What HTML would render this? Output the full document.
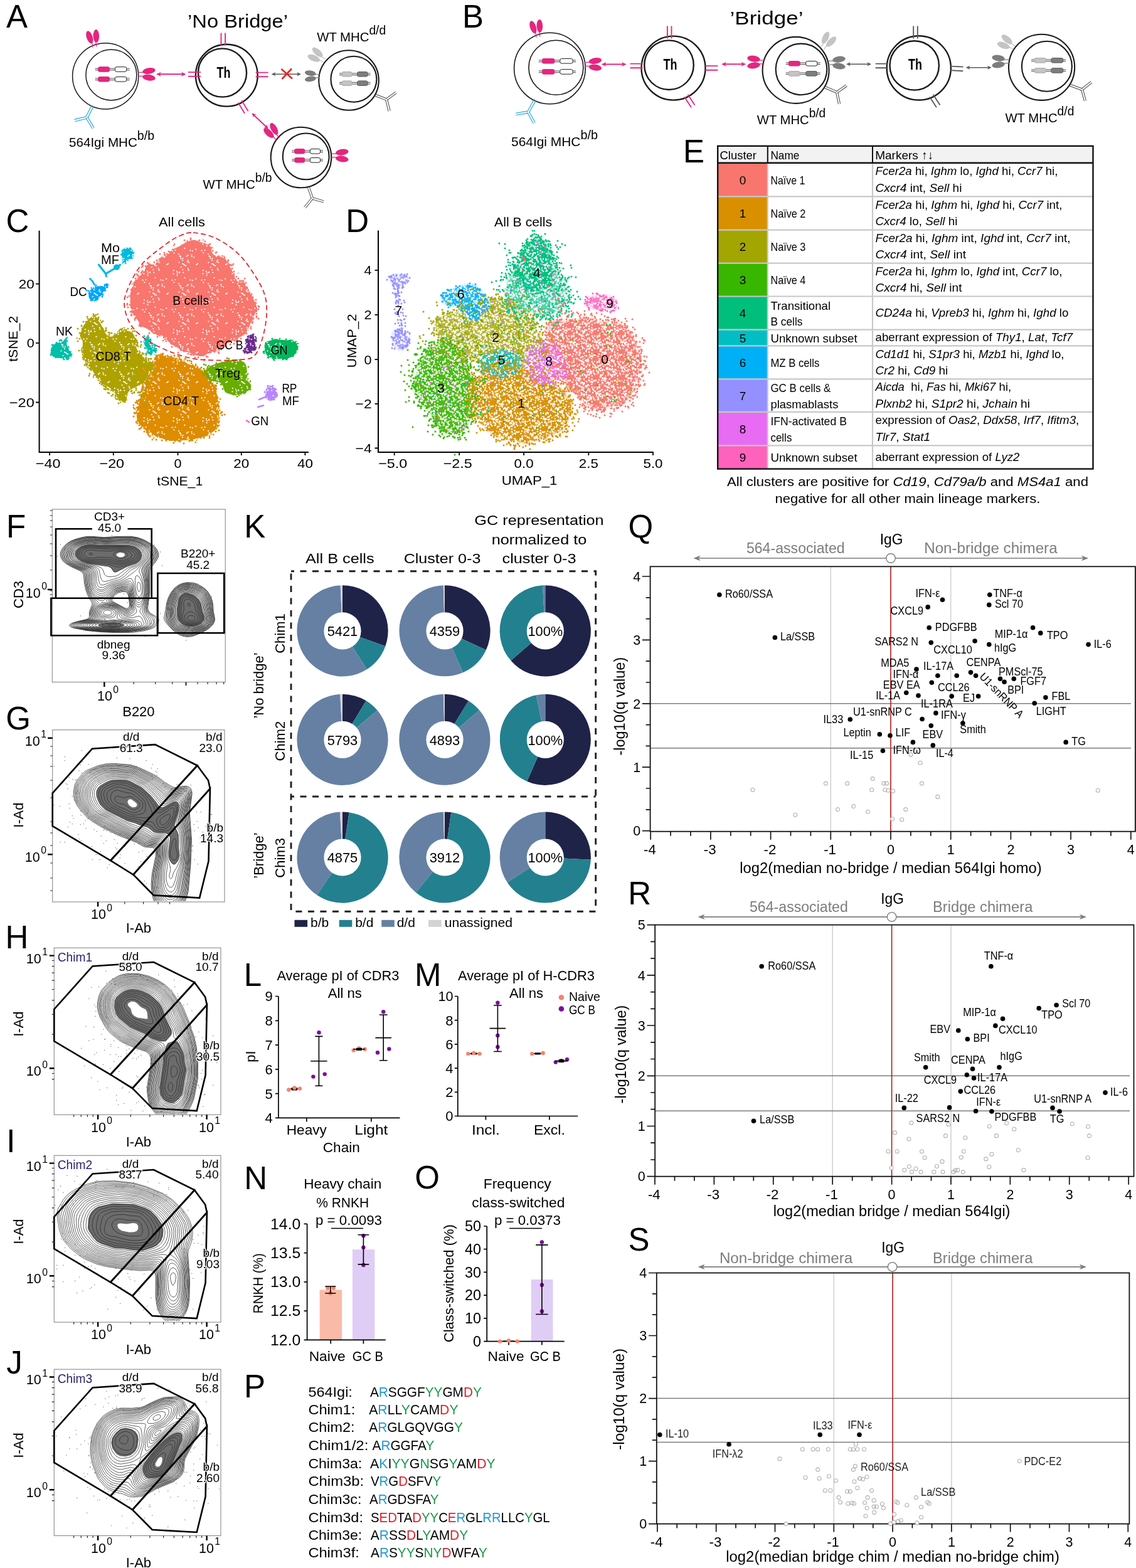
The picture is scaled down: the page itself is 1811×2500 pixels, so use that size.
<!DOCTYPE html>
<html><head><meta charset="utf-8"><title>Figure</title>
<style>html,body{margin:0;padding:0;background:#fff;}svg{display:block;}
text{font-family:"Liberation Sans", Arial, sans-serif;}</style></head>
<body><svg width="1811" height="2500" viewBox="0 0 1811 2500">
<rect width="1811" height="2500" fill="#fff"/>
<text x="10.0" y="43.8" font-size="51">A</text>
<text x="379.0" y="43.5" font-size="30" text-anchor="middle" textLength="160" lengthAdjust="spacingAndGlyphs">’No Bridge’</text>
<circle cx="168.2" cy="121.4" r="52.6" fill="none" stroke="#1a1a1a" stroke-width="1.5"/>
<circle cx="177.4" cy="119.4" r="40.5" fill="none" stroke="#1a1a1a" stroke-width="1.5"/>
<path d="M151.6 109.2H206.7M151.6 111.8H206.7" stroke="#333" stroke-width="0.9" fill="none"/>
<rect x="156.5" y="106.7" width="18.1" height="7.6" rx="2.6" fill="#e4267f" stroke="#e4267f" stroke-width="1"/>
<rect x="183.4" y="106.7" width="18.3" height="7.6" rx="2.6" fill="#fff" stroke="#222" stroke-width="1"/>
<path d="M151.6 125H206.7M151.6 127.6H206.7" stroke="#333" stroke-width="0.9" fill="none"/>
<rect x="156.5" y="122.5" width="18.1" height="7.6" rx="2.6" fill="#e4267f" stroke="#e4267f" stroke-width="1"/>
<rect x="183.4" y="122.5" width="18.3" height="7.6" rx="2.6" fill="#fff" stroke="#222" stroke-width="1"/>
<g transform="translate(220.5 118.3) rotate(0) scale(1.15)" fill="#e4267f"><path d="M0 -2.6H7.5M0 2.6H7.5" stroke="#e4267f" stroke-width="1.1" fill="none"/><ellipse cx="15" cy="-3.5" rx="9" ry="4.2" transform="rotate(-8.4 7 -2)"/><ellipse cx="15" cy="3.5" rx="9" ry="4.2" transform="rotate(8.4 7 2)"/></g>
<g transform="translate(151 75) rotate(-100) scale(1.15)" fill="#e4267f"><path d="M0 -2.6H7.5M0 2.6H7.5" stroke="#e4267f" stroke-width="1.1" fill="none"/><ellipse cx="15" cy="-3.5" rx="9" ry="4.2" transform="rotate(-8.4 7 -2)"/><ellipse cx="15" cy="3.5" rx="9" ry="4.2" transform="rotate(8.4 7 2)"/></g>
<path transform="translate(147.7 168.6) rotate(116.6)" d="M0 1.7L21 1.7M0 -1.7L21 -1.7M19.7 1.1L32.6 16.4M22.3 -1.1L35.2 14.2M22.4 0.9L33 -16.1M19.6 -0.9L30.2 -17.9" stroke="#1b9fe0" stroke-width="1.1" fill="none"/>
<text x="110" y="233.6" font-size="21" textLength="136" lengthAdjust="spacingAndGlyphs">564Igi MHC<tspan font-size="19.9" dy="-11">b/b</tspan></text>
<path d="M253.8 118.3L291.9 118.3" stroke="#e4267f" stroke-width="2.0"/>
<path d="M249 118.3L257 121.9L254.6 118.3L257 114.7Z" fill="#e4267f"/>
<path d="M296.7 118.3L288.7 121.9L291.1 118.3L288.7 114.7Z" fill="#e4267f"/>
<circle cx="361.3" cy="120.2" r="49.4" fill="none" stroke="#1a1a1a" stroke-width="2.4"/>
<circle cx="354.5" cy="116" r="38.6" fill="none" stroke="#1a1a1a" stroke-width="2.4"/>
<text x="356.5" y="123.5" font-size="23" font-weight="bold" text-anchor="middle" textLength="22" lengthAdjust="spacingAndGlyphs">Th</text>
<path transform="translate(355.8 62.6) rotate(90)" d="M-10.0 -3.3H10.0M-10.0 3.3H10.0" stroke="#e4267f" stroke-width="1.9" fill="none"/>
<path transform="translate(310 118.4) rotate(0)" d="M-10.0 -3.3H10.0M-10.0 3.3H10.0" stroke="#e4267f" stroke-width="1.9" fill="none"/>
<path transform="translate(417.6 118.9) rotate(0)" d="M-10.0 -3.3H10.0M-10.0 3.3H10.0" stroke="#e4267f" stroke-width="1.9" fill="none"/>
<path transform="translate(387.7 170.5) rotate(59)" d="M-10.0 -3.3H10.0M-10.0 3.3H10.0" stroke="#e4267f" stroke-width="1.9" fill="none"/>
<path d="M436.8 118.3L475.8 118.3" stroke="#5a5a5a" stroke-width="1.6"/>
<path d="M432.6 118.3L439.6 121.5L437.5 118.3L439.6 115.1Z" fill="#5a5a5a"/>
<path d="M480 118.3L473 121.5L475.1 118.3L473 115.1Z" fill="#5a5a5a"/>
<path d="M448.5 110L466 125.5M465 109.5L449.5 126" stroke="#e52521" stroke-width="2.6"/>
<circle cx="556" cy="128" r="47.8" fill="none" stroke="#1a1a1a" stroke-width="2.1"/>
<circle cx="563.9" cy="126.3" r="36.5" fill="none" stroke="#1a1a1a" stroke-width="2.1"/>
<g transform="translate(517.5 97) rotate(-148) scale(1.15)" fill="#c4c4c4"><path d="M0 -2.6H7.5M0 2.6H7.5" stroke="#c4c4c4" stroke-width="1.1" fill="none"/><ellipse cx="15" cy="-3.5" rx="9" ry="4.2" transform="rotate(-9.6 7 -2)"/><ellipse cx="15" cy="3.5" rx="9" ry="4.2" transform="rotate(9.6 7 2)"/></g>
<g transform="translate(509.5 121.3) rotate(180) scale(1.0)" fill="#7d7d7d"><path d="M0 -2.6H7.5M0 2.6H7.5" stroke="#7d7d7d" stroke-width="1.1" fill="none"/><ellipse cx="15" cy="-3.5" rx="9" ry="4.2" transform="rotate(-8.4 7 -2)"/><ellipse cx="15" cy="3.5" rx="9" ry="4.2" transform="rotate(8.4 7 2)"/></g>
<path d="M541 117H590.5M541 119.6H590.5" stroke="#333" stroke-width="0.9" fill="none"/>
<rect x="545.2" y="114.5" width="16" height="7.6" rx="2.6" fill="#c4c4c4" stroke="#a8a8a8" stroke-width="1"/>
<rect x="569.5" y="114.5" width="16.8" height="7.6" rx="2.6" fill="#7d7d7d" stroke="#5f5f5f" stroke-width="1"/>
<path d="M541 131.4H590.5M541 134H590.5" stroke="#333" stroke-width="0.9" fill="none"/>
<rect x="545.2" y="128.9" width="16" height="7.6" rx="2.6" fill="#c4c4c4" stroke="#a8a8a8" stroke-width="1"/>
<rect x="569.5" y="128.9" width="16.8" height="7.6" rx="2.6" fill="#7d7d7d" stroke="#5f5f5f" stroke-width="1"/>
<path transform="translate(598.5 151.7) rotate(21.5)" d="M0 1.6L19 1.6M0 -1.6L19 -1.6M20.4 0.8L30.4 -15.3M17.6 -0.8L27.7 -17M17.7 0.9L28.6 16.5M20.3 -0.9L31.2 14.6" stroke="#444" stroke-width="1.0" fill="none"/>
<text x="505.2" y="66.2" font-size="21" textLength="110" lengthAdjust="spacingAndGlyphs">WT MHC<tspan font-size="19.9" dy="-11">d/d</tspan></text>
<path d="M404.4 183.2L424.8 202.5" stroke="#e4267f" stroke-width="1.9"/>
<path d="M401.4 180.3L404.3 187.4L405 183.7L408.7 182.8Z" fill="#e4267f"/>
<path d="M427.8 205.4L420.5 202.9L424.2 202L424.9 198.3Z" fill="#e4267f"/>
<circle cx="480" cy="251" r="48.3" fill="none" stroke="#1a1a1a" stroke-width="2.1"/>
<circle cx="487.7" cy="249.4" r="36.9" fill="none" stroke="#1a1a1a" stroke-width="2.1"/>
<g transform="translate(443 222) rotate(-128) scale(1.15)" fill="#e4267f"><path d="M0 -2.6H7.5M0 2.6H7.5" stroke="#e4267f" stroke-width="1.1" fill="none"/><ellipse cx="15" cy="-3.5" rx="9" ry="4.2" transform="rotate(-8.4 7 -2)"/><ellipse cx="15" cy="3.5" rx="9" ry="4.2" transform="rotate(8.4 7 2)"/></g>
<g transform="translate(528.4 248) rotate(0) scale(1.15)" fill="#e4267f"><path d="M0 -2.6H7.5M0 2.6H7.5" stroke="#e4267f" stroke-width="1.1" fill="none"/><ellipse cx="15" cy="-3.5" rx="9" ry="4.2" transform="rotate(-8.4 7 -2)"/><ellipse cx="15" cy="3.5" rx="9" ry="4.2" transform="rotate(8.4 7 2)"/></g>
<path d="M465 239.9H515M465 242.5H515" stroke="#333" stroke-width="0.9" fill="none"/>
<rect x="469.6" y="237.4" width="16.2" height="7.6" rx="2.6" fill="#e4267f" stroke="#e4267f" stroke-width="1"/>
<rect x="494.3" y="237.4" width="16.2" height="7.6" rx="2.6" fill="#fff" stroke="#222" stroke-width="1"/>
<path d="M465 254H515M465 256.6H515" stroke="#333" stroke-width="0.9" fill="none"/>
<rect x="469.6" y="251.5" width="16.2" height="7.6" rx="2.6" fill="#e4267f" stroke="#e4267f" stroke-width="1"/>
<rect x="494.3" y="251.5" width="16.2" height="7.6" rx="2.6" fill="#fff" stroke="#222" stroke-width="1"/>
<path transform="translate(491.7 298.3) rotate(71)" d="M0 1.6L19 1.6M0 -1.6L19 -1.6M17.6 0.8L27.7 17M20.4 -0.8L30.4 15.3M20.3 0.9L31.2 -14.6M17.7 -0.9L28.6 -16.5" stroke="#555" stroke-width="1.0" fill="none"/>
<text x="323.5" y="301.3" font-size="21" textLength="110" lengthAdjust="spacingAndGlyphs">WT MHC<tspan font-size="19.9" dy="-11">b/b</tspan></text>
<text x="737.1" y="43.6" font-size="51">B</text>
<text x="1222.0" y="39.0" font-size="30" text-anchor="middle" textLength="117" lengthAdjust="spacingAndGlyphs">’Bridge’</text>
<circle cx="876.4" cy="109" r="56.8" fill="none" stroke="#1a1a1a" stroke-width="1.6"/>
<circle cx="886.4" cy="107.7" r="43.5" fill="none" stroke="#1a1a1a" stroke-width="1.6"/>
<path d="M858.8 96H918.1M858.8 98.6H918.1" stroke="#333" stroke-width="0.9" fill="none"/>
<rect x="864.3" y="93.5" width="19.7" height="7.6" rx="2.6" fill="#e4267f" stroke="#e4267f" stroke-width="1"/>
<rect x="892.8" y="93.5" width="20.3" height="7.6" rx="2.6" fill="#fff" stroke="#222" stroke-width="1"/>
<path d="M858.8 113.1H918.1M858.8 115.7H918.1" stroke="#333" stroke-width="0.9" fill="none"/>
<rect x="864.3" y="110.6" width="19.7" height="7.6" rx="2.6" fill="#e4267f" stroke="#e4267f" stroke-width="1"/>
<rect x="892.8" y="110.6" width="20.3" height="7.6" rx="2.6" fill="#fff" stroke="#222" stroke-width="1"/>
<g transform="translate(932 102.3) rotate(0) scale(1.15)" fill="#e4267f"><path d="M0 -2.6H7.5M0 2.6H7.5" stroke="#e4267f" stroke-width="1.1" fill="none"/><ellipse cx="15" cy="-3.5" rx="9" ry="4.2" transform="rotate(-8.4 7 -2)"/><ellipse cx="15" cy="3.5" rx="9" ry="4.2" transform="rotate(8.4 7 2)"/></g>
<g transform="translate(858 59) rotate(-100) scale(1.15)" fill="#e4267f"><path d="M0 -2.6H7.5M0 2.6H7.5" stroke="#e4267f" stroke-width="1.1" fill="none"/><ellipse cx="15" cy="-3.5" rx="9" ry="4.2" transform="rotate(-8.4 7 -2)"/><ellipse cx="15" cy="3.5" rx="9" ry="4.2" transform="rotate(8.4 7 2)"/></g>
<path transform="translate(853.2 158.6) rotate(119)" d="M0 1.7L23 1.7M0 -1.7L23 -1.7M21.7 1L34 16.8M24.3 -1L36.7 14.7M24.4 0.9L35 -16.1M21.6 -0.9L32.2 -17.9" stroke="#1b9fe0" stroke-width="1.1" fill="none"/>
<text x="815" y="233.4" font-size="21" textLength="138" lengthAdjust="spacingAndGlyphs">564Igi MHC<tspan font-size="19.9" dy="-11">b/b</tspan></text>
<path d="M963.5 102.5L994 102.5" stroke="#e4267f" stroke-width="2.0"/>
<path d="M958.7 102.5L966.7 106.1L964.3 102.5L966.7 98.9Z" fill="#e4267f"/>
<path d="M998.8 102.5L990.8 106.1L993.2 102.5L990.8 98.9Z" fill="#e4267f"/>
<circle cx="1073.5" cy="108.6" r="51" fill="none" stroke="#1a1a1a" stroke-width="2.4"/>
<circle cx="1066.5" cy="103.7" r="39.3" fill="none" stroke="#1a1a1a" stroke-width="2.4"/>
<text x="1068.5" y="111" font-size="23" font-weight="bold" text-anchor="middle" textLength="22" lengthAdjust="spacingAndGlyphs">Th</text>
<path transform="translate(1067.2 51.6) rotate(90)" d="M-10.0 -3.3H10.0M-10.0 3.3H10.0" stroke="#e4267f" stroke-width="1.9" fill="none"/>
<path transform="translate(1014.5 104.9) rotate(0)" d="M-10.0 -3.3H10.0M-10.0 3.3H10.0" stroke="#e4267f" stroke-width="1.9" fill="none"/>
<path transform="translate(1134.4 108.4) rotate(0)" d="M-10.0 -3.3H10.0M-10.0 3.3H10.0" stroke="#e4267f" stroke-width="1.9" fill="none"/>
<path transform="translate(1099.3 161) rotate(57)" d="M-10.0 -3.3H10.0M-10.0 3.3H10.0" stroke="#e4267f" stroke-width="1.9" fill="none"/>
<path d="M1154.9 102.3L1184.5 102.3" stroke="#e4267f" stroke-width="2.0"/>
<path d="M1150.1 102.3L1158.1 105.9L1155.7 102.3L1158.1 98.7Z" fill="#e4267f"/>
<path d="M1189.3 102.3L1181.3 105.9L1183.7 102.3L1181.3 98.7Z" fill="#e4267f"/>
<circle cx="1268.6" cy="111.9" r="53" fill="none" stroke="#1a1a1a" stroke-width="2.1"/>
<circle cx="1277.5" cy="110.4" r="40.8" fill="none" stroke="#1a1a1a" stroke-width="2.1"/>
<path d="M1252.6 100H1307.8M1252.6 102.6H1307.8" stroke="#333" stroke-width="0.9" fill="none"/>
<rect x="1257.2" y="97.5" width="18.1" height="7.6" rx="2.6" fill="#e4267f" stroke="#e4267f" stroke-width="1"/>
<rect x="1284.7" y="97.5" width="18.1" height="7.6" rx="2.6" fill="#fff" stroke="#222" stroke-width="1"/>
<path d="M1252.6 116.1H1307.8M1252.6 118.7H1307.8" stroke="#333" stroke-width="0.9" fill="none"/>
<rect x="1257.2" y="113.6" width="18.1" height="7.6" rx="2.6" fill="#c4c4c4" stroke="#a8a8a8" stroke-width="1"/>
<rect x="1284.7" y="113.6" width="18.1" height="7.6" rx="2.6" fill="#7d7d7d" stroke="#5f5f5f" stroke-width="1"/>
<g transform="translate(1218.4 99) rotate(180) scale(1.15)" fill="#e4267f"><path d="M0 -2.6H7.5M0 2.6H7.5" stroke="#e4267f" stroke-width="1.1" fill="none"/><ellipse cx="15" cy="-3.5" rx="9" ry="4.2" transform="rotate(-8.4 7 -2)"/><ellipse cx="15" cy="3.5" rx="9" ry="4.2" transform="rotate(8.4 7 2)"/></g>
<g transform="translate(1311 77) rotate(-55) scale(1.15)" fill="#c4c4c4"><path d="M0 -2.6H7.5M0 2.6H7.5" stroke="#c4c4c4" stroke-width="1.1" fill="none"/><ellipse cx="15" cy="-3.5" rx="9" ry="4.2" transform="rotate(-9.6 7 -2)"/><ellipse cx="15" cy="3.5" rx="9" ry="4.2" transform="rotate(9.6 7 2)"/></g>
<g transform="translate(1320.5 100) rotate(0) scale(1.15)" fill="#7d7d7d"><path d="M0 -2.6H7.5M0 2.6H7.5" stroke="#7d7d7d" stroke-width="1.1" fill="none"/><ellipse cx="15" cy="-3.5" rx="9" ry="4.2" transform="rotate(-8.4 7 -2)"/><ellipse cx="15" cy="3.5" rx="9" ry="4.2" transform="rotate(8.4 7 2)"/></g>
<path transform="translate(1313.8 138.5) rotate(23)" d="M0 1.6L22 1.6M0 -1.6L22 -1.6M23.4 0.8L33.4 -15.3M20.6 -0.8L30.7 -17M20.7 0.9L31.6 16.5M23.3 -0.9L34.2 14.6" stroke="#444" stroke-width="1.0" fill="none"/>
<text x="1206.8" y="197.7" font-size="21" textLength="109.5" lengthAdjust="spacingAndGlyphs">WT MHC<tspan font-size="19.9" dy="-11">b/d</tspan></text>
<path d="M1353.2 102.3L1384.9 102.3" stroke="#5a5a5a" stroke-width="1.6"/>
<path d="M1349 102.3L1356 105.5L1353.9 102.3L1356 99.1Z" fill="#5a5a5a"/>
<path d="M1389.1 102.3L1382.1 105.5L1384.2 102.3L1382.1 99.1Z" fill="#5a5a5a"/>
<circle cx="1464.8" cy="108.4" r="51.1" fill="none" stroke="#1a1a1a" stroke-width="2.4"/>
<circle cx="1457.7" cy="104.4" r="39.2" fill="none" stroke="#1a1a1a" stroke-width="2.4"/>
<text x="1459" y="111" font-size="23" font-weight="bold" text-anchor="middle" textLength="22" lengthAdjust="spacingAndGlyphs">Th</text>
<path transform="translate(1459.5 51.6) rotate(90)" d="M-10.0 -3.3H10.0M-10.0 3.3H10.0" stroke="#5a5a5a" stroke-width="1.9" fill="none"/>
<path transform="translate(1405.7 104.9) rotate(0)" d="M-10.0 -3.3H10.0M-10.0 3.3H10.0" stroke="#5a5a5a" stroke-width="1.9" fill="none"/>
<path transform="translate(1525.5 109.4) rotate(3)" d="M-10.0 -3.3H10.0M-10.0 3.3H10.0" stroke="#5a5a5a" stroke-width="1.9" fill="none"/>
<path transform="translate(1490.3 161) rotate(57)" d="M-10.0 -3.3H10.0M-10.0 3.3H10.0" stroke="#5a5a5a" stroke-width="1.9" fill="none"/>
<path d="M1543.8 107.8L1576.6 107.8" stroke="#5a5a5a" stroke-width="1.6"/>
<path d="M1539.6 107.8L1546.6 111L1544.5 107.8L1546.6 104.6Z" fill="#5a5a5a"/>
<path d="M1580.8 107.8L1573.8 111L1575.9 107.8L1573.8 104.6Z" fill="#5a5a5a"/>
<circle cx="1660.6" cy="107.3" r="52.6" fill="none" stroke="#1a1a1a" stroke-width="2.1"/>
<circle cx="1668.9" cy="105.8" r="40" fill="none" stroke="#1a1a1a" stroke-width="2.1"/>
<path d="M1644 95H1699.3M1644 97.6H1699.3" stroke="#333" stroke-width="0.9" fill="none"/>
<rect x="1649" y="92.5" width="18.5" height="7.6" rx="2.6" fill="#c4c4c4" stroke="#a8a8a8" stroke-width="1"/>
<rect x="1675.8" y="92.5" width="19" height="7.6" rx="2.6" fill="#7d7d7d" stroke="#5f5f5f" stroke-width="1"/>
<path d="M1644 111.1H1699.3M1644 113.7H1699.3" stroke="#333" stroke-width="0.9" fill="none"/>
<rect x="1649" y="108.6" width="18.5" height="7.6" rx="2.6" fill="#c4c4c4" stroke="#a8a8a8" stroke-width="1"/>
<rect x="1675.8" y="108.6" width="19" height="7.6" rx="2.6" fill="#7d7d7d" stroke="#5f5f5f" stroke-width="1"/>
<g transform="translate(1617 76) rotate(-150) scale(1.15)" fill="#c4c4c4"><path d="M0 -2.6H7.5M0 2.6H7.5" stroke="#c4c4c4" stroke-width="1.1" fill="none"/><ellipse cx="15" cy="-3.5" rx="9" ry="4.2" transform="rotate(-9.6 7 -2)"/><ellipse cx="15" cy="3.5" rx="9" ry="4.2" transform="rotate(9.6 7 2)"/></g>
<g transform="translate(1608.5 98) rotate(180) scale(1.15)" fill="#7d7d7d"><path d="M0 -2.6H7.5M0 2.6H7.5" stroke="#7d7d7d" stroke-width="1.1" fill="none"/><ellipse cx="15" cy="-3.5" rx="9" ry="4.2" transform="rotate(-8.4 7 -2)"/><ellipse cx="15" cy="3.5" rx="9" ry="4.2" transform="rotate(8.4 7 2)"/></g>
<path transform="translate(1705.3 135.5) rotate(20)" d="M0 1.6L21 1.6M0 -1.6L21 -1.6M22.4 0.8L32.4 -15.3M19.6 -0.8L29.7 -17M19.7 0.9L30.6 16.5M22.3 -0.9L33.2 14.6" stroke="#444" stroke-width="1.0" fill="none"/>
<text x="1602.4" y="194.7" font-size="21" textLength="110" lengthAdjust="spacingAndGlyphs">WT MHC<tspan font-size="19.9" dy="-11">d/d</tspan></text>
<text x="1089.0" y="258.9" font-size="51">E</text>
<rect x="1144.2" y="232.8" width="598.3" height="27.0" fill="#f2f2f2"/>
<rect x="1144.2" y="259.8" width="79.59999999999991" height="53.599999999999966" fill="#F8766D"/>
<rect x="1144.2" y="313.4" width="79.59999999999991" height="53.200000000000045" fill="#D89000"/>
<rect x="1144.2" y="366.6" width="79.59999999999991" height="53.0" fill="#A3A500"/>
<rect x="1144.2" y="419.6" width="79.59999999999991" height="52.89999999999998" fill="#39B600"/>
<rect x="1144.2" y="472.5" width="79.59999999999991" height="53.10000000000002" fill="#00BF7D"/>
<rect x="1144.2" y="525.6" width="79.59999999999991" height="25.799999999999955" fill="#00BFC4"/>
<rect x="1144.2" y="551.4" width="79.59999999999991" height="53.0" fill="#00B0F6"/>
<rect x="1144.2" y="604.4" width="79.59999999999991" height="52.5" fill="#9590FF"/>
<rect x="1144.2" y="656.9" width="79.59999999999991" height="53.39999999999998" fill="#E76BF3"/>
<rect x="1144.2" y="710.3" width="79.59999999999991" height="37.30000000000007" fill="#FF62BC"/>
<path d="M1144.2 313.4H1742.5M1144.2 366.6H1742.5M1144.2 419.6H1742.5M1144.2 472.5H1742.5M1144.2 525.6H1742.5M1144.2 551.4H1742.5M1144.2 604.4H1742.5M1144.2 656.9H1742.5M1144.2 710.3H1742.5M1223.8 259.8V747.6M1391 259.8V747.6" stroke="#c8c8c8" stroke-width="2.2" fill="none"/>
<path d="M1223.8 232.8V259.8M1391 232.8V259.8" stroke="#111" stroke-width="2" fill="none"/>
<path d="M1144.2 259.8H1742.5" stroke="#111" stroke-width="2.6"/>
<rect x="1144.2" y="232.8" width="598.3" height="514.8" fill="none" stroke="#111" stroke-width="2.4"/>
<text x="1147.5" y="253.8" font-size="19" textLength="58.5" lengthAdjust="spacingAndGlyphs">Cluster</text>
<text x="1228.4" y="253.8" font-size="19" textLength="46" lengthAdjust="spacingAndGlyphs">Name</text>
<text x="1395.2" y="253.8" font-size="19" textLength="93" lengthAdjust="spacingAndGlyphs">Markers ↑↓</text>
<text x="1184.0" y="293.6" font-size="19" text-anchor="middle">0</text>
<text x="1228.4" y="293.6" font-size="19" textLength="55" lengthAdjust="spacingAndGlyphs">Naïve 1</text>
<text x="1395.5" y="279.3" font-size="19" textLength="291" lengthAdjust="spacingAndGlyphs" xml:space="preserve"><tspan font-style="italic">Fcer2a</tspan> hi, <tspan font-style="italic">Ighm</tspan> lo, <tspan font-style="italic">Ighd</tspan> hi, <tspan font-style="italic">Ccr7</tspan> hi,</text>
<text x="1395.5" y="305.6" font-size="19" textLength="138" lengthAdjust="spacingAndGlyphs" xml:space="preserve"><tspan font-style="italic">Cxcr4</tspan> int, <tspan font-style="italic">Sell</tspan> hi</text>
<text x="1184.0" y="347.0" font-size="19" text-anchor="middle">1</text>
<text x="1228.4" y="347.0" font-size="19" textLength="56" lengthAdjust="spacingAndGlyphs">Naïve 2</text>
<text x="1395.5" y="332.7" font-size="19" textLength="298" lengthAdjust="spacingAndGlyphs" xml:space="preserve"><tspan font-style="italic">Fcer2a</tspan> hi, <tspan font-style="italic">Ighm</tspan> hi, <tspan font-style="italic">Ighd</tspan> hi, <tspan font-style="italic">Ccr7</tspan> int,</text>
<text x="1395.5" y="359.0" font-size="19" textLength="131" lengthAdjust="spacingAndGlyphs" xml:space="preserve"><tspan font-style="italic">Cxcr4</tspan> lo, <tspan font-style="italic">Sell</tspan> hi</text>
<text x="1184.0" y="400.1" font-size="19" text-anchor="middle">2</text>
<text x="1228.4" y="400.1" font-size="19" textLength="56" lengthAdjust="spacingAndGlyphs">Naïve 3</text>
<text x="1395.5" y="385.8" font-size="19" textLength="311" lengthAdjust="spacingAndGlyphs" xml:space="preserve"><tspan font-style="italic">Fcer2a</tspan> hi, <tspan font-style="italic">Ighm</tspan> int, <tspan font-style="italic">Ighd</tspan> int, <tspan font-style="italic">Ccr7</tspan> int,</text>
<text x="1395.5" y="412.1" font-size="19" textLength="144.6" lengthAdjust="spacingAndGlyphs" xml:space="preserve"><tspan font-style="italic">Cxcr4</tspan> int, <tspan font-style="italic">Sell</tspan> int</text>
<text x="1184.0" y="453.1" font-size="19" text-anchor="middle">3</text>
<text x="1228.4" y="453.1" font-size="19" textLength="56" lengthAdjust="spacingAndGlyphs">Naïve 4</text>
<text x="1395.5" y="438.8" font-size="19" textLength="298" lengthAdjust="spacingAndGlyphs" xml:space="preserve"><tspan font-style="italic">Fcer2a</tspan> hi, <tspan font-style="italic">Ighm</tspan> lo, <tspan font-style="italic">Ighd</tspan> int, <tspan font-style="italic">Ccr7</tspan> lo,</text>
<text x="1395.5" y="465.1" font-size="19" textLength="138" lengthAdjust="spacingAndGlyphs" xml:space="preserve"><tspan font-style="italic">Cxcr4</tspan> hi, <tspan font-style="italic">Sell</tspan> int</text>
<text x="1184.0" y="506.1" font-size="19" text-anchor="middle">4</text>
<text x="1228.4" y="493.6" font-size="19" textLength="95.7" lengthAdjust="spacingAndGlyphs">Transitional</text>
<text x="1228.4" y="519.0" font-size="19" textLength="51" lengthAdjust="spacingAndGlyphs">B cells</text>
<text x="1395.5" y="504.6" font-size="19" textLength="308" lengthAdjust="spacingAndGlyphs" xml:space="preserve"><tspan font-style="italic">CD24a</tspan> hi, <tspan font-style="italic">Vpreb3</tspan> hi, <tspan font-style="italic">Ighm</tspan> hi, <tspan font-style="italic">Ighd</tspan> lo</text>
<text x="1184.0" y="545.5" font-size="19" text-anchor="middle">5</text>
<text x="1228.4" y="545.5" font-size="19" textLength="138.3" lengthAdjust="spacingAndGlyphs">Unknown subset</text>
<text x="1395.5" y="544.0" font-size="19" textLength="314.6" lengthAdjust="spacingAndGlyphs" xml:space="preserve">aberrant expression of <tspan font-style="italic">Thy1</tspan>, <tspan font-style="italic">Lat</tspan>, <tspan font-style="italic">Tcf7</tspan></text>
<text x="1184.0" y="584.9" font-size="19" text-anchor="middle">6</text>
<text x="1228.4" y="584.9" font-size="19" textLength="78" lengthAdjust="spacingAndGlyphs">MZ B cells</text>
<text x="1395.5" y="570.6" font-size="19" textLength="301" lengthAdjust="spacingAndGlyphs" xml:space="preserve"><tspan font-style="italic">Cd1d1</tspan> hi, <tspan font-style="italic">S1pr3</tspan> hi, <tspan font-style="italic">Mzb1</tspan> hi, <tspan font-style="italic">Ighd</tspan> lo,</text>
<text x="1395.5" y="596.9" font-size="19" textLength="115.7" lengthAdjust="spacingAndGlyphs" xml:space="preserve"><tspan font-style="italic">Cr2</tspan> hi, <tspan font-style="italic">Cd9</tspan> hi</text>
<text x="1184.0" y="637.6" font-size="19" text-anchor="middle">7</text>
<text x="1228.4" y="625.1" font-size="19" textLength="96" lengthAdjust="spacingAndGlyphs">GC B cells &amp;</text>
<text x="1228.4" y="650.6" font-size="19" textLength="108" lengthAdjust="spacingAndGlyphs">plasmablasts</text>
<text x="1395.5" y="623.4" font-size="19" textLength="216.7" lengthAdjust="spacingAndGlyphs" xml:space="preserve"><tspan font-style="italic">Aicda</tspan>  hi, <tspan font-style="italic">Fas</tspan> hi, <tspan font-style="italic">Mki67</tspan> hi,</text>
<text x="1395.5" y="649.6" font-size="19" textLength="246.5" lengthAdjust="spacingAndGlyphs" xml:space="preserve"><tspan font-style="italic">Plxnb2</tspan> hi, <tspan font-style="italic">S1pr2</tspan> hi, <tspan font-style="italic">Jchain</tspan> hi</text>
<text x="1184.0" y="690.6" font-size="19" text-anchor="middle">8</text>
<text x="1228.4" y="678.1" font-size="19" textLength="121.5" lengthAdjust="spacingAndGlyphs">IFN-activated B</text>
<text x="1228.4" y="703.6" font-size="19" textLength="34" lengthAdjust="spacingAndGlyphs">cells</text>
<text x="1395.5" y="676.3" font-size="19" textLength="324.8" lengthAdjust="spacingAndGlyphs" xml:space="preserve">expression of <tspan font-style="italic">Oas2</tspan>, <tspan font-style="italic">Ddx58</tspan>, <tspan font-style="italic">Irf7</tspan>, <tspan font-style="italic">Ifitm3</tspan>,</text>
<text x="1395.5" y="702.6" font-size="19" textLength="87.7" lengthAdjust="spacingAndGlyphs" xml:space="preserve"><tspan font-style="italic">Tlr7</tspan>, <tspan font-style="italic">Stat1</tspan></text>
<text x="1184.0" y="736.0" font-size="19" text-anchor="middle">9</text>
<text x="1228.4" y="736.0" font-size="19" textLength="138.3" lengthAdjust="spacingAndGlyphs">Unknown subset</text>
<text x="1395.5" y="734.5" font-size="19" textLength="230" lengthAdjust="spacingAndGlyphs" xml:space="preserve">aberrant expression of <tspan font-style="italic">Lyz2</tspan></text>
<text x="1447" y="774.8" font-size="20" textLength="576" lengthAdjust="spacingAndGlyphs" text-anchor="middle" xml:space="preserve">All clusters are positive for <tspan font-style="italic">Cd19</tspan>, <tspan font-style="italic">Cd79a/b</tspan> and <tspan font-style="italic">MS4a1</tspan> and</text>
<text x="1447" y="801.5" font-size="20" textLength="423" lengthAdjust="spacingAndGlyphs" text-anchor="middle" xml:space="preserve">negative for all other main lineage markers.</text>
<text x="9.5" y="370.4" font-size="51">C</text>
<text x="290.0" y="361.2" font-size="21" text-anchor="middle" textLength="74" lengthAdjust="spacingAndGlyphs">All cells</text>
<path d="M62.6 367.8V721H492" fill="none" stroke="#000" stroke-width="2.0"/>
<path d="M79.1 721V726M180.8 721V726M283.5 721V726M384.8 721V726M486.4 721V726M62.4 452.6H57M62.4 546.9H57M62.4 641.5H57" stroke="#000" stroke-width="1.8"/>
<text x="76.6" y="746.3" font-size="21" text-anchor="middle" textLength="39.6" lengthAdjust="spacingAndGlyphs">−40</text>
<text x="178.3" y="746.3" font-size="21" text-anchor="middle" textLength="39.6" lengthAdjust="spacingAndGlyphs">−20</text>
<text x="283.5" y="746.3" font-size="21" text-anchor="middle" textLength="12" lengthAdjust="spacingAndGlyphs">0</text>
<text x="384.8" y="746.3" font-size="21" text-anchor="middle" textLength="25" lengthAdjust="spacingAndGlyphs">20</text>
<text x="486.4" y="746.3" font-size="21" text-anchor="middle" textLength="25" lengthAdjust="spacingAndGlyphs">40</text>
<text x="54.8" y="460.1" font-size="21" text-anchor="end" textLength="25" lengthAdjust="spacingAndGlyphs">20</text>
<text x="54.8" y="554.4" font-size="21" text-anchor="end" textLength="12" lengthAdjust="spacingAndGlyphs">0</text>
<text x="54.8" y="649.0" font-size="21" text-anchor="end" textLength="40" lengthAdjust="spacingAndGlyphs">−20</text>
<text x="286.7" y="774.2" font-size="21" text-anchor="middle" textLength="73" lengthAdjust="spacingAndGlyphs">tSNE_1</text>
<text transform="translate(27.5 540.3) rotate(-90)" font-size="21" text-anchor="middle" textLength="73" lengthAdjust="spacingAndGlyphs">tSNE_2</text>
<defs><pattern id="spC" patternUnits="userSpaceOnUse" width="47" height="47"><g fill="#fff"><circle cx="10.7" cy="45.2" r="1.1"/><circle cx="5.9" cy="33.1" r="1.1"/><circle cx="4.0" cy="11.6" r="1.1"/><circle cx="-0.0" cy="9.8" r="1.1"/><circle cx="47.0" cy="9.8" r="1.1"/><circle cx="30.2" cy="21.6" r="1.1"/><circle cx="21.3" cy="23.3" r="1.1"/><circle cx="9.0" cy="39.0" r="1.1"/><circle cx="4.2" cy="11.0" r="1.1"/><circle cx="0.9" cy="12.5" r="1.1"/><circle cx="47.9" cy="12.5" r="1.1"/><circle cx="19.2" cy="42.4" r="1.1"/><circle cx="17.8" cy="5.3" r="1.1"/><circle cx="12.1" cy="-0.4" r="1.1"/><circle cx="12.1" cy="46.6" r="1.1"/><circle cx="3.0" cy="29.1" r="1.1"/><circle cx="17.7" cy="31.1" r="1.1"/><circle cx="15.9" cy="32.5" r="1.1"/><circle cx="23.4" cy="30.5" r="1.1"/><circle cx="42.4" cy="27.3" r="1.1"/><circle cx="6.7" cy="3.0" r="1.1"/><circle cx="44.5" cy="23.0" r="1.1"/><circle cx="9.1" cy="44.5" r="1.1"/><circle cx="27.2" cy="34.3" r="1.1"/><circle cx="41.4" cy="13.4" r="1.1"/><circle cx="16.8" cy="41.3" r="1.1"/><circle cx="6.3" cy="35.9" r="1.1"/><circle cx="4.6" cy="32.4" r="1.1"/><circle cx="33.0" cy="44.6" r="1.1"/><circle cx="39.6" cy="23.7" r="1.1"/><circle cx="9.3" cy="7.1" r="1.1"/><circle cx="24.8" cy="24.0" r="1.1"/><circle cx="3.4" cy="42.5" r="1.1"/><circle cx="23.8" cy="33.0" r="1.1"/><circle cx="10.3" cy="11.5" r="1.1"/><circle cx="0.6" cy="16.1" r="1.1"/><circle cx="47.6" cy="16.1" r="1.1"/><circle cx="12.5" cy="19.9" r="1.1"/><circle cx="17.7" cy="39.2" r="1.1"/><circle cx="41.9" cy="8.2" r="1.1"/><circle cx="18.6" cy="7.8" r="1.1"/><circle cx="31.2" cy="45.8" r="1.1"/><circle cx="9.5" cy="36.0" r="1.1"/><circle cx="14.1" cy="0.6" r="1.1"/><circle cx="14.1" cy="47.6" r="1.1"/></g></pattern></defs>
<path d="M298.5 385L301 384.2L303.7 383.8L306.3 382.9L309.2 382.5L312.1 382.9L314.9 384.5L318.1 385.8L321.9 386.7L326.1 387.6L329.8 389.3L332.9 391.2L335.2 392.9L336.9 394.2L337.3 396L337.1 397.6L336.7 399.1L337.1 400.4L337.5 401.6L338.4 403.1L339.6 405L341.3 406.4L343.4 407.5L345.9 407.9L348.5 408.3L351.2 408.6L353.9 409.6L356.4 411.2L358.8 413L360.6 415.3L362 417.3L363.1 418.8L364.7 419.6L365.9 420.8L366.5 422.3L366.4 424.3L367 426.2L368 428.1L369.5 430L370.6 432.2L371.6 434.5L372.4 436.7L373.3 438.6L374 440.3L374.4 442.1L375 443.7L375.6 445.2L376.4 446.4L377.2 447.6L378.6 448.6L380.4 449.6L382.5 450.2L384.5 450.5L386.2 450.1L387.9 449.7L389.6 450.4L390.7 451.7L391.4 453.4L392.2 455.1L393 456.8L394.2 458.3L395.3 459.8L396.5 461.2L396.9 463.1L397.5 465L398.1 467.2L399.4 469.3L400.9 472L402.8 475L404.8 478.2L406.6 481.5L407.8 484.8L408.8 487.6L409.4 489.9L410.2 491.9L410.1 493.8L409.6 495.5L408.6 497L407.3 498.5L406.5 500.2L405.7 501.9L405.2 503.9L404.3 505.7L403.6 507.8L402.8 509.7L402 511.6L400.8 513.2L399.5 514.8L398.9 516.7L398.2 518.7L397.4 520.8L396 522.7L394.8 524.8L393.8 527.2L393 529.6L391.6 531.7L389.7 533.2L387.9 534.7L385.9 535.8L383.8 536.9L381.5 537.8L379.5 539.6L377.3 541L375 542.3L372.3 542.9L369.6 543.8L367 544.6L364.5 546L362.1 547.3L360.1 549.2L357.9 550.7L355.9 552.3L353.7 553.8L351.8 555.5L349.8 557.3L347.6 558.7L345.2 559.8L342.7 560.8L340.2 561.7L337.8 562.5L335.3 563L332.8 563.4L330.5 564.1L328.5 565.3L326.7 566.7L324.7 567.9L322.4 568L320.1 568.1L317.8 567.8L315.5 567.4L313.2 566.6L310.8 565.7L308.3 564.8L305.6 563.6L302.7 562.4L299.3 561.5L295.5 561.1L291.9 560.2L288.7 558.6L285.9 556.4L283 554.2L279.8 552.5L276.5 550.8L273.4 549.1L270.8 546.9L268.6 544.5L266.4 542.3L264.4 540L262.2 538.1L259.9 535.9L257.1 534.6L253.8 534L250.6 533.5L247.4 532.7L244.3 531.2L241.4 529.5L238.8 527.3L236.1 525.2L233.2 523.4L229.8 522.1L226.6 520.4L224.2 517.9L222.3 514.9L220.5 512.1L218.5 509.6L216.6 506.9L214.4 504.5L212.1 502L210.2 499.1L209.2 495.6L208.9 491.8L208 488L207.8 484.1L207.4 480.4L207.7 476.9L207.5 473.6L207.5 470.3L208.1 467.1L208.9 464L209.9 461.2L210.7 458.5L211.2 455.9L211.7 453.5L212.3 451.2L213.5 449.2L215.1 447.5L216.6 445.8L218.1 444.4L219.5 442.9L221.2 441.7L222.7 440.2L224.3 438.7L225.7 436.8L227.3 434.8L229 432.6L230.7 430.3L231.9 427.8L232.8 425.2L234.2 422.9L236.4 421.4L239 421.1L241.5 421.2L243.7 421.8L245.7 421.7L247.3 421.5L248.2 420.5L249.3 419.3L250 417.7L251.1 416.1L251.7 414.4L252.9 412.8L254.5 411.5L256.7 410.7L259.2 410.4L261.6 409.8L264 409.1L265.8 407.6L267.8 406.4L269.2 404.7L270.8 403.2L271.7 401L273 399.3L274.6 397.7L276.5 396.8L278.4 396.1L280.3 395.6L282.2 395L284 394L285.8 392.8L287.7 391.4L289.7 390.1L291.9 388.9L294.1 387.7L296.2 386.2Z" fill="#F8766D"/>
<path d="M324 383h0m-6 0h0m-14-3h0m0 2h0m-10 1h0m-16 6h0m21-5h0m5 2h0m12-1h0m11 0h0m8 4h0m3 6h0m-5-5h0m-44 3h0m-2 1h0m-4 1h0m-6-4h0m-8 10h0m6-3h0m8-2h0m52 2h0m4 2h0m6 2h0m-1 1h0m-73-1h0m-2 4h0m-1 0h0m-2-1h0m-3 2h0m-1-1h0m0-3h0m-7 2h0m3 5h0m1-1h0m8-1h0m81 0h0m4 3h0m2-3h0m3 1h0m1 2h0m6 4h0m-1 4h0m0-3h0m-4-2h0m-107 3h0m-2-2h0m-4 3h0m-11 1h0m-8 6h0m1-2h0m4 1h0m1 1h0m1 0h0m3-2h0m0-3h0m1 1h0m7 0h0m122 1h0m2 1h0m1 0h0m2-2h0m-2 7h0m-144-2h0m-8 11h0m3-4h0m4 2h0m2-2h0m0-1h0m146 1h0m0 4h0m7-2h0m-3 6h0m-153 0h0m-3-1h0m-1 0h0m-1-2h0m-3 6h0m2 0h0m158 2h0m4-2h0m2 4h0m2 0h0m2 0h0m2 0h0m2-4h0m2 7h0m-179 3h0m-2-1h0m0 7h0m2-1h0m181-1h0m4 9h0m-187-4h0m-2-1h0m-3 10h0m3-4h0m191 3h0m1-2h0m0 4h0m7 5h0m-5-4h0m-1 1h0m-199-1h0m0 10h0m203-1h0m1 0h0m1 0h0m5 6h0m-1-1h0m-203 2h0m-2-4h0m-3 4h0m-1-4h0m5 11h0m1 0h0m2 0h0m197-2h0m1-3h0m0 4h0m3-3h0m-3 7h0m-195 2h0m-1-1h0m-2-1h0m-1 3h0m-1-1h0m6 6h0m1-1h0m185 2h0m3-1h0m5-2h0m0-2h0m3 4h0m-9 5h0m-1 2h0m-180 0h0m-7-5h0m7 9h0m1-3h0m0 1h0m1 2h0m0 1h0m2 0h0m174 1h0m0 3h0m-5 1h0m-157 6h0m7 0h0m5 1h0m142-3h0m1 3h0m-132 6h0m-6-3h0m-3-1h0m-1 3h0m-15-3h0m0 1h0m24 8h0m3-2h0m2 3h0m100 1h0m8-3h0m1 1h0m3 1h0m1-2h0m0-1h0m6-1h0m-11 8h0m-6 1h0m-7 2h0m-2-1h0m-85-2h0m1 5h0m6-1h0m72 2h0m1 3h0m5-5h0m-9 7h0m0 4h0m-1-2h0m-6 0h0m-2-1h0m-47 1h0m-5-3h0m-4 4h0m16 2h0m4 1h0m2 0h0m3 1h0m20 2h0m2 1h0m-5 5h0m0-1h0m-10-3h0m-5 0h0" stroke="#F8766D" stroke-width="3" stroke-linecap="round" fill="none"/>
<path d="M149.5 501.8L151.1 501.8L151.9 503.1L152.5 504.4L153.5 505.7L154.8 507L155.7 508.6L156.6 510.6L158 512.8L159.5 515L161.1 517.2L162 519.5L163.1 521L164.1 522.2L165.2 523.6L165.7 525.1L165.5 526.7L165.6 528.3L166.3 529.8L167.8 531.3L169.5 533.1L171.4 534.8L173.7 536L176 536.6L177.9 536.7L179.6 536.3L181.5 535.5L183.3 534L185.3 532.4L187.3 531L189.3 529.9L191.5 528.5L194 527.6L196.8 527L199.5 527.3L202.1 527.3L204.3 527.8L206.4 528L208.3 529L210.1 530L211.6 531.5L212.9 533.2L214 535.2L214.7 537.6L215 540.4L215.1 543.4L215.1 546.6L215.7 549.5L216.5 552.1L217.6 554.4L218.2 556.9L219.4 559.1L220.9 561L222.5 562.8L223.9 564.7L225.4 567L227.8 568.8L230.3 570.7L233.2 571.6L235.6 572.8L237.8 573.6L239.4 575.2L240.9 576.7L242.5 578.4L243.7 580.2L244.5 582.2L244.7 584.3L244.4 586.3L243.8 588.3L242.7 590L241.1 591.7L239 593.1L237.3 595L235.9 597.5L234.9 600.7L233.2 603.6L231.2 606.4L228.7 608.4L226.8 610.6L224.9 612.3L223.2 613.9L221.1 614.6L219.2 615.6L217.3 616.7L215.4 617.9L213.3 618.8L211 619.4L209 620.7L207 622.1L205.6 624L204.4 625.8L203.3 627.9L202.3 630.3L202 633L202.4 635.7L202.4 638.1L201.1 639.6L199.3 639.7L197.8 639.5L196.2 639.2L194.3 639.1L192.5 638.5L190.7 637.7L189.5 636L188.1 634.2L187 632.1L185.8 629.9L184.5 628L182.9 626.5L181.2 625.3L179.8 623.6L178.3 621.7L176.8 619.8L175 618.5L173.1 617.2L171.1 615.9L169.1 614.7L166.8 613.9L164.3 612.9L162 611.7L160 609.8L158 607.5L156.2 604.9L154.4 602.1L152.8 599.2L151.2 596.4L149.5 593.9L147.9 591.4L146.3 589.1L144.7 586.9L143.2 584.7L141.8 582.5L140.8 580.2L139.6 578.3L138.3 576.6L136.9 575.1L135.5 573.6L134.4 571.7L133.4 569.5L133.5 566.8L133.6 563.9L133.7 561L132.9 558L132.1 555.2L131.5 552.5L131.8 549.7L131.8 546.8L131.6 544.1L130.5 541.7L129.2 539.5L128.2 537.3L127.3 535.1L127.7 533.1L128.3 531.3L129.3 529.7L129.7 527.7L130.1 525.6L131 523.2L132.4 520.7L133.9 518.1L135.7 515.7L137.3 513.3L139 511.4L140.7 509.5L142.7 507.8L144.7 506L146.6 504.5L148 502.9Z" fill="#AEA200"/>
<path d="M156 501h0m-3 1h0m-4-1h0m-10 4h0m1 3h0m12-2h0m3 2h0m2 1h0m0-3h0m1 3h0m6 3h0m-2 2h0m-1-1h0m-1-2h0m-23 2h0m-4 0h0m-3 6h0m0 1h0m80 4h0m-6 0h0m-3 2h0m-3-3h0m0 3h0m-3-2h0m-1 2h0m-2-1h0m-2 2h0m-21 0h0m0-1h0m0-3h0m-4 4h0m-34-3h0m-7 0h0m3 7h0m2 0h0m1 0h0m36-1h0m2-2h0m5 2h0m2 1h0m3 0h0m5 1h0m5-3h0m2 1h0m1-2h0m19 3h0m2-3h0m3 0h0m2 7h0m-35 0h0m-8-1h0m-51 5h0m1 5h0m3-4h0m87 1h0m2 0h0m0 2h0m0-3h0m0 2h0m1 3h0m1-2h0m7 7h0m-6-4h0m0 1h0m0 2h0m-1 1h0m-1 1h0m-2-5h0m0 2h0m-84 7h0m4 2h0m85-5h0m4 1h0m13 10h0m-10 0h0m-4-1h0m-1-2h0m-2 3h0m-87-4h0m0 3h0m-2-1h0m-1-3h0m-4 1h0m6 6h0m1 3h0m92-1h0m1-1h0m3-2h0m4 2h0m0-2h0m8 8h0m-1 0h0m-4 1h0m-99 2h0m-1-1h0m-2-2h0m-1 1h0m-1-3h0m5 7h0m0 3h0m2 1h0m0-1h0m104-2h0m1 3h0m0-5h0m4 4h0m-1 3h0m-1 0h0m-1 0h0m0 1h0m-101 3h0m-2-4h0m-2 3h0m-2-3h0m-3-1h0m8 6h0m1 0h0m1 2h0m97-2h0m7 7h0m-7 3h0m-1-1h0m-2 0h0m-2 2h0m-2 0h0m-83-4h0m0 3h0m-2 0h0m0 1h0m-7-3h0m-1 3h0m7 2h0m0-1h0m5 1h0m1-1h0m80 3h0m1 0h0m1-1h0m-1 8h0m0-3h0m-1-1h0m-1 0h0m-2 0h0m-1 5h0m-3-1h0m-69 1h0m-2-5h0m5 7h0m1-1h0m2 3h0m2 1h0m2 0h0m52-3h0m7 1h0m6-1h0m-1 5h0m-5 0h0m-1 0h0m-10 4h0m0-3h0m-7 4h0m-30 0h0m-3-1h0m-4-1h0m-1-1h0m-1 0h0m-2-2h0m-1 3h0m-2-1h0m6 6h0m2 1h0m6 2h0m5-2h0m24-3h0m2 3h0m3-2h0m0 1h0m-12 4h0m-12 5h0m-3-3h0m-3-2h0m0 3h0m-6-2h0m7 5h0m2 0h0m3 0h0m0 1h0m1 1h0m1 3h0m4-1h0m2 0h0m1 1h0m-10 2h0" stroke="#AEA200" stroke-width="3" stroke-linecap="round" fill="none"/>
<path d="M249.3 566.8L251.6 566.6L254.3 566.7L257.4 567.1L260.7 567.9L263.7 569.2L266.4 570.3L268.9 570.5L271 570.2L273.1 569.5L275.2 569.5L277.5 569.8L279.9 570.9L282.5 572.3L285.4 573.9L288.7 574.9L292.1 576L295.4 577.5L298.3 579.5L301.5 580.9L305 582L308.6 582.8L311.9 584.2L314.9 586L317.6 588L320.3 589.5L323.1 590.3L325.7 591.2L328.3 592.2L330.6 593.7L333 595.2L335.5 597.2L337.6 599.7L339 602.8L339.4 606.4L339.9 609.9L340.7 613.1L342.4 616L343.7 619.3L344.7 622.8L345.3 626.4L346 629.9L346.5 633.3L347 636.5L347.6 639.8L348.4 642.9L349.2 646L349.4 649.2L349.3 652.3L349.2 655.5L349.3 658.7L349.4 662L349.1 665.2L348.2 668.2L347.2 671L346.2 673.7L345.8 676.5L345.3 679.2L344.9 681.9L343.9 684.3L342.4 686.4L340.2 688L337.9 689.3L335.4 690.6L332.8 692L330.3 693.9L327.6 695.4L324.7 696.5L321.4 696.6L318.3 697.4L315.1 698.2L311.9 699.6L308.3 700.4L304.5 701.1L300.3 701.4L296.1 701.8L291.8 702.2L287.6 702.7L283.6 702.9L279.7 702.8L275.7 702.8L271.7 703L267.8 702.6L264.2 701.4L260.8 699.8L257.4 698.8L254.1 698.2L251 697L248 695.5L245.2 693.5L242.1 692L238.7 690.4L235.1 688.5L231.6 686.4L228.6 683.6L225.9 680.9L224 678.1L221.7 675.7L220.3 672.6L218.6 669.5L218.2 666.1L217.7 662.8L218.1 659.7L218 657.1L218 654.7L218.3 652.3L219.3 650.1L220.5 647.9L221.3 645.3L221.7 642.2L222.5 638.9L223.5 635.5L224.6 632.1L225.7 628.8L227 625.8L228.2 623.1L229.5 620.5L230.9 618.1L232.2 615.8L233.4 613.3L234.1 610.6L235.3 608L237.2 605.8L238.9 603.5L240 600.9L240.3 597.9L241.1 595.2L242.5 592.9L243.9 590.4L245.2 588L245.9 585.4L247.5 583.2L248.3 580.7L249.2 578.2L248.4 575.5L247.9 572.9L247.1 570.5L247.7 568.3Z" fill="#DE8C00"/>
<path d="M249 566h0m1 1h0m3-1h0m3-1h0m1 2h0m1 0h0m1-3h0m0 1h0m1 4h0m0-5h0m0 4h0m2 1h0m2-1h0m4 1h0m5-1h0m5-1h0m24 8h0m-6-3h0m-3 3h0m-4-1h0m-2-1h0m-1-1h0m-4 0h0m-10-2h0m-24 3h0m-1-2h0m0 2h0m-2 7h0m3 1h0m0-3h0m46 0h0m11 1h0m0-3h0m7 5h0m19 6h0m-16-2h0m0 2h0m-2 0h0m-1-4h0m-1 3h0m-4-4h0m-66 11h0m2-5h0m1 5h0m75-5h0m8 4h0m2-1h0m1-3h0m1 4h0m3 7h0m-93 0h0m0-3h0m-1-2h0m-4 5h0m2 1h0m0 4h0m3-3h0m96 4h0m1-4h0m1 1h0m2 2h0m1-1h0m2 3h0m-3 1h0m-1 0h0m-102 0h0m-2 1h0m-1-1h0m-1 1h0m0 2h0m108 7h0m1-3h0m1 2h0m1-1h0m0 5h0m-2-1h0m-111-1h0m-4 3h0m-1-2h0m-6 6h0m4 4h0m119-5h0m3 10h0m-1 1h0m0-3h0m-124-2h0m-4 9h0m1 2h0m2-3h0m0 1h0m2-2h0m125 4h0m1 0h0m2-5h0m-131 8h0m-2-2h0m-2 0h0m-3 4h0m0 4h0m2 2h0m3-2h0m2-1h0m128-1h0m1 0h0m5 9h0m-1 0h0m-1 2h0m-2-5h0m-132 3h0m0-1h0m-1 2h0m-1 1h0m-1 0h0m-1-1h0m-1 6h0m141-2h0m4-1h0m-9 6h0m0 4h0m0-5h0m-130 5h0m-2 2h0m2 2h0m129-2h0m0 1h0m1-2h0m0 1h0m0 5h0m-2 2h0m-1-2h0m-1 5h0m-120-1h0m-1 1h0m-2-5h0m0 6h0m8 4h0m4 1h0m1-2h0m1 2h0m99 0h0m5-3h0m4 2h0m5-2h0m-9 7h0m-4-3h0m0 2h0m-2 3h0m-3-4h0m-1 3h0m-3 0h0m-9 1h0m-74-1h0m-1-1h0m-2 1h0m-4 0h0m-1-2h0m0-1h0m3 5h0m4 5h0m2-3h0m4 3h0m2-5h0m4 1h0m10 4h0m4-1h0m0 1h0m33 0h0m4 0h0m9-3h0m2-1h0m2 0h0m1 1h0m0-1h0m1-1h0m4 1h0m0 1h0m9 0h0m-20 4h0m-2 3h0m-5-3h0m-2 0h0m-1 0h0m-2 1h0m0-1h0m-9 5h0m-2-5h0m-4 0h0m0 2h0m-2-1h0m-6 0h0m-2 3h0m-12-3h0m-7-1h0" stroke="#DE8C00" stroke-width="3" stroke-linecap="round" fill="none"/>
<path d="M332.6 586.2L334.1 584.7L336 583.5L338.2 582.5L340.6 581.6L343 580.7L345.5 579.8L348.1 579L350.9 578.1L353.9 577.6L356.8 576.8L359.8 576L362.8 575L366.2 574.3L369.9 573.8L373.7 573.5L377.4 573.4L380.9 573.6L383.7 574.5L386 575.6L387.9 576.8L389.6 578L391 579.7L392 581.9L392.8 584.4L393.3 587.5L393.7 591.5L393.9 595.8L394.2 600.1L394.5 603.9L395.1 606.9L396 609L397 610.5L398.1 611.7L399.3 612.5L400.2 613.4L400.5 614.5L400.3 615.8L400.2 617L400.1 618.2L399.6 619.6L398.5 621L396.9 622.3L394.6 623.7L391.7 625.3L388.2 626.7L384.6 627.8L381.1 628.8L377.9 629.6L374.9 629.9L371.8 629.7L368.8 628.9L365.9 628.1L363.2 627.3L360.6 626.3L358.6 624.5L357.4 622.1L356.7 619.4L356 616.8L355 614.4L353.7 612.3L351.8 610.7L349.6 609.6L347.2 609L344.7 608.7L342.3 608.1L340.1 607.1L337.9 606.1L335.6 605.2L333.3 604L331.5 602.4L330.1 600.9L329.2 599.3L328.6 597.4L328.8 595.2L329.3 592.7L330.2 590.3L331.3 588Z" fill="#68AD00"/>
<path d="M382 574h0m-17-2h0m-3-1h0m-17 8h0m9-1h0m6-1h0m4-1h0m32 9h0m-53-3h0m-2 1h0m-3 2h0m-1-1h0m-1 1h0m-5 5h0m64 6h0m-1 1h0m-1-2h0m-63-1h0m0 6h0m2 2h0m2 3h0m61-1h0m4 4h0m-2 3h0m-51 0h0m-9-4h0m0-1h0m-2 3h0m17 4h0m1 0h0m46 8h0m-44-1h0m17 9h0m3 0h0m9-1h0m5-1h0m2-1h0m-10 4h0m-3 2h0" stroke="#68AD00" stroke-width="3" stroke-linecap="round" fill="none"/>
<path d="M424.7 544.7L426.7 544.1L428.8 543.5L431.1 543L433.4 542L435.7 541.2L438 540.6L440.3 540.5L442.6 540.7L444.9 541.3L447.2 541.7L449.6 541.9L452 542L454.4 542.2L456.9 542.4L459.4 542.3L461.8 542L464.1 542.1L466.1 542.7L467.8 543.8L469.6 544.9L471.2 546.2L472.7 547.5L473.8 549.1L474.5 550.8L474.8 552.6L474.8 554.5L474.6 556.5L474.2 558.4L473.6 560.2L472.8 561.9L471.6 563.4L470.1 564.9L468.3 566.4L466.4 567.8L464.3 569.2L462.1 570.2L459.7 571L457 571.5L454.2 571.9L451.4 572L448.6 572.1L446 572.3L443.5 572.5L441 572.7L438.5 572.4L436.2 572L434.1 571.3L432.2 570.5L430.5 569.7L428.7 568.9L426.9 567.8L425.5 566.4L424.5 564.8L423.6 563.2L423 561.5L422.5 559.8L422.3 558L422.2 556.2L422.1 554.6L422.2 553L422.1 551.5L422.2 550L422.3 548.6L422.6 547.1L423.5 545.8Z" fill="#00B65C"/>
<path d="M434 540h0m2 3h0m3-1h0m7-2h0m10 1h0m7 1h0m2 2h0m1-1h0m6 2h0m3 3h0m-1 0h0m-1 1h0m-3-3h0m-46 1h0m-1 4h0m0 2h0m51 0h0m0 4h0m2-4h0m-55 10h0m0-3h0m-1 1h0m43 7h0m2-1h0m1 0h0m1 1h0m1-3h0m-10 6h0m-1 2h0m0-1h0m-2 0h0m-1-2h0m-2 2h0m-1 1h0m-14 1h0m-1-2h0m-1-1h0m-7-1h0m-1 0h0" stroke="#00B65C" stroke-width="3" stroke-linecap="round" fill="none"/>
<path d="M108.2 536.6L108 537.7L107.4 539L106.5 540.8L106.1 543L105.8 545.2L105.9 547L106.1 548.5L106.5 549.9L106.8 551.4L107.4 552.7L108.2 553.9L109 555L109.6 556.2L110.2 557.3L111.1 558.1L112.1 558.8L113 559.7L113.3 560.9L113.4 562.3L113.6 563.7L113.8 565.2L113.9 566.8L113.4 568.3L112.4 569.5L110.8 570.1L108.9 570.6L106.8 570.8L104.5 571L102.2 571.1L100 571.2L97.7 571.2L95.2 571L92.6 570.8L90.1 570.4L87.8 570L85.9 569.2L84.4 568.2L83.4 566.8L82.5 565.4L82 563.9L81.6 562.4L81.2 561L80.9 559.5L80.8 557.9L81.2 556.3L81.7 554.8L82.6 553.5L83.4 552.4L84.4 551.3L85.5 549.9L86.9 548.7L88.6 547.8L90.3 547.2L91.8 546.6L93.3 546.2L94.7 545.8L96.1 545.6L97.4 545.4L98.7 544.9L100.1 544.2L101.5 542.9L103 541.3L104.4 539.5L105.7 537.9L107 536.9Z" fill="#00BFA8"/>
<path d="M107 538h0m-12 5h0m2-1h0m1 1h0m6-1h0m1-1h0m2 3h0m-2 4h0m-1-2h0m-14 1h0m0-1h0m-5 5h0m0-1h0m-2 0h0m26 3h0m4 7h0m-31 2h0m-1 0h0m0 4h0m1-1h0m0-1h0m1 0h0m1 2h0m3 1h0m2 2h0m2 0h0m21-3h0m1 2h0m1-3h0m-4 5h0m-1 2h0m-1 0h0m-1 1h0m-1-2h0m-3 0h0m-1 2h0m-1-2h0m-12-1h0" stroke="#00BFA8" stroke-width="3" stroke-linecap="round" fill="none"/>
<path d="M229.6 541L230.2 539.7L231.2 538.7L232.3 538.1L233.6 537.7L234.8 537.8L235.8 538.2L236.9 539.3L238.3 541.1L239.6 543.4L240.8 545.9L241.9 548.2L243 550L243.9 551.4L244.9 552.6L245.9 553.6L246.9 554.2L247.6 555.1L248 556L248 557.2L247.9 558.5L247.5 559.9L247 561.3L246.1 562.4L245 563L243.8 563.2L242.6 563.6L241.4 564L240.3 564.5L239.1 564.4L238.1 563.9L237.3 562.8L236.8 561.1L236.3 559.2L236 557L235.2 554.9L234.2 552.9L232.8 551.1L231.7 549L230.9 546.7L230.2 544.5L229.8 542.5Z" fill="#00BFAE"/>
<path d="M237 538h0m-2-1h0m-5-1h0m-5 9h0m5-1h0m0 1h0m2-4h0m0 3h0m0 1h0m6-3h0m2 2h0m0-3h0m0 2h0m0-1h0m7 8h0m-2-1h0m-5-2h0m-8 3h0m0-1h0m-1-1h0m0 7h0m2-3h0m1 3h0m9-3h0m4 0h0m2 4h0m0 3h0m-1 0h0m0 3h0m-2-1h0m-5 2h0m-5-1h0m0-4h0m-1 3h0m-2 3h0m6 0h0m2 0h0m0 2h0m6-2h0" stroke="#00BFAE" stroke-width="3" stroke-linecap="round" fill="none"/>
<path d="M141.7 465.9L142.4 464.5L143.4 463.3L144.5 462.1L145.6 460.9L146.8 459.9L148 459L149.2 458.4L150.5 457.9L151.9 457.5L153.3 457.2L154.7 456.9L156 456.8L157.2 456.5L158.4 456.5L159.6 456.5L160.7 456.5L161.8 456.2L163 456L164.4 456L165.9 455.7L167 454.9L167.9 453.6L168.8 452.4L169.8 452L170.9 452L171.8 452.4L172.6 452.8L173.1 453.5L173.3 454.2L172.9 455L172.3 455.9L171.3 457.1L170.1 458.6L168.9 460.3L167.4 461.7L166.2 463.2L165.1 464.6L164.2 466.2L163.1 467.7L162.1 469.2L160.9 470.5L159.7 471.7L158.4 472.9L157.2 474.1L156 475.4L154.7 476.6L153.4 477.5L152 478.1L150.6 478.5L149.1 478.6L147.6 478.6L146.2 478.4L144.8 478.1L143.6 477.4L142.5 476L141.7 474.2L141.5 472L141.5 469.8L141.5 467.7Z" fill="#00A6FF"/>
<path d="M170 453h0m-2 2h0m-1-1h0m-14 1h0m-7 4h0m1 1h0m1-1h0m2 0h0m1 0h0m1-1h0m4-1h0m1 0h0m4 0h0m9-1h0m1 2h0m-3 5h0m-2 0h0m-25 1h0m-3-1h0m4 5h0m1 4h0m17-1h0m2-2h0m1 0h0m0 4h0m1-3h0m-8 6h0m-1 1h0m0-2h0m-1 3h0m-1 0h0m-2 1h0m-3-1h0m-2 1h0m-1 0h0" stroke="#00A6FF" stroke-width="3" stroke-linecap="round" fill="none"/>
<path d="M197.4 399.4L198.1 398.7L199.1 398.1L200.3 397.5L201.6 397.1L202.9 396.9L204.1 396.8L205.1 396.7L206.2 396.6L207.3 396.5L208.5 396.6L209.6 396.9L210.5 397.5L211.2 398.3L211.8 399.3L212 400.5L211.9 401.6L211.7 402.8L211.8 404L211.9 405.3L212 406.8L211.8 408.3L211.5 409.8L210.9 411.1L210.2 412.2L209.2 412.7L208 413.1L206.7 413.1L205.3 413L204 413.2L202.9 413.8L202 414.6L200.8 415.2L199.8 416.1L199.2 417.1L198.8 418.1L197.9 418.6L196.8 418.2L196.1 417.2L195.9 415.9L195.9 414.6L195.8 413.2L195.7 412L195.5 410.7L195.5 409.4L195.5 407.9L195.5 406.5L195.7 405.2L196 404L196.2 403L196.5 402L196.7 401.2L196.9 400.6L197.1 400Z" fill="#00BBDC"/>
<path d="M195 401h0m0-1h0m1-1h0m1-1h0m1 0h0m2-2h0m0 1h0m1 1h0m2-2h0m4 0h0m1 0h0m0 2h0m1 1h0m4 4h0m-2 1h0m0 2h0m-14 0h0m-2 0h0m0-2h0m0 3h0m-2-1h0m2 3h0m0-1h0m1 0h0m0 3h0m14 1h0m2-3h0m0-1h0m-7 7h0m-1 0h0m-4 2h0m0-1h0m-3-1h0m0-1h0m-1 5h0m0-4h0m4 5h0" stroke="#00BBDC" stroke-width="3" stroke-linecap="round" fill="none"/>
<path d="M424.7 619.8L426 619.1L427.5 618.7L428.7 617.9L429.8 616.9L430.7 615.5L432.2 614.9L433.8 615.3L434.7 616.7L435.6 618.1L436.3 619.6L437.2 620.9L437.8 622.1L438.7 623.1L439.6 624L440.5 624.6L441.4 625.2L441.9 626.1L442.1 627L441.8 628.1L441.2 629.4L440.2 630.7L439.1 631.8L437.8 632.8L436.7 633.7L435.8 634.7L434.8 635.7L433.6 636.6L432.4 637L431.1 637.2L430 637.2L428.9 636.8L428 636L427.3 635L426.5 633.9L425.8 632.8L425.2 631.9L424.6 630.9L424 630.1L423.4 629.4L422.8 628.7L422.3 627.9L422 627L422 625.9L422.2 624.6L422.4 623.2L422.8 621.8L423.6 620.6Z" fill="#B786FF"/>
<path d="M427 615h0m0 2h0m3-2h0m2 2h0m2-1h0m1-1h0m5 6h0m-1-1h0m0 1h0m-1 1h0m-1-3h0m-4-1h0m-6 2h0m-5 5h0m17 4h0m2-2h0m1 3h0m-1 2h0m0-2h0m-2 1h0m0 2h0m-1 1h0m-2 1h0m-2 0h0m-4 0h0m-1 0h0m-4-1h0m-1-3h0m4 6h0m0-1h0m3 0h0m0 2h0m2-1h0m1-1h0m0 1h0m2-1h0m1 1h0" stroke="#B786FF" stroke-width="3" stroke-linecap="round" fill="none"/>
<path d="M391.5 540.6L392.6 539.9L394 539.7L395.3 539.2L396.6 538.3L397.6 536.9L398.5 536L399.4 535.3L400.7 535.1L401.9 534.7L403 534.6L403.9 534.7L404.4 535.4L404.8 536.6L405.2 538.4L405.6 540.5L406.1 542.8L406.2 545.1L406.5 547L406.7 548.6L407.1 550.1L407.1 551.6L407 552.9L406.7 554.1L406.1 555.2L405.3 556.4L404.1 557.7L402.6 558.9L400.8 559.7L399 560.4L397.4 561L395.7 561.5L393.8 562L391.8 562.3L390.1 562.5L388.9 562.2L388.3 561.6L388.5 560.5L389.2 558.8L390.3 556.6L391.4 554.3L392.2 551.9L392.7 549.9L392.7 548.2L392.3 546.5L391.6 545L391 543.5L390.8 542Z" fill="#6A2C8E"/>
<path d="M404 533h0m4 6h0m-1-2h0m-4-2h0m-1-1h0m-1 3h0m-2-2h0m-3 1h0m-1 1h0m-1 4h0m12 1h0m2 2h0m0-2h0m-2 8h0m-14-2h0m-2 8h0m1 0h0m14-2h0m0 2h0m0-1h0m2 2h0m0-1h0m0-1h0m1-1h0m-3 4h0m-1 0h0m-3 4h0m-1-1h0m-1 0h0m-1-1h0m-1 2h0m-1 0h0m-2 1h0m0-2h0m-3 0h0m-1 2h0m0-2h0m-1 2h0m-1-4h0" stroke="#6A2C8E" stroke-width="3" stroke-linecap="round" fill="none"/>
<rect x="64" y="369" width="427" height="350" fill="url(#spC)"/>
<path d="M217 564h0m20 8h0m-4-2h0m-4 2h0m-13-2h0m-4 0h0m3 8h0m3 0h0m0 2h0m3-4h0m1 0h0m2 3h0m8 1h0m4 0h0m3-2h0m2 3h0m5 3h0m-3 3h0m-2-4h0m-16 3h0m-12-3h0m-1 8h0m6-1h0m14-1h0m12-1h0m4 9h0m-4 0h0m-1-2h0m-10 2h0m-8 0h0m-2 0h0m-1 2h0m-1-5h0m-3 0h0m-2 1h0m-1 4h0m-1-2h0m3 5h0m5 2h0m9-3h0m4 3h0m9 0h0m-5 6h0m-1-1h0m-1-1h0m-2 3h0m-2 0h0m5 3h0m-3 5h0m-9 4h0m-6 3h0m3 0h0m1-1h0m2-1h0m3 3h0m2 0h0m3-2h0m-4 8h0m-2 1h0m0-1h0m-3-3h0m0 2h0m1 5h0m8 2h0m2-1h0m3-1h0m-9 10h0m-5 2h0m7-1h0" stroke="#AEA200" stroke-width="3" stroke-linecap="round" fill="none"/>
<path d="M258 567h0m9 0h0m3 2h0m8-2h0m6 1h0m2 1h0m13 6h0m-4-3h0m-7 1h0m-7-1h0m-5 0h0m-3-2h0m-7 3h0m0-1h0m-5-1h0m-4 2h0m0 2h0m-2-3h0m-1 2h0m-1 0h0m-3-1h0m-4 7h0m1-3h0m2 2h0m2 2h0m5-3h0m5 2h0m0 1h0m11-4h0m9-1h0m-25 6h0m-2 2h0m-7 2h0m-14 1h0m-10 2h0m4-1h0m3 4h0m1-3h0m14 10h0m0-1h0m-3-2h0m-3 1h0m-10-2h0m-1 3h0m-3-4h0m11 8h0m1 2h0m2-1h0m5 1h0m-3 7h0m-8-2h0m-2 1h0m-2-2h0m-2 4h0m0 5h0m1-1h0m4-4h0m1 1h0m2 5h0m-6 0h0m-3 3h0m5 7h0m6-4h0m1 3h0m0 4h0m-4 3h0m-1-4h0m-3 5h0m8 1h0" stroke="#DE8C00" stroke-width="3" stroke-linecap="round" fill="none"/>
<path d="M325 581h0m8 2h0m-2 2h0m-3-3h0m-7 4h0m4 2h0m1 3h0m1 2h0m1-2h0m6 1h0m0-2h0m-6 6h0m-3 2h0m-2-3h0" stroke="#68AD00" stroke-width="3" stroke-linecap="round" fill="none"/>
<path d="M157.4 422.3C162 428 166 433 168.5 436.5M168.5 436.5L169.6 440.6M168.5 436.5C174 433 180 430 186 426L191.5 422.3" stroke="#00BBDC" stroke-width="3.2" fill="none" stroke-linecap="round"/>
<ellipse cx="186" cy="426" rx="5" ry="4.5" fill="#00BBDC"/>
<path d="M143.4 444.3Q148 448 150.7 454" stroke="#00A6FF" stroke-width="2.6" fill="none" stroke-linecap="round"/>
<path d="M413 637L423 633M411 649L420 646.5" stroke="#B786FF" stroke-width="2.6" fill="none" stroke-linecap="round"/>
<path d="M393 670.5L397 673" stroke="#FF61C3" stroke-width="2.6" fill="none" stroke-linecap="round"/>
<path d="M307.8 371C317.5 371.6 332.1 374.2 344.3 380C356.5 385.8 370.2 395.2 380.8 405.6C391.4 416 401.2 430.9 408.2 442.2C415.2 453.5 420.1 462.6 422.8 473.2C425.6 483.8 425.6 494.4 424.7 506C423.8 517.6 420.8 532.2 417.4 542.6C414 553 410.7 562.9 404.6 568.1C398.5 573.3 390.9 572.5 380.8 573.6C370.8 574.7 356.5 574.8 344.3 574.5C332.1 574.2 320 574.1 307.8 571.8C295.6 569.5 283.5 565.7 271.3 560.8C259.1 555.9 245.2 549.6 234.8 542.6C224.5 535.6 215.3 527.9 209.2 518.8C203.1 509.7 199.2 497.5 198.3 487.8C197.4 478.1 199.1 471.3 203.7 460.4C208.2 449.4 215.8 433.7 225.6 422.1C235.3 410.5 252.1 398.6 262.2 391C272.2 383.4 278.3 379.7 285.9 376.4C293.5 373.1 298.1 370.4 307.8 371Z" fill="none" stroke="#E3202B" stroke-width="1.7" stroke-dasharray="8 4.6"/>
<text x="304.0" y="486.0" font-size="21" text-anchor="middle" textLength="58" lengthAdjust="spacingAndGlyphs">B cells</text>
<text x="366.0" y="557.0" font-size="21" text-anchor="middle" textLength="43" lengthAdjust="spacingAndGlyphs">GC B</text>
<text x="445.0" y="565.0" font-size="21" text-anchor="middle" textLength="27" lengthAdjust="spacingAndGlyphs">GN</text>
<text x="180.6" y="574.8" font-size="21" text-anchor="middle" textLength="56" lengthAdjust="spacingAndGlyphs">CD8 T</text>
<text x="363.0" y="601.5" font-size="21" text-anchor="middle" textLength="40" lengthAdjust="spacingAndGlyphs">Treg</text>
<text x="288.8" y="646.0" font-size="21" text-anchor="middle" textLength="57" lengthAdjust="spacingAndGlyphs">CD4 T</text>
<text x="102.5" y="534.5" font-size="21" text-anchor="middle" textLength="27" lengthAdjust="spacingAndGlyphs">NK</text>
<text x="125.0" y="471.5" font-size="21" text-anchor="middle" textLength="27" lengthAdjust="spacingAndGlyphs">DC</text>
<text x="176.0" y="402.3" font-size="21" text-anchor="middle" textLength="30" lengthAdjust="spacingAndGlyphs">Mo</text>
<text x="175.5" y="421.4" font-size="21" text-anchor="middle" textLength="29" lengthAdjust="spacingAndGlyphs">MF</text>
<text x="461.4" y="625.8" font-size="21" text-anchor="middle" textLength="24" lengthAdjust="spacingAndGlyphs">RP</text>
<text x="463.4" y="645.5" font-size="21" text-anchor="middle" textLength="27" lengthAdjust="spacingAndGlyphs">MF</text>
<text x="414.2" y="678.3" font-size="21" text-anchor="middle" textLength="28" lengthAdjust="spacingAndGlyphs">GN</text>
<text x="551.3" y="370.3" font-size="51">D</text>
<text x="834.1" y="361.2" font-size="21" text-anchor="middle" textLength="92" lengthAdjust="spacingAndGlyphs">All B cells</text>
<path d="M603 367.5V721H1041.8" fill="none" stroke="#000" stroke-width="2"/>
<path d="M628.7 721V726M732.2 721V726M835.1 721V726M938.3 721V726M1041 721V726M603 430.9H597.5M603 501.9H597.5M603 573.2H597.5M603 643.8H597.5M603 714.5H597.5" stroke="#000" stroke-width="1.8"/>
<text x="626.2" y="746.3" font-size="21" text-anchor="middle" textLength="46" lengthAdjust="spacingAndGlyphs">−5.0</text>
<text x="729.7" y="746.3" font-size="21" text-anchor="middle" textLength="46" lengthAdjust="spacingAndGlyphs">−2.5</text>
<text x="835.1" y="746.3" font-size="21" text-anchor="middle" textLength="31" lengthAdjust="spacingAndGlyphs">0.0</text>
<text x="938.3" y="746.3" font-size="21" text-anchor="middle" textLength="31" lengthAdjust="spacingAndGlyphs">2.5</text>
<text x="1041.0" y="746.3" font-size="21" text-anchor="middle" textLength="31" lengthAdjust="spacingAndGlyphs">5.0</text>
<text x="592.6" y="438.4" font-size="21" text-anchor="end" textLength="12" lengthAdjust="spacingAndGlyphs">4</text>
<text x="592.6" y="509.4" font-size="21" text-anchor="end" textLength="12" lengthAdjust="spacingAndGlyphs">2</text>
<text x="592.6" y="580.7" font-size="21" text-anchor="end" textLength="12" lengthAdjust="spacingAndGlyphs">0</text>
<text x="592.6" y="651.3" font-size="21" text-anchor="end" textLength="26" lengthAdjust="spacingAndGlyphs">−2</text>
<text x="592.6" y="722.0" font-size="21" text-anchor="end" textLength="26" lengthAdjust="spacingAndGlyphs">−4</text>
<text x="844.0" y="772.5" font-size="21" text-anchor="middle" textLength="88.7" lengthAdjust="spacingAndGlyphs">UMAP_1</text>
<text transform="translate(568 543.6) rotate(-90)" font-size="21" text-anchor="middle" textLength="86" lengthAdjust="spacingAndGlyphs">UMAP_2</text>
<defs><filter id="blD" x="-20%" y="-20%" width="140%" height="140%"><feGaussianBlur stdDeviation="2.2"/></filter><pattern id="spD" patternUnits="userSpaceOnUse" width="41" height="41"><g fill="#fff"><circle cx="9.8" cy="22.3" r="1.3"/><circle cx="15.2" cy="24.8" r="1.3"/><circle cx="25.7" cy="2.7" r="1.3"/><circle cx="0.5" cy="34.3" r="1.3"/><circle cx="41.5" cy="34.3" r="1.3"/><circle cx="10.6" cy="9.6" r="1.3"/><circle cx="-0.2" cy="19.3" r="1.3"/><circle cx="40.8" cy="19.3" r="1.3"/><circle cx="34.3" cy="19.5" r="1.3"/><circle cx="26.2" cy="6.2" r="1.3"/><circle cx="26.0" cy="35.6" r="1.3"/><circle cx="21.5" cy="30.4" r="1.3"/><circle cx="27.5" cy="2.6" r="1.3"/><circle cx="31.1" cy="24.2" r="1.3"/><circle cx="12.4" cy="1.3" r="1.3"/><circle cx="12.4" cy="42.3" r="1.3"/><circle cx="35.5" cy="19.4" r="1.3"/><circle cx="29.5" cy="36.0" r="1.3"/><circle cx="29.3" cy="37.8" r="1.3"/><circle cx="16.2" cy="32.8" r="1.3"/><circle cx="18.2" cy="38.4" r="1.3"/><circle cx="36.0" cy="4.0" r="1.3"/><circle cx="5.6" cy="8.9" r="1.3"/><circle cx="39.6" cy="17.9" r="1.3"/><circle cx="25.7" cy="12.3" r="1.3"/><circle cx="20.8" cy="15.8" r="1.3"/><circle cx="14.4" cy="24.0" r="1.3"/><circle cx="24.0" cy="37.1" r="1.3"/><circle cx="28.0" cy="38.1" r="1.3"/><circle cx="35.1" cy="-0.4" r="1.3"/><circle cx="35.1" cy="40.6" r="1.3"/><circle cx="27.5" cy="6.7" r="1.3"/><circle cx="35.3" cy="39.5" r="1.3"/><circle cx="37.1" cy="23.3" r="1.3"/><circle cx="29.3" cy="8.7" r="1.3"/><circle cx="34.1" cy="23.5" r="1.3"/><circle cx="11.7" cy="2.6" r="1.3"/><circle cx="35.0" cy="-0.4" r="1.3"/><circle cx="35.0" cy="40.6" r="1.3"/><circle cx="3.6" cy="32.8" r="1.3"/><circle cx="16.8" cy="6.2" r="1.3"/><circle cx="12.0" cy="31.5" r="1.3"/><circle cx="35.8" cy="1.8" r="1.3"/><circle cx="25.2" cy="1.8" r="1.3"/><circle cx="29.5" cy="13.6" r="1.3"/><circle cx="36.1" cy="-0.8" r="1.3"/><circle cx="36.1" cy="40.2" r="1.3"/><circle cx="20.7" cy="-0.1" r="1.3"/><circle cx="20.7" cy="40.9" r="1.3"/><circle cx="12.7" cy="3.2" r="1.3"/><circle cx="24.6" cy="1.3" r="1.3"/><circle cx="24.6" cy="42.3" r="1.3"/><circle cx="8.1" cy="16.7" r="1.3"/><circle cx="25.0" cy="6.4" r="1.3"/><circle cx="1.7" cy="35.6" r="1.3"/><circle cx="12.9" cy="39.3" r="1.3"/><circle cx="36.8" cy="15.5" r="1.3"/><circle cx="18.9" cy="21.3" r="1.3"/><circle cx="26.4" cy="24.4" r="1.3"/><circle cx="22.9" cy="25.4" r="1.3"/><circle cx="38.6" cy="20.8" r="1.3"/><circle cx="17.7" cy="29.5" r="1.3"/><circle cx="9.7" cy="12.3" r="1.3"/><circle cx="-0.9" cy="21.4" r="1.3"/><circle cx="40.1" cy="21.4" r="1.3"/><circle cx="22.5" cy="0.5" r="1.3"/><circle cx="22.5" cy="41.5" r="1.3"/><circle cx="17.0" cy="23.8" r="1.3"/><circle cx="0.8" cy="25.2" r="1.3"/><circle cx="41.8" cy="25.2" r="1.3"/><circle cx="25.9" cy="2.5" r="1.3"/><circle cx="25.7" cy="19.1" r="1.3"/><circle cx="27.9" cy="14.5" r="1.3"/><circle cx="29.0" cy="30.3" r="1.3"/><circle cx="0.9" cy="2.5" r="1.3"/><circle cx="41.9" cy="2.5" r="1.3"/><circle cx="27.7" cy="39.5" r="1.3"/><circle cx="10.3" cy="18.7" r="1.3"/><circle cx="24.3" cy="13.1" r="1.3"/><circle cx="14.9" cy="12.8" r="1.3"/><circle cx="15.1" cy="24.4" r="1.3"/><circle cx="12.3" cy="15.5" r="1.3"/><circle cx="31.7" cy="1.1" r="1.3"/><circle cx="31.7" cy="42.1" r="1.3"/><circle cx="23.3" cy="30.1" r="1.3"/><circle cx="12.7" cy="9.1" r="1.3"/><circle cx="33.0" cy="9.8" r="1.3"/><circle cx="7.7" cy="17.8" r="1.3"/><circle cx="28.6" cy="4.2" r="1.3"/><circle cx="13.2" cy="13.7" r="1.3"/><circle cx="34.2" cy="18.0" r="1.3"/><circle cx="35.1" cy="6.9" r="1.3"/><circle cx="13.8" cy="26.7" r="1.3"/><circle cx="36.3" cy="18.5" r="1.3"/><circle cx="9.2" cy="5.0" r="1.3"/><circle cx="21.7" cy="7.8" r="1.3"/><circle cx="33.1" cy="34.4" r="1.3"/><circle cx="7.5" cy="11.4" r="1.3"/><circle cx="33.1" cy="26.3" r="1.3"/><circle cx="33.1" cy="14.2" r="1.3"/><circle cx="5.3" cy="12.0" r="1.3"/><circle cx="32.5" cy="11.1" r="1.3"/><circle cx="14.2" cy="17.1" r="1.3"/><circle cx="17.2" cy="16.8" r="1.3"/><circle cx="37.7" cy="6.4" r="1.3"/><circle cx="0.2" cy="38.7" r="1.3"/><circle cx="41.2" cy="38.7" r="1.3"/><circle cx="36.1" cy="-0.5" r="1.3"/><circle cx="36.1" cy="40.5" r="1.3"/><circle cx="17.8" cy="39.0" r="1.3"/><circle cx="38.0" cy="9.1" r="1.3"/><circle cx="30.6" cy="34.3" r="1.3"/><circle cx="27.2" cy="21.3" r="1.3"/><circle cx="11.9" cy="14.0" r="1.3"/><circle cx="9.3" cy="2.8" r="1.3"/><circle cx="24.1" cy="11.8" r="1.3"/><circle cx="33.2" cy="1.8" r="1.3"/><circle cx="37.0" cy="28.4" r="1.3"/><circle cx="37.9" cy="36.8" r="1.3"/><circle cx="36.9" cy="23.7" r="1.3"/><circle cx="0.5" cy="30.6" r="1.3"/><circle cx="41.5" cy="30.6" r="1.3"/><circle cx="7.0" cy="12.3" r="1.3"/><circle cx="27.2" cy="21.5" r="1.3"/><circle cx="17.0" cy="38.5" r="1.3"/><circle cx="25.1" cy="14.0" r="1.3"/><circle cx="10.4" cy="35.3" r="1.3"/><circle cx="19.6" cy="32.1" r="1.3"/><circle cx="14.4" cy="8.1" r="1.3"/><circle cx="21.9" cy="33.5" r="1.3"/><circle cx="7.0" cy="32.5" r="1.3"/><circle cx="37.8" cy="33.0" r="1.3"/><circle cx="33.8" cy="0.3" r="1.3"/><circle cx="33.8" cy="41.3" r="1.3"/><circle cx="25.8" cy="35.4" r="1.3"/><circle cx="2.0" cy="11.1" r="1.3"/><circle cx="11.0" cy="21.6" r="1.3"/><circle cx="17.3" cy="19.4" r="1.3"/><circle cx="31.8" cy="0.1" r="1.3"/><circle cx="31.8" cy="41.1" r="1.3"/><circle cx="2.2" cy="5.2" r="1.3"/><circle cx="5.1" cy="2.8" r="1.3"/><circle cx="-1.0" cy="35.0" r="1.3"/><circle cx="40.0" cy="35.0" r="1.3"/><circle cx="3.5" cy="20.6" r="1.3"/><circle cx="13.0" cy="12.9" r="1.3"/><circle cx="14.4" cy="26.5" r="1.3"/><circle cx="24.1" cy="14.8" r="1.3"/><circle cx="7.8" cy="13.5" r="1.3"/><circle cx="5.1" cy="22.8" r="1.3"/><circle cx="29.4" cy="15.6" r="1.3"/><circle cx="3.3" cy="7.3" r="1.3"/><circle cx="15.3" cy="24.8" r="1.3"/><circle cx="32.1" cy="15.6" r="1.3"/><circle cx="32.8" cy="25.5" r="1.3"/><circle cx="17.7" cy="15.3" r="1.3"/><circle cx="20.3" cy="28.8" r="1.3"/><circle cx="17.2" cy="28.5" r="1.3"/><circle cx="18.9" cy="10.0" r="1.3"/><circle cx="22.0" cy="28.5" r="1.3"/><circle cx="2.9" cy="17.4" r="1.3"/><circle cx="17.5" cy="36.1" r="1.3"/><circle cx="38.4" cy="15.3" r="1.3"/><circle cx="36.8" cy="32.4" r="1.3"/><circle cx="10.7" cy="19.0" r="1.3"/><circle cx="5.0" cy="33.3" r="1.3"/><circle cx="27.2" cy="36.4" r="1.3"/><circle cx="32.5" cy="27.4" r="1.3"/><circle cx="30.1" cy="23.1" r="1.3"/></g></pattern></defs>
<g filter="url(#blD)">
<path d="M855.6 385.2L857.6 385.8L859.8 386.5L862 387.7L864.2 389L866.1 390.8L868 392.9L869.9 395.6L872.2 398.9L873.9 402.9L875.4 407.1L876.8 411.5L878.4 415.5L879.7 419.5L880.9 423.4L882.3 427.3L884.6 430.9L886.3 434.7L888.4 438.4L890.4 442.3L893.4 445.7L896.2 449.3L899 452.9L900.9 457L901.5 461.4L901.2 466L901.3 470.7L901.7 475.3L902.6 479.8L902.3 484L901.2 487.6L899.1 490.6L895.9 492.7L892.6 494.8L888.6 495.9L885.1 498.1L881.6 500.3L877.9 502.8L873.6 503.9L869 503.5L864.4 502.8L859.9 501.7L855.5 500.6L851.3 498.7L846.9 497.2L842.3 496.9L837.4 497.4L832.7 497.2L828.6 495.8L824.8 493.8L820.9 492L817.3 489.7L814.1 487.1L811.6 484.1L809.8 480.9L808.5 477.7L807.5 474.2L805.9 470.7L805.1 466.7L805.3 462.5L806.8 458.3L808.3 453.8L809.6 448.7L811.2 443.2L814.3 438.3L817.9 433.8L821 429.6L823.6 425.4L825.8 420.9L828.2 416.6L830.4 412.3L832.8 408.6L834.6 404.8L836.3 401.4L837.9 398.3L840 395.5L841.9 393L844 391L845.9 389.4L847.6 388.3L848.7 386.6L850.2 385.6L851.8 384.9L853.7 385.2Z" fill="#00BF7D" opacity="0.68"/>
<path d="M847.4 386.3L849.7 384.8L852.8 383.8L856.3 383.2L859.9 383.6L863.1 383.4L865.7 384.4L867.7 385.6L868.5 388L869.6 390.1L870.3 392.6L871.5 395L872.1 397.6L873.1 400.2L874.1 403L875.1 406.1L875 409.3L874.4 412.5L873.5 415.7L873.6 418.8L873.9 422L875.2 425.1L875.8 428.2L876.4 431.1L876.7 433.9L877.2 436.4L877.3 439.1L877.3 441.6L877.8 443.5L878.7 445L879 446.4L878.3 447.9L877.4 449.5L876.4 451.3L875.2 453.3L873.2 454.5L870.8 455L868.1 455L865.4 455.6L862.4 456.6L859.2 457.3L856 457.2L852.9 456.6L850 455.7L846.6 455.4L843 455.1L839.4 454.5L836.5 452.8L834.4 450.7L832.3 449L830.3 447.4L828.6 445.7L827.8 443.3L827.5 440.9L827.3 438.6L826 436.7L824.3 434.8L822.9 432.6L822.8 430.1L823.6 427.5L824.6 425.1L825.7 422.4L827.2 419.2L829.1 415.9L830.4 412.1L831.7 408.6L833.1 405.7L834.6 403.3L835.7 400.7L837.1 398.3L838.6 396L839.9 394.1L839.7 391.7L839.3 389.1L839.5 387L841.2 386.1L843.4 386.4L845.5 386.8Z" fill="#00BF7D" opacity="0.95"/>
<path d="M693.5 513.7L694.9 510.6L697 507.7L700 505.5L703.4 503.6L707.1 502.1L710.9 501L714.8 499.9L719 499.3L723.4 498.5L728 497.9L732.7 496.5L737.4 495L742.3 493.1L747.5 491L752.2 487.7L757 484.5L761.7 481.8L766.7 481L771.1 480.4L775.2 480.2L778.9 479.5L782.4 478.9L786 477.8L789.9 477.2L793.8 477.9L797.6 479.5L801.2 481.7L805.1 483.5L809 485.5L812.9 487.5L816.6 490.1L820.4 492.6L824.4 495.3L828.4 497.9L832.5 500.5L836.4 503.5L840.4 506.5L843.9 510.3L847.3 514.3L850 518.8L852.8 523.1L855.5 527.2L858.6 531.1L861.6 535.3L864.4 539.8L866 544.6L866.4 549.3L865.9 553.5L864.8 557.5L862.7 561.4L859.4 564.6L855.4 567.1L851.9 569.9L848.6 572.7L845.5 575.9L841.6 578.1L837.3 579.9L832.5 580L827.6 580.2L822.6 580.1L817.5 580.4L812.1 580.4L806.6 580.4L800.9 580.7L795.3 580.9L789.7 580L784.2 578.4L778.7 576.4L773 575.9L767.2 575.6L761.5 575.9L756.5 574.2L752.5 571.4L749 568.3L745.5 565.9L741.5 564.2L737.8 562L733.9 560.1L729.7 558.4L725.1 557.1L720.9 555L716.9 552.9L713.2 550.6L709.9 548.2L707.4 545.6L705.4 542.7L703.6 540.2L701.7 538L699.7 536L697.7 533.8L696.6 530.7L695.7 527.3L695 523.7L694 520.3L693.5 517Z" fill="#A3A500" opacity="0.80"/>
<path d="M684.6 553.4L687.3 551.6L690.7 550.6L694.3 550L697.7 549.2L701 547.7L704.3 546.6L707.7 546.7L711.3 546.5L714.9 547.1L718.6 547.7L721.8 549.9L724.8 552.4L727.7 555.2L730.5 558.3L733.2 561.8L735.8 565.5L738.5 569.1L741.2 572.7L743.9 576.5L745.7 580.9L747.1 585.6L747.7 590.5L748.7 595.1L750.2 599.5L751.7 603.7L753.2 607.9L753.8 612.3L754 616.7L753.3 621.2L752.9 625.8L752.9 630.5L753.4 635.6L753.4 640.8L752.1 645.9L750.2 650.6L748.3 655L747.7 659.3L747.9 663.7L748.1 667.9L747.3 671.8L745.6 675.2L743.7 678.3L741.5 681.2L739.1 684.1L736.3 686.4L733.5 688.6L730.2 689.7L727.1 690.5L723.8 691L719.9 691.5L715.7 691.3L711.6 689.7L707.5 688L703.5 685.9L699.5 682.9L696.7 678.4L694.5 673.2L692.2 668.1L689.8 663.3L687.5 658.9L685.1 654.9L682.1 651.6L679 648.5L676.2 645.5L674 642L672.3 638.3L670.7 634.7L668.6 631.7L665.8 629.2L662.9 626.6L660.5 623.4L659.1 619.5L659.2 615.2L660.3 610.7L662.2 606.3L663.8 601.9L665 597.5L665.6 593.1L666.2 588.8L667.6 584.7L669.4 580.8L671.9 577.3L673.3 573.4L674.8 569.9L676 566.5L677.6 563.5L679.3 560.8L680.8 558.1L682.6 555.8Z" fill="#39B600" opacity="0.90"/>
<path d="M881.1 513.1L884.8 511.8L889.1 511.3L893.9 511.7L898.7 511L903.5 510.4L908.1 509.7L912.4 509.7L916.7 510L920.9 510.4L925.3 510.4L929.9 509.6L934.5 509.1L939.2 509.3L944 510.8L948.9 512.6L953.8 513.7L958.8 514.5L963.8 515L968.8 516.1L974.1 516.4L979.5 516.5L984.8 516.8L989.4 518.5L993.3 521L996.6 523.5L999.8 526L1002.5 529.1L1005 532.5L1007.9 536L1010.7 539.9L1013.2 544.6L1014.5 550.5L1015.5 556.7L1016.5 562.7L1017.6 568.4L1019.2 573.4L1020.3 578.3L1020.7 583.5L1019.7 588.5L1018.1 593.3L1016.7 598L1015.2 602.5L1014 606.7L1013.1 610.8L1012.6 614.7L1011.6 618.3L1010.3 621.7L1008.5 624.8L1007 628.6L1005.1 632.6L1002.5 636.4L999.1 639.5L995.1 641.7L991 643.6L986.3 644.3L981.7 645.4L976.9 645.7L972.5 647.2L968.2 648.6L963.9 650.7L959.4 651.9L954.8 651.7L950.2 650.9L945.8 649.1L941.6 647.3L937.8 645.1L933.9 643L930.1 640.3L926.3 637.1L923.5 633.1L920.2 629.7L917.2 626.5L913.7 624.3L910.8 621.5L908 618.9L905.9 615.7L903.6 612.6L901.8 609.1L899.7 605.8L898.2 602.1L896.4 598.4L895 594.4L893.3 590.5L891.3 586.5L889.1 582.4L887.6 577.5L886.4 572.4L885.1 567.5L882.7 563.4L880.5 559.4L878.5 555.3L877.3 550.8L876.2 546.4L875.6 542L875.2 537.7L875.4 533.8L875.4 529.9L875.1 526L875.3 522.2L876.5 518.7L878.6 515.8Z" fill="#F8766D" opacity="0.95"/>
<path d="M756.5 609L759.2 605.9L762.4 603L765.8 600.2L769.7 598.1L773.5 596L777 593.8L780.6 591.9L784.6 590.6L789 590.3L793.4 589.7L798.1 589.4L802.9 589.3L808 589.8L813.3 590.5L818.9 590.6L824.6 590.7L830.4 590.6L835.9 592L841.4 593.8L846.8 595.9L852.4 597.6L858.1 598.9L863.7 600.3L869.3 601.2L874.3 603.6L879.2 605.9L883.3 609.7L887.5 612.8L891 616.5L894.6 619.5L897.4 623.1L899.8 626.9L901.7 630.8L904.4 634.2L907.7 637.7L910.1 641.8L910.6 646.8L909.5 652.1L908.5 657.4L906.9 662.5L905.6 667.3L903.8 671.4L902.6 675.1L900.5 678.4L898.4 681.7L895.4 684.2L892.4 686.9L888.8 689L884.9 690.9L880.3 692.1L875.6 693.1L870.9 694.4L866.3 696L861.8 697.3L857.4 698.7L853.2 700.2L849.1 702.4L845 704.6L840.6 706.2L835.8 706.9L830.8 705.7L825.8 704.1L820.9 701.9L815.8 700.7L810.9 699.2L806.1 698.3L801.7 697.1L797.3 696.4L793.1 695.4L789.1 693.9L785.7 691.7L782.4 689.6L779.4 687.2L776.6 684.9L774.1 682.3L771.5 680L768.9 677.8L766.6 675.2L765 672L764.2 668.3L763.3 664.8L762.3 661.3L759.9 658.2L757.7 655L755.3 651.8L754.2 647.8L753.1 643.9L751.7 640L750.6 636.2L750 632.3L750.4 628.4L750.7 624.4L751.5 620.3L752.5 616.2L754.1 612.4Z" fill="#D89000" opacity="0.95"/>
<path d="M705.7 475.3L706.9 473.1L709.4 470.4L712.7 467.5L716.6 465L720.7 462.9L724.7 461.4L728.5 459.9L732.7 458.2L737.2 456.5L741.7 455.1L746.3 454.3L750.7 454.5L754.8 455.5L758.9 457L762.4 459.4L765.5 462.2L767.9 465.3L770.5 467.6L772.9 469.9L774.9 472.5L776.1 475.5L777 478.5L777.3 481.5L777.3 484.5L776.7 487.3L775.9 490.3L774.3 493.1L772.4 495.6L770.9 498.1L769.6 500.4L767.8 502.6L764.8 503.6L762.2 504.9L759.7 506.5L756.9 508.5L753.1 509.1L748.9 508L744.9 505.1L741.3 501.3L738 496.9L734.4 493.3L730.8 490.6L727.1 489.1L723.3 488.1L719.7 487.5L716.2 487.1L713.2 486.1L710.9 484.5L709 482.7L707.4 480.8L706.4 479L705.9 477.6L705.7 476.7Z" fill="#00B0F6" opacity="0.90"/>
<path d="M623.3 440.3L625 440L626.7 440L628.6 439.8L630.7 439.4L632.9 439.1L635 439L637.3 439.1L640 439.1L642.8 439.1L645.4 439.3L647.7 439.6L649.3 440.5L650.5 441.4L650.4 442.7L650 443.9L649.3 444.9L648.8 446.1L647.9 446.9L646.1 446.9L644.4 446.9L643.5 448.3L643 450.9L642.4 453.6L641.1 454.7L639.7 455.1L638.1 454.5L636.7 454.5L635.4 453.9L634.2 453.6L633 452.8L631.8 452.3L630.2 452L628.5 451.8L626.7 451.6L625.4 450.6L624.3 449.5L623.9 448L623.1 446.6L623.1 444.9L622.6 443.4L622.7 441.8Z" fill="#9590FF" opacity="0.85"/>
<path d="M627.9 528.8L630.2 527.3L632.5 526.6L634.6 526.6L636.4 526.1L638.3 526.2L639.9 526.8L641.4 527.6L643.2 528.1L645 528.9L646.7 530L647.9 531.4L649.1 532.5L650.5 533.9L651.3 536L651.9 538.3L651.4 540.7L650.9 542.9L649.9 544.8L649.4 546.4L649.3 548.4L649.5 550.6L649.3 553L648.2 555L646.2 555.9L644 556.6L641.7 557.2L639.3 557.7L636.8 557.2L634.7 556L633.3 555.1L632.2 554.3L630.9 553.6L629.9 552.6L629.1 551.3L628.1 549.8L627.4 548L626.5 545.4L626.3 542.2L626 538.5L626.1 534.9L626.7 531.5Z" fill="#9590FF" opacity="0.85"/>
<path d="M934.4 474.7L936.5 473.9L939.4 473.2L942.9 473.2L946.7 472.5L950.6 472.6L954.1 472.1L957.5 471.6L961.1 471.1L964.8 470.6L968.2 471.5L971.4 472.6L974 474L976.4 475.5L978.9 476.7L980.7 478.7L982.2 480.7L982.7 482.9L983.4 484.5L984.1 486.3L984 488.4L983.1 490.6L981.3 492.2L978.9 492.9L976.4 492.5L974 491.7L971.2 491.3L968.1 491.4L964.7 491.8L961.1 492.6L957.5 493.1L954 493.2L950.2 492.6L946.6 491.6L943.2 490.2L940.4 488.6L938.3 486.9L936.8 485.1L935.4 483L934.5 480.7L933.8 478.5L933.8 476.4Z" fill="#FF62BC" opacity="0.85"/>
<path d="M770.1 569.9L773.3 567.8L778 567.2L782.5 565.4L787 562.9L791.4 559L796.1 556.9L801.2 556.4L806.2 558.4L811.1 560.2L815.5 562.6L819.5 564.4L822.3 567.1L824.4 569.5L826.2 572L828 574.6L829.5 577.4L829.6 580.4L829.4 583.1L828.1 585.7L826 588.4L822.9 590.6L819.4 592.4L815.8 593.9L812.3 595.1L809.1 597L805.7 598.9L801.8 600.2L797.7 600.6L793.6 600.3L789.7 600.1L785.5 599.1L781 597.8L776.6 595.9L772.5 594L769.3 591.6L767.3 589.3L766.6 586.5L766.3 583.4L766.6 580L767.2 576.4L768 572.8Z" fill="#00BFC4" opacity="0.80"/>
<path d="M844.8 559.3L848.5 558L852.4 557.4L856.6 557.2L860.7 555.8L864.8 554.7L868.6 553.8L872.2 553.8L875.7 554.6L879 556.1L882.1 557.4L885.4 558.5L888.3 560L890.5 562.7L892.2 566.1L894.4 569.3L896.9 572.5L898.7 576.1L899.1 579.7L898.5 583.2L898.2 586.8L897.6 590.5L896.8 594.3L895.1 597.7L892.8 600.5L889.7 602.6L886.2 604.4L882.4 605.8L878.8 607.1L875.1 607.9L871.8 608.6L868.6 608.6L865.1 608.3L861.6 607.5L858.1 606.5L854.6 605.2L851.8 603.2L849.2 600.7L847.5 597.4L845.7 594L844.8 590.1L843.8 586.5L842.8 583L841.9 579.2L841.4 575L842 570.7L842.2 566.5L843.1 562.7Z" fill="#E76BF3" opacity="0.85"/>
</g>
<rect x="604" y="369" width="437" height="350" fill="url(#spD)"/>
<path d="M852 368h0m-3 0h0m-3 8h0m3-2h0m3-1h0m3 1h0m14-1h0m1 10h0m-9-4h0m-2 4h0m-2-5h0m-1 1h0m-2-1h0m0 5h0m-3-2h0m-4 1h0m-6-1h0m-45 7h0m9 1h0m28-1h0m6 0h0m1 1h0m1-3h0m6 2h0m6-4h0m4 1h0m4 3h0m3-2h0m1-1h0m0-1h0m2 3h0m0-1h0m4-1h0m3-1h0m2 1h0m1 4h0m19 0h0m5 2h0m-8 3h0m-5 0h0m-13-1h0m-1-2h0m-4-1h0m-6 3h0m-1-1h0m-21-2h0m-2 0h0m-2 3h0m-5-1h0m-21 7h0m20-1h0m2 2h0m17-2h0m5 2h0m11-2h0m1 2h0m5-3h0m0 2h0m5 1h0m2 1h0m10-4h0m-7 10h0m-3-4h0m0 3h0m-33 0h0m-12-3h0m-2 3h0m-1-3h0m-1 3h0m-1 1h0m-1-3h0m-3 0h0m-12-1h0m-6 4h0m9 4h0m5 0h0m9 0h0m2 0h0m1-3h0m1 0h0m1 1h0m3 4h0m5-5h0m7 1h0m6 0h0m17 2h0m1-3h0m0 1h0m2 3h0m0-1h0m2 2h0m1-1h0m2-1h0m2 1h0m3 1h0m1-4h0m4 10h0m-4 0h0m-6-5h0m-1 3h0m-5-3h0m-8 5h0m-35-5h0m-5 3h0m-1 2h0m-1-4h0m-7 3h0m-1-1h0m-5 2h0m-6 6h0m10-4h0m1 1h0m3 3h0m1-1h0m4-1h0m8-2h0m22 3h0m5 1h0m15-4h0m3 1h0m6 2h0m1-4h0m9 0h0m15 3h0m-18 4h0m-5-1h0m-8 3h0m-3 1h0m-23-2h0m-13 0h0m-17-1h0m-1 0h0m-2-1h0m-1 0h0m0 3h0m-6 0h0m-7 7h0m8-4h0m2 2h0m7 1h0m0-2h0m2 0h0m2 0h0m6 2h0m0-2h0m0 4h0m18-2h0m23-1h0m4-2h0m2 3h0m10 2h0m1-2h0m2-3h0m18 9h0m-4 1h0m-6 1h0m-6-5h0m-3 4h0m-13-3h0m0-1h0m0 2h0m-8 3h0m-1-4h0m-2 4h0m-6-1h0m-14-1h0m-4 0h0m-7 2h0m-5 0h0m-19-5h0m-9 4h0m-2 4h0m6-2h0m9 4h0m11-4h0m0 1h0m1 0h0m5 4h0m17 0h0m8-1h0m6 0h0m12-1h0m6-1h0m10 0h0m2-2h0m8 5h0m2-5h0m-4 10h0m-1 0h0m-16-2h0m-4 2h0m-2 0h0m0-1h0m-22 2h0m-5-3h0m-6 3h0m-10-4h0m0 4h0m-5-2h0m-5 2h0m-41-5h0m12 6h0m13 2h0m6-1h0m1 1h0m24 1h0m4-3h0m3 2h0m1 3h0m1-2h0m0-1h0m7 3h0m5-3h0m7 1h0m12-3h0m11 4h0m1-3h0m10 4h0m3-3h0m2-1h0m13 8h0m-14-1h0m-16 0h0m-3-2h0m0 4h0m-21 0h0m-8-4h0m-19 1h0m0 4h0m-24-4h0m-18 2h0m-2-3h0m-3 0h0m14 8h0m1 2h0m42-3h0m7-1h0m8 5h0m25-4h0m2 2h0m15 1h0m2-2h0m6 1h0m8 2h0m3 4h0m-17-3h0m0 4h0m-1-3h0m-44 1h0m-52-1h0m-11 3h0m2 5h0m7 1h0m15-2h0m19 1h0m3 0h0m23-3h0m18 5h0m4-5h0m5 0h0m10 1h0m-8 7h0m-23 0h0m-19-1h0m-13 1h0m-27 1h0m0 2h0m-6-5h0m-2 11h0m3-4h0m0 2h0m1-1h0m22 3h0m12-3h0m49 0h0m12 3h0m-14 1h0m-5 3h0m-7-3h0m-5 1h0m-18 3h0m-6-1h0m-19-2h0m-1 1h0m-3 2h0m-7-3h0m-2-1h0m-7 7h0m12 2h0m5-1h0m12 1h0m6 1h0m2-1h0m12-2h0m6-1h0m3 3h0m3 2h0m6-2h0m2 2h0m0-5h0m13 5h0m16-4h0m-21 9h0m-13-3h0m-78 6h0m85 1h0m-3 6h0m-48 2h0m-146 37h0m0 4h0m10 7h0m-11 19h0m163 6h0m-183 1h0m8 9h0m-12 7h0m75-4h0m75 15h0m85 3h0m-140 3h0m58 10h0m-97-1h0m0 4h0m-35-2h0m154 7h0m-58 4h0m-89 3h0m72 3h0m41 3h0m34-2h0m-138 9h0m104 1h0m74 13h0" stroke="#00BF7D" stroke-width="3" stroke-linecap="round" fill="none"/>
<path d="M761 460h0m76 5h0m-34-1h0m-39-2h0m-14 0h0m19 10h0m5-2h0m20-1h0m2 4h0m36 1h0m-16 4h0m-17-1h0m-16-2h0m-4-1h0m-3 4h0m-37 0h0m-43 4h0m18 1h0m0 2h0m49-3h0m6-2h0m1 3h0m1-3h0m30 1h0m7 3h0m2 0h0m1-1h0m2 2h0m1-1h0m16-4h0m1 7h0m-6 2h0m-4 1h0m-1 0h0m-3-1h0m-3-2h0m-1 1h0m-5 1h0m-28 0h0m-14-3h0m-24 5h0m-4-5h0m-1 5h0m-1-3h0m-6-1h0m0 2h0m-33-2h0m26 7h0m1 0h0m4 1h0m4-2h0m9 2h0m11-2h0m18 2h0m13 0h0m2 0h0m19 1h0m31-1h0m2 2h0m6 0h0m8 6h0m-1 0h0m-9-2h0m0 2h0m-38-1h0m-17-3h0m-1-1h0m-20 5h0m-10-4h0m-34-1h0m-3 0h0m-2 2h0m-3 0h0m-7-2h0m0 3h0m-22 6h0m11 1h0m2-3h0m1 1h0m2 3h0m43 0h0m55-1h0m41-3h0m11 1h0m8-2h0m52 8h0m-62-1h0m-1 3h0m-1 1h0m-4-1h0m-15-2h0m-5 1h0m-3 0h0m-24-2h0m-18 3h0m-19-4h0m-17 5h0m-33-4h0m-9-1h0m-12 2h0m1 4h0m13 2h0m15-1h0m21 4h0m15-4h0m43 4h0m17-1h0m4 1h0m8-5h0m14 2h0m11 0h0m5 0h0m4-2h0m6 3h0m3 2h0m-13 1h0m-8 3h0m-45-3h0m-2 0h0m-8 1h0m-16 1h0m-27-2h0m-21 1h0m-22 3h0m-13-3h0m-8 1h0m61 8h0m38 1h0m7 0h0m5-2h0m5 1h0m12 1h0m23 0h0m7-4h0m23 2h0m1-1h0m108 5h0m-94-1h0m-15 0h0m-36 2h0m-1 2h0m-2-3h0m-48-1h0m-2 1h0m-25 1h0m-31-1h0m-21-1h0m0 4h0m-30-2h0m30 7h0m3-1h0m3 0h0m2 3h0m3-3h0m2 1h0m35-2h0m9 4h0m47-3h0m17-1h0m11 2h0m15 2h0m5 0h0m7-2h0m5-3h0m4 4h0m3-3h0m70 6h0m-69 1h0m-9-2h0m-34 4h0m-99-2h0m-24 2h0m-20-4h0m2 10h0m7-1h0m31 1h0m3-3h0m2 3h0m28-3h0m4 1h0m13-2h0m17 5h0m3-1h0m38 0h0m2-4h0m13 2h0m13 0h0m5 0h0m33 8h0m-33-3h0m0 4h0m-2-1h0m-1-3h0m-3 4h0m-28-3h0m-6-2h0m-34 4h0m-16-3h0m-38 3h0m-4 0h0m-1 0h0m-1-2h0m-20 0h0m-7-1h0m-16-1h0m22 6h0m3 1h0m1-1h0m18 0h0m4 3h0m1 0h0m15 2h0m55-4h0m23-1h0m19 1h0m6 3h0m8-3h0m3 3h0m2-2h0m9 1h0m60-2h0m-84 7h0m-59 3h0m-13-4h0m-19 3h0m-13-1h0m-7-3h0m-4 2h0m-3 0h0m0 2h0m-14-4h0m-7 0h0m-15 1h0m-15 1h0m50 6h0m17-2h0m8 1h0m4 0h0m3 2h0m6-1h0m15 3h0m4-1h0m3 0h0m6-3h0m0 3h0m11-1h0m0-1h0m10 3h0m31-2h0m2 0h0m37 2h0m-38 3h0m-20 1h0m-2 2h0m-5 0h0m-6-3h0m-2 1h0m-7-3h0m0 2h0m-5-2h0m0 2h0m-1 2h0m-10-4h0m-9 3h0m-1-2h0m-4-1h0m-5 4h0m-1 1h0m-37-3h0m23 7h0m29 0h0m8-1h0m15 1h0m16 0h0m11 0h0m123 4h0m-166 8h0m26 0h0m162 7h0m11 3h0m-66 22h0m-4-1h0m-80 0h0m-28 1h0m31 4h0m97 1h0m11-1h0m25-2h0m-226 14h0m28 0h0m-11 9h0m86 0h0m28 8h0m-38-1h0m-47 2h0m87 5h0m-34 18h0m-31 7h0" stroke="#A3A500" stroke-width="3" stroke-linecap="round" fill="none"/>
<path d="M759 498h0m77 9h0m1 10h0m130 1h0m-163 9h0m23 3h0m142 0h0m4 2h0m-145 7h0m-69 0h0m-53 0h0m-27 5h0m10 1h0m28-4h0m19 1h0m2 0h0m79 7h0m-57 2h0m-35 0h0m-4-2h0m-3-3h0m-4 0h0m-7 3h0m-1-2h0m-14 0h0m-4 3h0m-1-4h0m-3 1h0m0 4h0m-18 5h0m4-1h0m8 2h0m45-1h0m1-3h0m9 1h0m5 2h0m3-4h0m77 5h0m-80 3h0m-3-1h0m-24 3h0m-21-1h0m-11 1h0m-2-3h0m-14 5h0m9 1h0m15-1h0m47 2h0m4-2h0m4 1h0m3 3h0m204-4h0m68 7h0m-272 2h0m-1 2h0m-55-3h0m-17-2h0m-2 2h0m-3 2h0m0 6h0m1 0h0m3-4h0m1 5h0m18-4h0m20 2h0m3 2h0m13-3h0m3 1h0m14-3h0m46 4h0m213-4h0m19 0h0m-111 10h0m-160-4h0m0 5h0m-4 0h0m-1-4h0m-27 2h0m-3 0h0m-52 1h0m-1-3h0m-22 0h0m12 8h0m5 1h0m2-4h0m24 2h0m34 1h0m6-3h0m10 2h0m9-1h0m17 1h0m227 3h0m-247 1h0m-6 2h0m-11-1h0m-6 1h0m-13 3h0m-2-1h0m-15-3h0m-41 3h0m10 2h0m7 3h0m1-2h0m12 4h0m8-5h0m26 1h0m5 3h0m2 1h0m27-5h0m8 4h0m2-3h0m3 2h0m2 1h0m17 0h0m-4 6h0m-2-3h0m-9 2h0m-3-3h0m-8 0h0m-25 0h0m-18 5h0m-8-4h0m-38 1h0m-16 0h0m5 4h0m8 3h0m2 1h0m11-2h0m1-1h0m28 1h0m1 0h0m5-2h0m34 2h0m20-1h0m3 1h0m3 3h0m187-3h0m-169 4h0m-22 3h0m-6 1h0m-1 0h0m-24-1h0m-24-3h0m-16 1h0m-4 1h0m-2 1h0m-13 2h0m-8-2h0m-3-3h0m-4 1h0m-10 3h0m16 6h0m1-4h0m1 5h0m21-2h0m41 0h0m26-3h0m1 3h0m1-3h0m4 5h0m4 2h0m-5 0h0m-3 1h0m-2-1h0m-5 1h0m-6 2h0m-4-3h0m-27 1h0m-6 1h0m-3 2h0m-3-4h0m-11 4h0m-22-1h0m-2 0h0m-16 7h0m5-2h0m16 1h0m1 1h0m42-3h0m44 3h0m3-5h0m2 3h0m180 2h0m21-4h0m19 2h0m-221 5h0m-6 1h0m-18 2h0m-5-4h0m-40 1h0m-5 3h0m-10-2h0m-2-3h0m0 2h0m-6 2h0m4 2h0m9 1h0m2 1h0m13 1h0m14-1h0m10 3h0m12-4h0m21 4h0m1-5h0m4 8h0m-6 2h0m-16-3h0m-3-1h0m-8 5h0m-40-2h0m-8 6h0m2 0h0m37 0h0m7 0h0m8-1h0m23 0h0m3-1h0m-9 9h0m-41 1h0m-15 1h0m3 2h0m0 2h0m1-4h0m1 3h0m14 2h0m8-4h0m15 2h0m18 1h0m-5 6h0m-2-2h0m-25 0h0m-18 3h0m-8-4h0m-2 2h0m-1-3h0m-2 0h0m-5 0h0m-1 10h0m20-1h0m0 2h0m7-2h0m17 2h0m7 0h0m3-2h0m2-3h0m1 1h0m8 3h0m-9 3h0m-6 2h0m-7-2h0m-6 1h0m-2-1h0m-1 0h0m-16 3h0m2 2h0m11 0h0m12 2h0m6 3h0m3-1h0m7-2h0m2 3h0m-18 24h0" stroke="#39B600" stroke-width="3" stroke-linecap="round" fill="none"/>
<path d="M868 393h0m-21 26h0m-11-4h0m-3 17h0m49 7h0m-60 9h0m74 7h0m-47 9h0m-16 7h0m50-1h0m-38 20h0m14 5h0m6-2h0m46 3h0m21 0h0m7-2h0m12 5h0m-8 1h0m-11 2h0m-10-2h0m-2-2h0m-6 1h0m-2 1h0m0 2h0m-11-2h0m-24 3h0m16 1h0m11 1h0m2 0h0m11 4h0m7-5h0m1 3h0m3 2h0m3-3h0m6 3h0m8 0h0m3-4h0m1 2h0m8 2h0m11-3h0m7 3h0m3 0h0m2-1h0m1 0h0m18 4h0m-8 2h0m-8 0h0m-14-4h0m-3 5h0m0-5h0m-3 4h0m-12-4h0m-12 2h0m-11-1h0m-1 0h0m-2 0h0m-7 1h0m-7 0h0m-2-2h0m-2 4h0m-17 1h0m-2-5h0m-10 4h0m4 5h0m20-2h0m24 2h0m30 0h0m18 2h0m5-4h0m8 2h0m5 2h0m0-1h0m4-2h0m1 1h0m15 6h0m-3-3h0m-94 4h0m-44-4h0m0 2h0m-32 6h0m20 3h0m10-5h0m2 2h0m4 2h0m2-1h0m15 2h0m28 0h0m7-4h0m6 4h0m19-4h0m7 4h0m8-1h0m57 7h0m-10-5h0m-5 5h0m-12-1h0m-21-4h0m-7 1h0m-9 4h0m-10 0h0m-12-3h0m-63-2h0m-4 1h0m4 7h0m4-1h0m0-1h0m1 3h0m1 0h0m19-1h0m9 0h0m11 2h0m39-3h0m10 2h0m18 2h0m28 0h0m11-3h0m2 1h0m-20 8h0m-3-4h0m-74 2h0m-31-1h0m-24 2h0m-2-1h0m-5 5h0m0-1h0m2 1h0m33 1h0m29 2h0m49-4h0m22 0h0m13 0h0m3 0h0m3 5h0m-10 5h0m-15-2h0m-49-2h0m-19-1h0m-8 5h0m-39 0h0m-9-1h0m-1-3h0m-2 0h0m-3 3h0m2 7h0m1-5h0m18 2h0m2-1h0m29 1h0m0 3h0m7-2h0m5 2h0m19-4h0m6 4h0m6-2h0m4 0h0m3 1h0m2-4h0m12 4h0m13-3h0m16-1h0m7 1h0m11 4h0m-10 2h0m-1 3h0m-1-2h0m-21-2h0m-4 5h0m-1-5h0m-23 1h0m-8 2h0m-32-2h0m-47 0h0m-3 8h0m5-1h0m4 2h0m6 0h0m15-1h0m12-3h0m27 2h0m48 0h0m24 3h0m5 0h0m0-1h0m3-4h0m0 10h0m-7-3h0m-1 2h0m-33 0h0m-14 1h0m-18 0h0m-30-4h0m-2 4h0m-9 1h0m-15 0h0m-9-5h0m-2 3h0m-5 0h0m-8 2h0m-4-5h0m17 10h0m18-2h0m2-2h0m6 4h0m20-4h0m29 0h0m42 1h0m10 1h0m3 3h0m1 0h0m15 1h0m-19 2h0m-14-2h0m-7 1h0m-19 0h0m-22 2h0m-29-1h0m-3 2h0m-15-2h0m-18 1h0m-36 7h0m37 0h0m18-3h0m39 0h0m29 2h0m4 0h0m17 1h0m19-3h0m2 4h0m3 0h0m3-5h0m-6 9h0m-14-3h0m-23 4h0m-48-1h0m-3-1h0m-20 3h0m-13-3h0m-1 0h0m-6 2h0m-107 0h0m111 2h0m10 1h0m5-1h0m2 3h0m27 2h0m9-2h0m3-1h0m0-1h0m11 0h0m7 1h0m12 0h0m25 0h0m4-2h0m10 4h0m1-1h0m1-1h0m6 0h0m1-2h0m-16 8h0m-11 2h0m-10 1h0m-20-2h0m-55-1h0m-6 1h0m-10 0h0m-14-3h0m14 10h0m15-3h0m6 4h0m53-1h0m5 0h0m1-4h0m9 4h0m15 1h0m10-3h0m-3 5h0m-2 0h0m-6 2h0m-3-3h0m-21 3h0m-16 1h0m-16-3h0m0-1h0m-13 4h0m-8 1h0m-3-3h0m-37-1h0m39 6h0m15 3h0m22-2h0m31-1h0m5 0h0m6 2h0m5-3h0m1 11h0m-1-5h0m-14 0h0m-2 1h0m-2 3h0m-3-1h0m-7 1h0m-31-2h0m-1-1h0m-17 4h0m-3-3h0m-1 3h0m-3-2h0m-8 1h0m-40 5h0m56-1h0m0 3h0m9-2h0m2-1h0m1 2h0m3-4h0m9 5h0m1 0h0m4 0h0m3 0h0m19-2h0m17-3h0m-9 8h0m-13-1h0m-16 1h0m0-1h0m-1 0h0m-3 2h0m-8-3h0m-7 0h0m-13 2h0m-58-1h0m-77 3h0m25 5h0m121-2h0m4 2h0m5-3h0m13 2h0m9 2h0m-101 7h0m-25 1h0m32 20h0m-30 8h0" stroke="#F8766D" stroke-width="3" stroke-linecap="round" fill="none"/>
<path d="M889 513h0m-173 37h0m177 6h0m14 13h0m85-1h0m20 1h0m-64 4h0m-41 1h0m-216-4h0m26 9h0m75-1h0m13-2h0m3 3h0m13-3h0m0 3h0m118 0h0m-72 6h0m-18 0h0m-4-1h0m-12-2h0m-2 1h0m-3 4h0m-7-1h0m-7 0h0m-9-1h0m-1 1h0m-18-4h0m-5 5h0m0-2h0m-10-1h0m-16 2h0m-29-4h0m-30 0h0m49 10h0m2-1h0m24 0h0m1-1h0m3 1h0m2 2h0m2-2h0m1 1h0m1-4h0m6 0h0m2 3h0m4-3h0m6 4h0m3-2h0m0-1h0m3 0h0m2 0h0m1 0h0m1-1h0m5 2h0m3-2h0m5 3h0m1-1h0m1 1h0m4-3h0m0 4h0m3 0h0m5-2h0m3 1h0m2 2h0m4-3h0m1-1h0m3 0h0m15 3h0m56 0h0m29 0h0m49-4h0m-128 8h0m-1 0h0m0-1h0m-1-1h0m-8 4h0m-7 0h0m-37-2h0m-16 0h0m-4 3h0m-6-4h0m-11 2h0m-8-2h0m-1 2h0m-2-2h0m-15 2h0m9 5h0m11-2h0m10 4h0m6-4h0m10 5h0m11-4h0m21-1h0m32 0h0m12 2h0m1 1h0m18-3h0m46 11h0m-92 0h0m-12-2h0m-28 2h0m-11 0h0m-40-4h0m-2 1h0m0 1h0m-2-2h0m-84 5h0m80 4h0m21-3h0m3 3h0m4 0h0m6-1h0m15-2h0m64 1h0m36-2h0m7 1h0m4 7h0m-2 3h0m-2-3h0m-36 2h0m-5 0h0m-16-2h0m-41 2h0m-24-3h0m0 3h0m-7-1h0m-22-3h0m-8 5h0m-30 4h0m15 2h0m14-1h0m2 0h0m1-1h0m6-2h0m18 1h0m44 1h0m40 2h0m10-2h0m22-1h0m4 1h0m8-3h0m9 6h0m-1 2h0m-1-1h0m-1 2h0m-8-2h0m-27 4h0m-20-1h0m-2-3h0m-25 0h0m-16-1h0m-3 2h0m-1 2h0m-5-4h0m-47 0h0m0 3h0m-1 2h0m-1 0h0m-6 4h0m3-3h0m4 1h0m22 3h0m5-4h0m4 1h0m4-1h0m3 0h0m18 0h0m4 0h0m7 0h0m17 5h0m17-1h0m18-2h0m13 0h0m27 2h0m2-1h0m2-2h0m-1 6h0m-8 4h0m-3-5h0m-57 2h0m-35 2h0m-33-2h0m-22 2h0m-8-3h0m-64 1h0m87 7h0m17-1h0m1 0h0m20-2h0m10 1h0m19 3h0m12-1h0m10-2h0m17 1h0m1-2h0m6 3h0m15-2h0m5 2h0m1 2h0m5-4h0m0 4h0m4-2h0m8 6h0m-1-3h0m-11 5h0m-10-1h0m-12 1h0m-27 0h0m-23-1h0m-82-1h0m-11-1h0m-46 7h0m47 1h0m3-2h0m0 3h0m12-5h0m2 5h0m41 0h0m2-2h0m6-3h0m14 5h0m14-4h0m12 2h0m4-3h0m16 5h0m13-5h0m11 4h0m14-4h0m0 2h0m5 3h0m2-5h0m-4 8h0m-7 0h0m0-2h0m-7 3h0m-12 0h0m-6-1h0m-7 3h0m-13-4h0m-1 2h0m-12 0h0m-7 1h0m-10 0h0m-51 0h0m-11-2h0m-48 3h0m38 3h0m9 0h0m60 0h0m50 1h0m24 0h0m1 0h0m1-2h0m10 1h0m9-2h0m-15 8h0m-3-2h0m-11 3h0m-55 0h0m-26-3h0m-11 2h0m-4 1h0m-7 2h0m-13 0h0m-15-4h0m-50 6h0m54 1h0m3-2h0m2 2h0m19 2h0m5-2h0m51 1h0m40-2h0m3 4h0m0-5h0m8 5h0m5-5h0m3 3h0m-12 5h0m-7 3h0m-17 0h0m-11-5h0m-15 3h0m-47-3h0m-4 2h0m-3-2h0m-1 4h0m-5 0h0m-23-4h0m32 6h0m8 5h0m4-1h0m2-2h0m8 2h0m4 1h0m8-1h0m49 1h0m2-1h0m12-3h0m13-1h0m-26 8h0m-8 1h0m-20 2h0m-8-2h0m-6-2h0m-1 1h0m-8 3h0m-10-5h0m0 1h0m-3 4h0m-1-1h0m-8 4h0m5-2h0m6 1h0m12-1h0m2 3h0m22-3h0m-5 8h0m-25 0h0" stroke="#D89000" stroke-width="3" stroke-linecap="round" fill="none"/>
<path d="M758 453h0m-9-1h0m-3 3h0m-19 1h0m0 4h0m6-4h0m19 1h0m6 2h0m3 2h0m2 1h0m-47 1h0m-2-1h0m-11 9h0m3 1h0m5 0h0m43-4h0m18 4h0m0-2h0m3 8h0m-1-2h0m-38 1h0m-31 4h0m13 3h0m17 0h0m2-3h0m14 2h0m2-3h0m26 8h0m-4-1h0m-12 3h0m-3 1h0m-13-1h0m-21-4h0m-8 1h0m17 8h0m2-3h0m15 0h0m11 5h0m10-3h0m-25 7h0m1 3h0m8 3h0m2 1h0m3 0h0" stroke="#00B0F6" stroke-width="3" stroke-linecap="round" fill="none"/>
<path d="M640 437h0m9 0h0m-4 3h0m-18-2h0m-3 3h0m0-1h0m-1 1h0m0 1h0m-1-1h0m-1 1h0m-1-1h0m-3 5h0m7 1h0m2 2h0m22-2h0m3 1h0m-8 2h0m-8 4h0m-8-1h0m1 7h0m0-3h0m6 3h0m0-1h0m2 0h0m0-3h0m4 10h0m-4 1h0m-2-2h0m-5 3h0m3 1h0m2-1h0m2 4h0m1 0h0m7 7h0m-13-5h0m2 6h0m2 3h0m0-3h0m0 2h0m-6 11h0m13 0h0m1 10h0m-4-5h0m-4 3h0m-3 0h0m12 8h0m1 0h0m1 6h0m-11 0h0m5 3h0m0-1h0m1 7h0m0 3h0m-1-4h0m-3 2h0m-1 0h0m-5 2h0m-1 0h0m3 1h0m2 3h0m0-1h0m5-1h0m0-1h0m1 3h0m0-3h0m4 4h0m1-2h0m0 2h0m7 0h0m-8 3h0m-13-1h0m-7 4h0m-1-1h0m3 5h0m21 0h0m2 3h0m1 0h0m1-2h0m0-3h0m-26 10h0m-1 5h0m4 1h0m12-2h0m1 2h0m7-4h0" stroke="#9590FF" stroke-width="3" stroke-linecap="round" fill="none"/>
<path d="M934 473h0m22-2h0m2 2h0m3-1h0m1-1h0m14 6h0m-1-2h0m-1 0h0m-31 1h0m-7-1h0m-3 3h0m2 6h0m2-2h0m3 0h0m30 0h0m2 3h0m10-5h0m-2 11h0m-44-4h0m16 5h0m6 3h0m2 0h0m5-1h0m10 2h0m4-1h0" stroke="#FF62BC" stroke-width="3" stroke-linecap="round" fill="none"/>
<path d="M871 397h0m-34 12h0m35 8h0m-35 28h0m20 4h0m-12 5h0m-2 0h0m-6 0h0m25 5h0m10 10h0m-25 8h0m9 5h0m20 1h0m-65 10h0m-59 9h0m11 4h0m11-2h0m12 11h0m-77 14h0m77 0h0m23 3h0m9 6h0m-106 2h0m33 2h0m52 20h0m-30-1h0m4 8h0m2-2h0m6-3h0m13 5h0m17-1h0m8-4h0m6 3h0m-13 5h0m-44 3h0m-3 3h0m6 1h0m7 1h0m40-1h0m11 3h0m-18 1h0m-30 3h0m-12 6h0m1-1h0m0 2h0m10-3h0m10 2h0m6-4h0m27 5h0m-4 1h0m-1 0h0m-10 5h0m-34-3h0m-1 0h0m26 6h0m4 0h0" stroke="#00BFC4" stroke-width="3" stroke-linecap="round" fill="none"/>
<path d="M856 387h0m-2 8h0m10 26h0m10 5h0m-13 10h0m23 29h0m-47-3h0m-29 5h0m68 4h0m-13 8h0m-51-1h0m-27 3h0m28 1h0m3 11h0m-55 23h0m61 16h0m-36 2h0m1 10h0m78 1h0m2-2h0m9 1h0m-4 7h0m-10-2h0m-142 4h0m121 0h0m7-1h0m7 4h0m11-1h0m1 0h0m1-1h0m7 1h0m6-3h0m3 4h0m1 1h0m1-2h0m3 2h0m3-4h0m2 9h0m-54-4h0m-22 1h0m-10 3h0m-66-4h0m3 8h0m99 1h0m0-1h0m5 1h0m45 3h0m-7 0h0m-31 5h0m-14-1h0m-6-1h0m0 2h0m-103 2h0m77 0h0m31-1h0m64 7h0m-5 1h0m-1 2h0m0 1h0m-1 0h0m-10-4h0m-2 2h0m-27-3h0m0 4h0m-6 0h0m-1 1h0m-6 0h0m-128-2h0m-12 0h0m191 8h0m11-1h0m-1 3h0m-5 2h0m-5-1h0m-4 3h0m-1-5h0m-3 1h0m-2 1h0m-23-1h0m-3 3h0m-11 0h0m-4-4h0m-5 0h0m-139 1h0m152 9h0m11 0h0m17-4h0m7 5h0m-3 6h0m-4-1h0m-14 0h0m-3 1h0m-10-3h0m-11 1h0m-119 7h0m1 1h0m19-2h0m120-2h0m18-1h0m-206 16h0m37 0h0m-16 29h0m-4 6h0m47 16h0m-3 5h0" stroke="#E76BF3" stroke-width="3" stroke-linecap="round" fill="none"/>
<path d="M847 377h0m1-1h0m10-1h0m1 2h0m4 0h0m7 6h0m-7-2h0m-1 1h0m0 1h0m-1-3h0m-1-1h0m-7 0h0m-2 4h0m-2 0h0m-10 0h0m0 4h0m1-2h0m4 2h0m3-1h0m2 0h0m1-1h0m10-1h0m3 4h0m4-3h0m7 4h0m15-5h0m-3 7h0m-8 0h0m0 4h0m-8-3h0m-3-2h0m-6 5h0m-2-4h0m-2-1h0m-2 1h0m-8 4h0m-6-1h0m-1 1h0m-4-4h0m0 4h0m-1-3h0m-30 4h0m25 4h0m1-1h0m0 1h0m1-2h0m5 0h0m0 2h0m1-1h0m3-3h0m25 0h0m6 2h0m0 3h0m4-1h0m1-1h0m1 1h0m1 1h0m9 1h0m-9 2h0m-2-2h0m-1 5h0m-9-4h0m-5 2h0m-3-2h0m-23-1h0m0 1h0m-2 3h0m0-1h0m-4-1h0m-4-1h0m-14 0h0m6 8h0m2-1h0m4 3h0m1-4h0m4 1h0m4 1h0m5-1h0m8 3h0m0-5h0m12 5h0m12-3h0m3 2h0m2-2h0m1-1h0m2 0h0m3 2h0m9 0h0m-5 5h0m-9-1h0m-1 4h0m0-1h0m-5 0h0m-15-1h0m-12 2h0m-17-4h0m-1 3h0m-15-4h0m0 4h0m1 5h0m3 0h0m5 1h0m0-1h0m1 0h0m1-1h0m4 1h0m14-3h0m7 5h0m21-5h0m8 0h0m4 3h0m4-3h0m4 1h0m1 2h0m23 4h0m-13 1h0m-9 2h0m-1-4h0m0 1h0m-2 0h0m-8-1h0m-1 1h0m-1 3h0m-3-1h0m-7 0h0m0-2h0m-4 1h0m-2 3h0m-15-1h0m-10-4h0m-7 2h0m-3 3h0m-5-4h0m-12 3h0m-8 5h0m11 1h0m10 0h0m0-1h0m1-2h0m29 4h0m2-1h0m22-3h0m1-1h0m6 1h0m3 0h0m0-1h0m1 1h0m4 1h0m28 8h0m-21-2h0m0 2h0m-1 1h0m-17-2h0m-1-3h0m-2 3h0m-6-2h0m-20 4h0m-6-3h0m-8-2h0m-2 4h0m-3-2h0m-2-2h0m-4 0h0m-3 2h0m-2-1h0m-13 3h0m0-3h0m-8 2h0m-8 7h0m7-1h0m1-1h0m26-1h0m3 1h0m24-2h0m2 1h0m15 1h0m1 0h0m9 1h0m2-1h0m14 0h0m6 0h0m2 1h0m-4 5h0m0 3h0m-1-1h0m-4-2h0m-14 2h0m-5-3h0m-1 3h0m-2 0h0m-12-4h0m-5 3h0m-9 0h0m-12-2h0m-8 0h0m-3 1h0m-1 3h0m-9-1h0m10 4h0m14-1h0m2 1h0m0 3h0m0-1h0m3-2h0m1 1h0m2 0h0m7-1h0m1-1h0m2 1h0m2 2h0m9-2h0m1 0h0m1 1h0m3 0h0m5-3h0m9 5h0m18 0h0m7 1h0m-2 3h0m-13-3h0m-16 1h0m-1 1h0m-3-2h0m-11 3h0m-3 2h0m-3 0h0m-7-4h0m-3 1h0m-1-2h0m-19 2h0m-14 3h0m-11-3h0m-2-2h0m35 10h0m18-4h0m34 0h0m15 0h0m14 9h0m-6-3h0m-3 3h0m-4 1h0m-6 1h0m-56-5h0m-23 4h0m-11 0h0m-3 0h0m0 7h0m2-4h0m74 3h0m20 0h0m6-3h0m3 1h0m1 0h0m3 2h0m1-1h0m-9 5h0m-2 1h0m-2-2h0m-20 3h0m-38-3h0m-23 4h0m-4-1h0m-9-3h0m0 4h0m-6-3h0m15 5h0m3 3h0m42-3h0m12 0h0m17 4h0m4-5h0m0 4h0m8 1h0m0-2h0m4-3h0m5 10h0m-20 1h0m0-1h0m-2-4h0m-16 4h0m-2 0h0m-4-4h0m-1 5h0m-2 0h0m-9-2h0m-33-3h0m0 6h0m1 5h0m27 0h0m4-5h0m1 2h0m7 2h0m2-2h0m0-1h0m5 4h0m6 0h0m1-1h0m1-3h0m10-1h0m17 0h0m-15 10h0m-3 1h0m-26-5h0m-35 0h0m3 7h0m23-1h0m8 5h0m-13 5h0m-143 27h0m0 9h0m-23-3h0m5 31h0m29-1h0m58 19h0m-33 4h0m126 4h0m13 2h0m-44 1h0m-138 10h0m16-4h0m151 0h0m-174 7h0m-8-2h0m108 7h0m-11 13h0m108 6h0m-121 2h0m-30 0h0m-5 6h0m38 1h0m80-3h0m15 0h0m-8 20h0" stroke="#00BF7D" stroke-width="3" stroke-linecap="round" fill="none"/>
<path d="M752 461h0m35 0h0m-26 6h0m-34 2h0m2-1h0m42 3h0m20-1h0m0-1h0m15 1h0m33 3h0m-26 4h0m-3-1h0m-9 0h0m-1-2h0m-1 1h0m-2 3h0m-2-2h0m-5 1h0m-1-2h0m-2 2h0m-2 0h0m-1-3h0m-2 2h0m0 2h0m-9-1h0m-25-2h0m-33 8h0m1 1h0m18-2h0m17 3h0m13-4h0m0 3h0m2-1h0m2 1h0m1-4h0m28 4h0m8-3h0m5-1h0m7 2h0m2 1h0m5-1h0m8 9h0m-11-5h0m-2 0h0m-4 3h0m-1-1h0m-27 2h0m-2 1h0m-12-1h0m-25-4h0m-1 1h0m-8 2h0m-7 0h0m-57 8h0m30-3h0m9 3h0m0-1h0m21-4h0m72 0h0m21 0h0m3 4h0m12-4h0m22 5h0m-12 4h0m-7 1h0m-8-2h0m-3-2h0m-37 3h0m-24-3h0m-5 3h0m-53-1h0m-8-1h0m-1 1h0m-11 9h0m11-4h0m31 1h0m2 1h0m42-1h0m31-2h0m16 4h0m3-4h0m6 0h0m1 4h0m0-1h0m4 1h0m1 1h0m5 0h0m29 2h0m-7 4h0m-15-1h0m-5-1h0m-1 0h0m-83-3h0m-18 4h0m-25-3h0m-27-1h0m-1 2h0m0 1h0m-5-1h0m-1 2h0m10 4h0m3 2h0m33-4h0m8 4h0m6-4h0m47 3h0m54 0h0m3-2h0m2-1h0m7 5h0m20 0h0m-20 4h0m-8 2h0m-7-4h0m-7-1h0m-19 3h0m-2 0h0m-6 2h0m-19-3h0m-63 0h0m-9 0h0m-9-2h0m-4 0h0m-14 5h0m-4-1h0m-4 6h0m2-2h0m2 2h0m4 1h0m20-3h0m26 0h0m47 2h0m72-3h0m14 3h0m48-4h0m37 3h0m-116 6h0m-9 1h0m0-1h0m-8-3h0m-36 2h0m-4 2h0m-33 0h0m-3-3h0m-12 4h0m-5-4h0m-13-1h0m-29 1h0m-17-1h0m-5 5h0m4 5h0m29-1h0m3 1h0m13 0h0m88-2h0m2-1h0m13-1h0m13 0h0m21 3h0m6 0h0m4 6h0m0 2h0m-39-4h0m-12-1h0m-23 0h0m-18 5h0m-11-5h0m-1 2h0m-14-1h0m-33 3h0m-4-3h0m-4-1h0m-1 3h0m-10 2h0m-3-2h0m-15 0h0m27 8h0m71-5h0m6 1h0m21 3h0m15 0h0m1-2h0m0 3h0m8-4h0m3-1h0m10 4h0m27-3h0m5 0h0m71 1h0m30-1h0m-102 9h0m-1-2h0m-4 2h0m-2-2h0m-11-2h0m-12 0h0m-14 5h0m-14 0h0m-25 0h0m-1-2h0m-6 0h0m-15 1h0m-8-4h0m-25 5h0m-5-1h0m-19-1h0m22 6h0m3 1h0m4-4h0m2 4h0m5 0h0m20-3h0m40 3h0m14-4h0m188 10h0m-143 0h0m-5 1h0m-26-5h0m-1 5h0m-10-2h0m-10 2h0m-12 0h0m-2-3h0m-2 2h0m-9-2h0m-25 3h0m-7 0h0m-1 0h0m-4-4h0m-1-1h0m-4 3h0m-17 0h0m-15 8h0m26-4h0m1-1h0m3 3h0m7 0h0m17-1h0m1-2h0m2 5h0m4 0h0m9-5h0m1 4h0m8 0h0m2-2h0m25 1h0m1 1h0m2-1h0m17-1h0m2 2h0m3-1h0m1-1h0m136 0h0m33 8h0m-71-2h0m-75 3h0m-44-4h0m-3 0h0m-14 0h0m0-1h0m-3 2h0m-12 0h0m-7 1h0m-29 0h0m-5-1h0m7 5h0m6 0h0m6 0h0m6-1h0m26 4h0m4-4h0m14 1h0m7 4h0m29-4h0m96-1h0m-113 8h0m-7-1h0m-5-1h0m-4 5h0m-13-4h0m-16 1h0m-48 4h0m22 2h0m21-2h0m34 11h0m-13 5h0m196 6h0m-19-1h0m-39 6h0m-109 13h0m-19 7h0m28 2h0m0 6h0m-65 2h0m-10 4h0m48 1h0m60 1h0m-104 9h0m54 4h0" stroke="#A3A500" stroke-width="3" stroke-linecap="round" fill="none"/>
<path d="M753 487h0m-15 9h0m59 3h0m-58 8h0m15-3h0m68 4h0m97 5h0m-151-1h0m26 6h0m179 0h0m-124 5h0m-116 14h0m-14 2h0m-12 0h0m-15 6h0m6-3h0m5 3h0m1-5h0m2 4h0m2 1h0m10-1h0m12 0h0m106-3h0m59-1h0m18 2h0m-147 9h0m-35-4h0m-5 4h0m-7-3h0m-3 0h0m-3 1h0m-5-2h0m-10-1h0m-31 1h0m4 6h0m5 4h0m7-2h0m25-3h0m2 3h0m16 1h0m16-3h0m3 2h0m222-3h0m-226 11h0m-3-4h0m0 1h0m-8-2h0m-9 4h0m-34-2h0m-8 0h0m-4 0h0m-25-2h0m11 7h0m2 1h0m2-1h0m8-1h0m1 5h0m11-4h0m24 4h0m16-4h0m15-1h0m28 1h0m8 2h0m56 8h0m-76-5h0m-13 4h0m-1-4h0m-51 3h0m-21 2h0m-20-1h0m9 4h0m8 3h0m1-2h0m11 0h0m15 2h0m5-1h0m1-4h0m3 2h0m21 1h0m21-2h0m5 4h0m12-3h0m236-2h0m-247 10h0m-1-2h0m-3 1h0m-12 0h0m-31 1h0m-3 1h0m-1-4h0m-9 2h0m-11 1h0m-7 1h0m-9-4h0m-12-1h0m-13 11h0m19-2h0m0 2h0m10-3h0m18 0h0m6 3h0m26-1h0m2-3h0m13 3h0m14-3h0m15 1h0m164 2h0m3 2h0m-173 1h0m-8 1h0m-25 3h0m-34-4h0m-2 0h0m-30 3h0m-5 1h0m7 4h0m34-3h0m1 4h0m13 0h0m45 1h0m1-1h0m1 1h0m7-3h0m11 2h0m-6 4h0m-14-2h0m-3 2h0m-9 3h0m-6-5h0m-33 2h0m-24 3h0m-18 0h0m-4-4h0m-3 9h0m6-4h0m5 1h0m4 4h0m25-5h0m19 2h0m44-2h0m178 10h0m-206-1h0m-8 1h0m-28-4h0m-8 1h0m-22-1h0m-5 2h0m33 4h0m58 4h0m6-4h0m13 4h0m214 5h0m-12-1h0m-211 3h0m-9 0h0m-23-5h0m-14 5h0m-36-4h0m-8 1h0m-1 0h0m-14 1h0m8 7h0m9-3h0m10-1h0m14 0h0m19 0h0m16 3h0m3-2h0m13 4h0m5-5h0m15 0h0m8 1h0m1 1h0m202 2h0m-221 4h0m-76 3h0m-3-5h0m-3 0h0m-4 5h0m-2 0h0m-6-5h0m11 6h0m0 3h0m1-3h0m8 3h0m26-1h0m34 3h0m11-2h0m0-1h0m8 1h0m1 8h0m-5 0h0m-5-4h0m-7 4h0m-10-3h0m-21 1h0m-16-1h0m-19-1h0m4 8h0m1-3h0m8 4h0m5 1h0m35-1h0m9-1h0m8-2h0m2 4h0m1-3h0m1 3h0m0-4h0m1 4h0m1-3h0m0-1h0m3 2h0m10-2h0m-11 10h0m-6-5h0m-35 4h0m-19-1h0m-3 2h0m-1-4h0m-4 1h0m-2 1h0m-1 2h0m10 1h0m1 4h0m15-2h0m17 3h0m12 0h0m4-1h0m9-3h0m2-1h0m5 0h0m-15 9h0m-7-2h0m-11 4h0m-30-5h0m-1 1h0m-6 2h0m-31 0h0m36 7h0m10-1h0m3 0h0m4 2h0m1-1h0m12-4h0m6 5h0m1-2h0m9 3h0m-2 0h0m0 1h0m-1 3h0m-9-3h0m-12 4h0m-11-3h0m-15 1h0m17 6h0m1-2h0m14-1h0m2 1h0m6 1h0m3-1h0" stroke="#39B600" stroke-width="3" stroke-linecap="round" fill="none"/>
<path d="M833 410h0m3 2h0m49 40h0m-11 5h0m-1 7h0m25 8h0m-7 4h0m-78 2h0m78 5h0m6 2h0m8-2h0m-8 4h0m-7 3h0m4 5h0m65 6h0m-15 2h0m-2-2h0m-10 0h0m-6 1h0m-19 0h0m-6-3h0m-5 1h0m-30 2h0m23 4h0m6 3h0m8 0h0m28-2h0m3 0h0m1-1h0m3 1h0m4 2h0m22-5h0m6 2h0m27 2h0m11 1h0m-22 2h0m-6 3h0m0-3h0m-1 0h0m0-1h0m-3 5h0m0-2h0m-6-2h0m-9 0h0m-12 1h0m-2 1h0m-4 2h0m-3-4h0m-6 0h0m-21 1h0m-1-2h0m-17 0h0m-3 0h0m-3 3h0m-1 0h0m-9 1h0m-3 0h0m-1 1h0m-3 2h0m3 1h0m5 0h0m31 1h0m1-1h0m9 0h0m31 0h0m7 0h0m30 0h0m7-2h0m4 4h0m2 7h0m-2-5h0m-2 1h0m0-1h0m-2 0h0m-23 0h0m-21 0h0m-5 1h0m-7 4h0m-57-5h0m-12 1h0m4 7h0m12 3h0m51-2h0m17-1h0m31 1h0m18-1h0m1 2h0m1-3h0m2 1h0m6 6h0m-4 0h0m-2 2h0m-18-2h0m-31 1h0m-22-1h0m-7 2h0m-5 1h0m-19-1h0m-30-2h0m0-2h0m-3 0h0m-1 4h0m-3-4h0m-4 9h0m7-1h0m3 0h0m26 2h0m44-3h0m41 3h0m15-2h0m13 3h0m6 0h0m6 2h0m-13 1h0m-3 3h0m-46-5h0m-38 0h0m-1 4h0m-32-4h0m-1 5h0m-5-2h0m0-2h0m-3 4h0m-7-1h0m-3 1h0m-1 6h0m20-1h0m6-1h0m21 0h0m39-2h0m7 1h0m14-2h0m0 4h0m15-2h0m7 2h0m4-4h0m16 5h0m1 3h0m-1 3h0m-3-3h0m0-1h0m-2 4h0m-5-5h0m-22 4h0m-28-4h0m-10 3h0m-4 1h0m-11-3h0m-10-1h0m-47 4h0m0 1h0m-2-3h0m-3-1h0m-10 3h0m-5 5h0m18 1h0m29 1h0m69-3h0m16 2h0m5-1h0m15 2h0m8-1h0m0 1h0m1-1h0m6 0h0m0 7h0m-5-1h0m-4-2h0m-7 2h0m-11-1h0m-5 1h0m-16-1h0m-14 1h0m-5 0h0m-12-1h0m-8 0h0m-33 1h0m-13 0h0m-7 7h0m2 0h0m9-1h0m14-4h0m6 4h0m21-1h0m14 1h0m25 1h0m19 0h0m26 0h0m8 5h0m-1-3h0m-8 3h0m-1-4h0m-2 4h0m-1 0h0m-24-4h0m-2 0h0m-26 2h0m-49 2h0m-4 0h0m-15-2h0m-3 3h0m-8-3h0m-6 0h0m0-2h0m-3 1h0m10 10h0m5-5h0m8 4h0m10-4h0m9 4h0m13-2h0m16 2h0m11 1h0m23 0h0m5-3h0m10-2h0m23 5h0m1 0h0m6-5h0m-3 10h0m-5-4h0m-27 4h0m-7-4h0m-19 1h0m0 4h0m-33-3h0m-19-1h0m-26-1h0m-8 4h0m4 6h0m1-4h0m4 2h0m6 0h0m4-1h0m5 3h0m10-4h0m22 3h0m32-2h0m2-1h0m7 4h0m41-1h0m4-3h0m3 7h0m-8 1h0m-28-2h0m-15 4h0m-3-2h0m-32 3h0m-28-5h0m-10 4h0m-3 0h0m-6-4h0m10 11h0m5 0h0m2-3h0m18 1h0m48-2h0m5 2h0m17 0h0m9 0h0m7-2h0m0 1h0m3 0h0m1-1h0m-2 7h0m-5 2h0m-12-4h0m-49 1h0m-32 2h0m-3 2h0m-3 0h0m-1-5h0m-58 1h0m-19 10h0m69-5h0m8 0h0m14 4h0m39-3h0m12 4h0m1 0h0m1-5h0m12 1h0m1 1h0m1-1h0m24-1h0m0 9h0m-3-3h0m-7 4h0m-13-4h0m-1 0h0m-29 5h0m-13-2h0m-16-2h0m-13 3h0m-141-4h0m-29 5h0m115 4h0m58-3h0m36 3h0m47 6h0m-14-3h0m-4 5h0m-5-1h0m-9 1h0m-7-1h0m-13 0h0m-22-4h0m-3 3h0m-157-3h0m-10 0h0m110 6h0m58 3h0m3-2h0m4 0h0m8-1h0m3 0h0m5 5h0m1-1h0m2-3h0m3 0h0m4 3h0m0-2h0m10 1h0m1 0h0m4 1h0m4-2h0m3 0h0m11-2h0m5 2h0m-29 9h0m-13-3h0m-8-1h0m-13 0h0m-2 5h0m13 4h0m25-4h0m-19 6h0m-129 11h0m-28 1h0m-18 8h0m57 7h0m0 8h0" stroke="#F8766D" stroke-width="3" stroke-linecap="round" fill="none"/>
<path d="M918 512h0m51 23h0m-90 5h0m1 3h0m29-1h0m78 3h0m26 18h0m-309-1h0m-7 0h0m301 8h0m-197 9h0m3-2h0m17 1h0m12-2h0m67 11h0m-43-2h0m-11 0h0m-9 2h0m-5 0h0m-3-3h0m-2-1h0m-32 3h0m-6-2h0m-2-2h0m-7 4h0m-2-4h0m-7 2h0m-2 3h0m-2-2h0m-53 2h0m-20 6h0m42 0h0m3-1h0m27 1h0m6-1h0m2-2h0m1 1h0m0 1h0m4 1h0m8-4h0m8 0h0m5 0h0m9-1h0m2 5h0m1-5h0m2 2h0m1-2h0m15 4h0m1-1h0m1 0h0m0-1h0m3 0h0m13-1h0m3 1h0m0 3h0m14-1h0m9-2h0m4 1h0m-21 4h0m-7 2h0m-7-3h0m-1 0h0m-50 5h0m-18 0h0m-4-2h0m-15 1h0m-3-4h0m6 9h0m0-3h0m1 5h0m5-5h0m82 5h0m11-4h0m15 1h0m12-1h0m14 3h0m99 0h0m-16 6h0m-86 1h0m-9-2h0m-4-2h0m-3 2h0m-1 0h0m-11-3h0m-11 0h0m-3 0h0m-3 3h0m-1-1h0m-11-1h0m-17 3h0m0-3h0m-13 4h0m-9-3h0m-35 2h0m-10-1h0m-4 2h0m-80 1h0m37 1h0m39 4h0m2-1h0m6-4h0m14 5h0m19-5h0m21 4h0m9 1h0m9-4h0m1-1h0m63 3h0m81 6h0m-60-3h0m-5 5h0m-5-3h0m0-1h0m-4 4h0m-19-1h0m-23 0h0m-55-3h0m-5 0h0m-39 2h0m-5 1h0m-1 5h0m3-3h0m26 1h0m4 2h0m5 0h0m18-1h0m30 0h0m36 3h0m22-5h0m5 0h0m8 0h0m10 3h0m1 0h0m86 2h0m-105 6h0m-1-3h0m-14 0h0m-21-2h0m-2 5h0m-3-5h0m-5 1h0m-11 2h0m-13-2h0m-10 4h0m-4-2h0m-8-2h0m-62 4h0m-70-4h0m73 6h0m20 1h0m9 2h0m1-1h0m4 0h0m3-3h0m0 3h0m5-1h0m14-2h0m10 2h0m42 1h0m14 0h0m1-1h0m4-1h0m32 1h0m1 2h0m2-3h0m-1 9h0m-12 0h0m-18 1h0m-13-2h0m-1 2h0m-8-4h0m-2 2h0m-4-2h0m-7 2h0m-14-2h0m-40-1h0m-14 1h0m-11 3h0m-6-4h0m-5 4h0m-2 0h0m-3-3h0m-5 5h0m10 0h0m0 1h0m13 4h0m3-1h0m16 0h0m0-1h0m6 0h0m2 2h0m19-4h0m3 0h0m24 3h0m58-2h0m6 0h0m5 3h0m15-4h0m-12 7h0m0 2h0m-3 0h0m-34-2h0m-8-2h0m-9 4h0m-25-4h0m-31 3h0m-45-3h0m-2 3h0m-3 1h0m-1-2h0m-1 0h0m4 8h0m4-2h0m1-2h0m0 3h0m11 0h0m8-2h0m48 1h0m8 3h0m2-4h0m46 2h0m36-3h0m5 8h0m-8-1h0m-13 1h0m-45-2h0m-2 5h0m-10-4h0m-6-1h0m-7 4h0m-30-2h0m-2 2h0m-33-2h0m-5-1h0m-4 2h0m-1-2h0m-4 1h0m-54-1h0m65 6h0m12-1h0m31 2h0m40 2h0m17 0h0m17 1h0m35 2h0m-14 0h0m-1 1h0m-5 3h0m-1-5h0m-4 2h0m-56 0h0m-2-1h0m-39 4h0m-29 0h0m-29 4h0m40-1h0m2-1h0m2 0h0m39 4h0m50-5h0m14 2h0m4-1h0m9-1h0m4 4h0m3 1h0m0-5h0m2 4h0m8-2h0m-20 9h0m-1-1h0m-12 0h0m-7 1h0m-47-2h0m-6 1h0m-8-4h0m-26 1h0m1 6h0m4 4h0m12 0h0m2-3h0m3 2h0m7 1h0m2 0h0m3-5h0m6 4h0m20-1h0m0-2h0m2 4h0m7 0h0m4 0h0m4-2h0m4 1h0m1-3h0m2 1h0m4 2h0m7-4h0m7 0h0m16 0h0m-23 6h0m-6 2h0m-4-2h0m-5 3h0m-6-2h0m-8-1h0m-8 5h0m-4-1h0m-21-2h0m-8 1h0m-14-2h0m-3-1h0m-3 2h0m23 6h0m5 0h0m2 2h0m1-2h0m12 3h0m4-2h0m6-2h0m9-1h0m-33 6h0" stroke="#D89000" stroke-width="3" stroke-linecap="round" fill="none"/>
<path d="M730 458h0m17-1h0m1-1h0m1 0h0m6 3h0m10 2h0m0 2h0m-19 0h0m-10-1h0m-17 0h0m-6 0h0m-2 5h0m-3 0h0m-2 0h0m-2 3h0m1 3h0m1-2h0m8 0h0m31-3h0m13 4h0m14-1h0m1 7h0m-66-3h0m20 6h0m51 1h0m-14 9h0m-3-3h0m-5 3h0m-26-1h0m-15 0h0m-1-4h0m34 8h0m22 0h0m3 2h0m3-4h0m1 3h0m-13 4h0m-15 9h0m2 1h0m3-4h0m8 2h0m1-1h0m-4 5h0" stroke="#00B0F6" stroke-width="3" stroke-linecap="round" fill="none"/>
<path d="M653 443h0m-5-3h0m-3-2h0m-1 2h0m-6-1h0m-6 0h0m0-1h0m-2 7h0m19 5h0m-3 2h0m-1-2h0m-2 0h0m-1 3h0m-1-3h0m-9 3h0m-2 0h0m-1-2h0m-1 0h0m-1 4h0m-1 0h0m4 6h0m3-5h0m1 0h0m7 3h0m1-3h0m1 2h0m-8 6h0m-1-2h0m-8 5h0m4 2h0m1-1h0m0 3h0m1 1h0m3-1h0m3 7h0m-2-1h0m-4 2h0m-1 3h0m0 2h0m2-4h0m2 3h0m5 1h0m5-2h0m-10 5h0m-2 10h0m9 2h0m-9-1h0m-3 1h0m6 5h0m11 0h0m-7 7h0m0 4h0m-2-5h0m-4 0h0m-4 6h0m7 3h0m4 0h0m5 1h0m-7 7h0m-2-1h0m-3-1h0m-3 4h0m3 0h0m2 4h0m5-3h0m5-2h0m4 1h0m3 2h0m-8 3h0m-3 0h0m-4 5h0m-9 0h0m-2-1h0m0 2h0m25 5h0m1-3h0m0 5h0m-3 3h0m-1-3h0m-1 3h0m-16-2h0m-6 0h0m15 5h0m2 1h0m4-2h0" stroke="#9590FF" stroke-width="3" stroke-linecap="round" fill="none"/>
<path d="M945 468h0m6 0h0m1 0h0m1 1h0m25 4h0m-12 1h0m-34 10h0m2-3h0m9-1h0m31 4h0m9-1h0m3 8h0m-14-3h0m-16-1h0m-7 3h0m-11 0h0m1 2h0m17 2h0m2 1h0m3-2h0m7 3h0m5 1h0m4-2h0m-4 3h0" stroke="#FF62BC" stroke-width="3" stroke-linecap="round" fill="none"/>
<path d="M867 403h0m-9 17h0m-22 6h0m23 16h0m34 13h0m-48 0h0m43 2h0m-42 7h0m36 4h0m14 8h0m-65 0h0m-48 13h0m45 3h0m-17 6h0m28 11h0m-98 3h0m4 4h0m79 28h0m-48 7h0m-8 1h0m12 0h0m34 11h0m-12-5h0m-11 2h0m-2 3h0m-31 3h0m9 0h0m5 2h0m36-3h0m14 3h0m1-1h0m3-3h0m3 7h0m-13-1h0m-3 2h0m-9 3h0m-3 0h0m-27 5h0m3-4h0m1 3h0m18 2h0m7-3h0m11 2h0m16 3h0m-4 3h0m-21-4h0m-32 5h0m-5-4h0m-5 1h0m58 9h0m2 0h0m-5 3h0m-12 1h0m-13 2h0m16 1h0" stroke="#00BFC4" stroke-width="3" stroke-linecap="round" fill="none"/>
<path d="M858 388h0m4 15h0m-31 20h0m21 10h0m32 4h0m-57 9h0m53 1h0m-14 3h0m-25 12h0m-27 3h0m72 12h0m13 6h0m-127 12h0m17-2h0m85 1h0m-75 7h0m4 14h0m-1-2h0m-18 1h0m-84 18h0m37 4h0m114 7h0m33 4h0m-5 4h0m-9-3h0m-1-1h0m-2 2h0m0 2h0m-8-4h0m-2 4h0m-3-5h0m-49 3h0m34 8h0m11-2h0m16 0h0m2-2h0m14 4h0m4-5h0m4 10h0m-25-4h0m-2 0h0m-9 1h0m-8 0h0m-2 3h0m-67 1h0m-67 0h0m-16-4h0m151 6h0m17 3h0m14-1h0m10 1h0m19-1h0m-111 8h0m48 6h0m8-2h0m42-2h0m7 5h0m-26 2h0m-12 1h0m-6-1h0m-15 2h0m-4-3h0m-97 1h0m-26-1h0m-5 4h0m151 5h0m23 0h0m17-1h0m3 2h0m3-4h0m-5 10h0m-16 0h0m-38 0h0m-1-4h0m-1 0h0m-4 0h0m-3 5h0m11 1h0m6 4h0m19-1h0m24-4h0m3 2h0m2-2h0m-24 9h0m-1 1h0m-2 0h0m-7-2h0m-5-1h0m-4 0h0m-1 2h0m0-2h0m-5 1h0m-4-2h0m-106 3h0m-25-2h0m-32 3h0m166 4h0m31 2h0m-15 3h0m-184 19h0m30 1h0m-6 10h0m16 40h0" stroke="#E76BF3" stroke-width="3" stroke-linecap="round" fill="none"/>
<text x="964.0" y="580.0" font-size="21" text-anchor="middle">0</text>
<text x="831.0" y="649.5" font-size="21" text-anchor="middle">1</text>
<text x="790.0" y="544.5" font-size="21" text-anchor="middle">2</text>
<text x="703.0" y="626.0" font-size="21" text-anchor="middle">3</text>
<text x="855.5" y="442.0" font-size="21" text-anchor="middle">4</text>
<text x="799.6" y="581.3" font-size="21" text-anchor="middle">5</text>
<text x="734.5" y="475.5" font-size="21" text-anchor="middle">6</text>
<text x="635.3" y="501.5" font-size="21" text-anchor="middle">7</text>
<text x="875.0" y="582.5" font-size="21" text-anchor="middle">8</text>
<text x="972.0" y="490.5" font-size="21" text-anchor="middle">9</text>
<text x="10.0" y="856.7" font-size="51">F</text>
<rect x="83.3" y="812" width="275.9" height="275.5" fill="none" stroke="#8a8a8a" stroke-width="1.1"/>
<path d="M186 912.1l-3 0.6l-2 -0.7l-3.7 -6l-4.3 -2.7l-33 -4.8l-10 -3.2l-5.2 -3.3l-3.8 -4.1l-1.4 -3.9l0.9 -5l2.9 -4l5.6 -3.6l7 -2.3l7 -0.8l23 1.1l40 -0.1l9 2.3l7.1 4.5l3.3 5l1 5l-1.5 5l-3 4.1l-5 3.4l-13.6 4.5l-17.4 9.1M305 999l-9 -1.2l-6.2 -2.8l-4.8 -5l-2.1 -6l-0.8 -13l2.6 -16l3.3 -6l6 -3.5l5 0l8 2.6l5 3l5 4.8l3.7 7.1l2 12l3.2 9l-0.4 5l-4.1 5l-7.4 3.5l-9 1.5M188 1000.2l-8 0.5l-13.3 -0.7l-6.4 -1l-4 -2l2.8 -1.9l4.4 -1.1l17.6 -1.4l10 0.8l7.3 2.7l-1.9 2l-8.4 2.2M195 888.2l-4 0.3l-3 -0.9l-2.5 -2.6l0.4 -2l5.1 -2.3l6.6 1.3l1.7 3l-1.6 2l-2.7 1.2" fill="#333" fill-rule="evenodd" opacity="0.72"/>
<path d="M211 1008.1l-10 0.5l-21 -0.1l-19 -0.9l-21 -2l-22 -4.1l-4.4 -1.5l-2.7 -2l-0.3 -1l1.3 -2l3.9 -2l8.1 -2.4l12 -2.6l5.3 -2l1.1 -2l0.2 -9l4.5 -12l-0.9 -3l-5.9 -10l-3.6 -10l-2.2 -10l-0.9 -12l-1.3 -4l-1.8 -2l-3 -2l-13.5 -6.2l-8.4 -4.8l-4.7 -4l-3.4 -5l-1.4 -6l1.2 -6l3.8 -6l6.3 -6l5.6 -3.4l7 -2.9l11 -3l7 -1.2l9 -0.2l19 1.5l21 -1.4l21 -0.2l11 1.6l11 4l12 6.9l5 4.2l2.8 3.3l1.7 3l1.3 4l0.2 3l-0.5 3l-3.1 6l-8.3 10.5l-2.1 5.5l-0.2 36l-3.2 23l0.8 4l2 3l2.7 2.3l8.1 4.7l3.3 3l0.8 2l-0.3 3l-1.9 4l-2.6 3l-3.4 2.4l-4 1.9l-12 3.5l-18 2.3M304 1015l-6 0.4l-5 -0.7l-6 -2.1l-6 -3.3l-6.4 -5.3l-8.2 -9l-3.7 -5l-1.3 -4l4.8 -27l2.1 -6l4.1 -8l5.4 -7l6 -4.7l6 -3l8 -1.7l10 0.5l7 2.1l10 5.8l6.3 6l4.3 7l3 8l1 5l0.8 12l2.3 11l-0.3 4l-1.7 4l-3.1 4l-4.6 4.1l-5 3.3l-8 4.1l-10 4.1l-6 1.4M203 970l2 -1l0.8 -1l0.8 -5l-1.7 -12l-0.8 -3.1l-1.6 -2.9l-2.4 -1.5l-5 -0l-6.4 1.6l-5 3l-2.7 3l-2.3 4l-0.2 2l1.3 2l18.4 9.9l3 1.1l2 0M193 1008l-28 -0.6l-25 -2.2l-20 -3.8l-4.3 -1.4l-2.9 -2l0 -2l4.2 -2.6l9 -2.7l12.5 -2.7l4.8 -2l0.8 -2l-0.6 -5l0.3 -4l5.1 -12l-0.8 -3l-5.9 -9l-4 -10l-2.5 -11l-0.9 -13l-1.7 -4l-3.8 -3l-14.3 -6.6l-9 -5.2l-4.6 -4.2l-2.9 -5l-0.9 -4l0.1 -3l2.1 -6l5.4 -7l7.8 -5.6l6 -2.6l7 -2.1l8 -1.9l6 -0.8l8 -0l18 1.4l23 -1.4l21 0l12 2.3l12 5.3l10 6.7l3.7 3.7l2 3l1.9 6l-0 3l-0.8 3l-3.4 6l-7.3 9l-2 5l-0 37l-3.5 23l0.5 4l1.9 3.3l3 2.8l7 4.8l1.9 2l0.9 2l0.2 2l-0.9 4l-1.9 3l-3.8 3l-5.3 2.4l-6 1.8l-21 3.2l-18 0.6M304 1014l-6 0.4l-5 -0.7l-6 -2.1l-6 -3.4l-6 -5.1l-6.3 -7.1l-3.4 -5l-1.6 -5l3.1 -25l2.6 -8l4.1 -8l4.6 -6l5.9 -4.8l7 -3.4l7 -1.3l10 0.6l7 2.2l10 5.8l5.9 5.9l3.6 6l3.1 8l1 5l0.9 12l2.3 11l-0.3 4l-1.7 4l-3.1 4l-3.6 3.2l-5 3.4l-8 4l-10 4l-6 1.5M204.6 971l1.4 -1l1 -1.7l0.5 -4.3l-2.3 -15l-2.2 -5.2l-3 -1.7l-5 0.2l-7 1.7l-5.1 3l-3.5 4l-2.4 4l-0.3 2l1.1 2l13.3 6.7l8 4.9l3 0.8l2.6 -0.4M208 1007l-25 0.6l-27 -1.2l-17 -1.7l-7 -1.2l-13 -3.2l-4.2 -2.4l-0.4 -1l0.4 -1l4.2 -2.6l9 -2.7l12.9 -2.8l4.2 -2l0.4 -2l-1 -5l0.3 -4l1.4 -4l4.2 -7l0.5 -2l-0.7 -2l-6.7 -9l-4.2 -10l-2.4 -11l-0.7 -13l-1.5 -4l-3.6 -3l-14.2 -6.4l-9 -5l-4.3 -3.5l-3.4 -5l-1.3 -6l1.2 -6l4.4 -7l5.3 -4.8l5 -3l7 -2.7l11 -3l6 -0.9l9 -0.1l19 1.4l21 -1.4l20 -0.2l12 2l10 4l11 6.7l4 3.4l2.8 3.4l2.4 6l0.2 3l-0.6 3l-3 6l-7.9 10l-1.9 5l0.4 36l-3.9 25l0.5 3.5l1.9 3.5l7.9 7l2.5 3l0.8 3l-0.5 4l-1.8 3l-2.3 2l-7.6 3.5l-9 2.2l-18 2.4M304 1013l-6 0.4l-5 -0.8l-6 -2.2l-6 -3.4l-5.9 -5l-5.9 -7l-2.9 -5l-1.1 -4l0.1 -5l2.1 -19l2 -7l3.7 -8l4.1 -6l5.7 -5.2l7 -3.8l7 -1.5l8 0.2l8 1.9l10 5.3l4 3.1l2.8 3l3.8 6l3.2 8l1 5l0.9 12l2.3 11l-0.3 4l-1.8 4l-3.2 4l-3.6 3.1l-5 3.2l-7 3.4l-10 3.9l-6 1.4M206 972l2.2 -3l0.3 -5l-2.5 -16l-0.9 -3l-2 -3l-2 -1l-2 -0.2l-8.2 1.2l-5.8 2l-4 3l-5.7 8l-0.5 2l0.9 2l3.2 2l10.1 4.4l11 6.9l3 0.6l3 -0.9M191 1007l-27 -0.5l-24 -2.1l-16.4 -3.4l-4.6 -1.6l-2.1 -1.4l-0.4 -1l0.4 -1l4.1 -2.5l7 -2.2l15.5 -3.3l3.5 -1.9l0.3 -1.1l-1.6 -7l0.5 -4l1.8 -4l5 -7l0.4 -2l-1.2 -2l-6.5 -7l-5.2 -11l-2.2 -9l-0.7 -15l-1.2 -4l-3.4 -3.1l-16 -7.2l-8 -4.5l-4.8 -4.2l-2.5 -4l-0.9 -3l-0.2 -4l0.9 -4l1.3 -3l2.6 -4l2.8 -3l7 -4.8l6 -2.5l7 -2.1l12 -2.3l8 -0l18 1.4l22 -1.3l22 -0.1l11 2.3l11 5l10 6.7l3.7 3.8l1.9 3l1.4 6l-0.9 5l-3.3 6l-6.8 8.3l-2 4.7l0.6 36.9l-1 8l-3.4 17l0.5 4l1.4 3l7.6 8l2 3l0.7 4l-0.6 3l-2.3 3l-3.1 2l-9.5 3.2l-19 3l-19 0.7M304 1012l-6 0.3l-5 -0.8l-6 -2.2l-5 -2.8l-5.6 -4.6l-5.2 -6l-3.1 -5l-1.5 -5l0 -6l1.8 -18l2 -7l3.1 -7l3.9 -6l5.5 -5.2l6 -3.5l7 -1.8l9 0.2l8 2l9 4.7l6.5 5.6l3.9 6l3.3 8l1.1 5l1.1 13l2 9l-0.1 4l-1.4 4l-2.9 4l-3.5 3.2l-5 3.3l-6 2.9l-11 4.2l-6 1.4M205.4 974l1.9 -1l1.6 -2l0.7 -5l-3.2 -20l-2.3 -4.9l-3 -1.5l-4 0.1l-10 2.1l-5 2.5l-3.6 3.7l-5 7l-0.7 2l0.7 2l3.2 2l12.4 5.2l11 7.4l3 0.7l2.4 -0.4M205 1006l-24 0.7l-26 -1.2l-20 -2.3l-11 -2.9l-4.8 -2.4l-0.5 -1l0.3 -1l4.9 -2.8l6 -1.8l16 -3.4l2.2 -1l0.8 -1l0.1 -1l-2 -6l0.3 -5l2.6 -4.9l5.6 -6.1l1.2 -2l-0.9 -2l-4.9 -3.5l-3.5 -3.5l-5.4 -10l-2.4 -9l-0.7 -7l0 -10l-1.6 -4l-4 -3l-13.4 -5.7l-9 -4.9l-5 -4l-3 -4.5l-1.2 -6l0.6 -4l1.1 -3l3.9 -6l5.6 -4.7l5 -2.7l6 -2.2l8 -2.2l7 -1.2l8 -0.2l20 1.4l20 -1.2l21 -0.3l10 1.6l10 3.9l12 7.6l3.4 3.1l2.3 3l1.4 3l0.6 3l-0.9 6l-3.3 6l-6.6 8l-2.1 5l1 23l0 14l-1.3 9l-3.7 17l0.3 3l1.2 3l8.3 11l1 4l-0.4 3l-1.2 2l-2.2 1.8l-6 2.7l-14 3l-13 1.5M304 1011l-6 0.3l-5 -0.8l-6 -2.2l-6 -3.6l-5 -4.4l-4.3 -5.3l-2.7 -5l-1.2 -5l0.5 -13l1.1 -10l2 -7l3.1 -7l4 -6l4.5 -4.2l6 -3.6l7 -1.8l9 0.3l8 2.1l9 4.8l6 5.4l4.3 7l3 8l1.7 15l2.1 10l-0.1 4l-1.5 4l-3 4l-3.5 3.1l-4 2.6l-6 2.9l-11 4.1l-6 1.4M207.4 975l2.8 -3l0.6 -3l-0.2 -3l-3.7 -21.4l-1.4 -3.6l-2.6 -2.4l-3 -0.5l-3 0.3l-9 1.9l-4.9 1.8l-4.8 4l-7.8 10l-0.6 2l1.8 2l16.4 6.6l11 8.1l4 1.2l4.4 -0.9M192 1006l-11 0.3l-17 -0.5l-23 -2.1l-12 -2.5l-5 -1.8l-2.4 -1.4l-0.5 -1l0.3 -1l4.6 -2.7l6 -1.8l13 -2.5l5.5 -2l0.4 -2l-1.9 -4l-0.7 -3l0.1 -3l1.1 -3l4.5 -5.4l9 -6.3l5 0.3l16 5l6.3 3.5l7.7 6.7l4 1.7l4 0.1l4 -1.9l1.8 -2.6l0.5 -4l-4.7 -26l-1.6 -3.9l-3 -2.3l-3 -0.3l-3 0.4l-11 2.4l-4 1.6l-3.8 3l-9.2 10.3l-5 3.6l-3 -0.1l-4 -1.4l-4 -2l-3.1 -2.5l-4.9 -7l-3.2 -8l-1.4 -9l0.1 -12l-1.3 -4l-3.6 -3l-13.7 -5.6l-9 -4.7l-6 -4.6l-2.7 -4l-0.9 -3l-0.2 -4l2.1 -7l4.5 -6l6.1 -4.4l5 -2.3l9 -2.8l10 -1.8l8 -0l19 1.3l21 -1.1l21 -0.2l10 1.9l9 3.8l11.7 7.6l3.2 3l2.1 3l1.5 5l-0.9 6l-2.6 5l-7.3 9l-2 5l1.5 23l-0 14l-2.2 13l-3.7 14l1.3 5l7.2 11l1.3 4l-0.1 3l-1.1 2l-2.6 2l-4.1 1.8l-6 1.6l-16 2.8l-17 0.8M304 1010l-6 0.2l-5 -0.8l-5 -1.8l-6 -3.4l-4 -3.3l-4.4 -5l-3 -5l-1.5 -5l-0 -10l1 -12l1.3 -6l3 -8l4.3 -7l4.2 -4.2l6 -3.7l6 -1.7l8 0.1l9 2l9 4.7l6 5.2l4.1 6.6l3.1 8l1.8 15l2.1 10l-0.1 4l-1.5 4l-3.1 4l-3.4 2.9l-4 2.5l-7 3.1l-9 3.2l-6 1.3M203 1005l-22 0.8l-26 -1.1l-19 -2.3l-8.3 -2.4l-3.7 -2l-0.6 -1l0.2 -1l4.3 -2.6l6 -1.7l14 -2.7l3.3 -1l1.5 -1l-0 -2l-2.2 -4l-0.8 -3l0.7 -5l1.9 -3l2.7 -2.6l4 -2.7l4 -1.8l4 -0.6l4 0.4l13 3.8l6.1 3.6l7.9 7.5l5 1.9l4 -0l4 -1.6l2.5 -2.8l0.8 -4l-3.5 -15l-2.5 -15l-2 -4l-2.2 -1.6l-5 -0.2l-13.1 2.8l-3.9 1.4l-4 2.7l-9 9.6l-5 2.8l-3 0.3l-4 -0.8l-3 -1.3l-3.4 -2.6l-4.6 -6.4l-2.8 -6.6l-1.4 -9l0.2 -13l-1.7 -4l-4.3 -3l-14 -5.5l-8 -4.3l-5.5 -4.2l-2.8 -4l-1.1 -6l1.7 -7l3.1 -5l5.5 -4.8l5 -2.6l6 -2.1l7 -2l6 -1l9 -0.1l19 1.3l21 -1.1l20 -0.3l9 1.5l9 3.5l11 7l5.8 5.7l1.5 3l0.6 3l-0.9 6l-2.7 5l-7.4 9l-1.9 5l2 23l-0.1 14l-2.6 14l-4.1 11l-0.5 3l1.1 4l6.5 11l1.4 4l0.2 3l-2.2 3l-5.8 2.6l-13 3l-12 1.4M304 1009l-6 0.2l-5 -0.8l-5 -1.8l-6 -3.5l-4.7 -4.1l-3.8 -5l-2 -4l-1.2 -5l0 -11l0.9 -10l1.3 -6l3 -8l3.6 -6l4 -4.1l6 -3.8l6 -1.7l8 0.2l9 2.2l8 4.2l6 5.1l3.9 6l3.2 8l1 5l0.9 10l2.1 10l-0.2 4l-1.6 4l-2.5 3.2l-4 3.5l-5 2.9l-7 2.9l-7 2.3l-6 1.2M192 1005.1l-11 0.4l-17 -0.5l-22 -2l-11 -2.5l-3.2 -1.4l-2 -2l1.2 -2l4.5 -2l19.6 -4l2.9 -1l1.1 -1l0 -1l-3.1 -5l-1 -3l0.1 -3l0.7 -2l2.1 -3l3.1 -2.6l7 -3.3l4 -0.5l4 0.3l7 1.6l5 1.8l5.7 3.7l7.3 7.9l3 1.7l4 1.1l5 0.1l4 -1.5l3.8 -3.3l1.2 -3l-5.5 -15l-3.5 -19.7l-2 -4l-2 -1.6l-2 -0.5l-3 0.2l-18.7 4.6l-4.5 3l-7.8 8l-5 2.8l-3 0.4l-4 -0.7l-3 -1.5l-3 -2.5l-4.1 -5.4l-2.5 -6l-1.2 -9l0.4 -12l-1.4 -4l-3.7 -3l-14.5 -5.5l-9 -4.8l-5 -3.8l-3.3 -4.9l-0.6 -6l2.1 -7l3.7 -5l6.1 -4.5l11 -4.2l11 -2.2l8 -0.1l19 1.3l35 -1.4l7 0.2l10 2.2l9 4.1l10 7.1l2.5 2.4l2 3l1.2 5l-1.3 6l-2.3 4l-6.8 8l-2.4 5l-0.2 4l1.5 9l1.1 12l-0.4 15l-3.3 14l-6.1 11l-0.6 2l0.5 2l4.7 6l2.3 4l2.6 7l-0.2 3l-1.8 1.8l-2 1.2l-12 3.6l-10 1.6l-15 0.9M303 1008.1l-5 -0l-5 -0.8l-5 -1.8l-6 -3.5l-4 -3.5l-3.3 -4.3l-2 -4l-1.2 -5l-0.1 -11l0.9 -10l1.3 -6l2.9 -8l2.9 -5l4.7 -4.9l6 -3.5l5 -1.3l7 0.1l9 2l8 4l6.4 5.4l3.8 6l3.1 8l1.8 14l2.1 10l-0.2 4l-1.6 4l-2.4 3.1l-4 3.4l-5 2.8l-6 2.4l-8 2.5l-6 1M221 968l-3 -1.2l-3 -4.8l-2.4 -8l-2.6 -16l-1.9 -4.2l-3 -2.3l-5 0.1l-19 4.8l-4.4 2.6l-8.6 8l-4 2l-3 0.4l-3 -0.5l-3 -1.3l-3 -2.3l-4 -4.9l-2.1 -5.3l-1 -8l0.4 -12l-0.7 -3l-1.2 -2l-4.4 -3l-13 -4.5l-8 -4l-6.4 -4.5l-3.1 -4l-1.1 -4l0.4 -5l1.8 -5l2.8 -4l4.5 -3.7l5 -2.6l9 -3l7 -1.4l9 -0.3l21 1.3l37 -1.4l8 0.8l9 2.9l7 3.7l7.6 5.8l2.9 3l1.8 3l0.8 3l-0 3l-2.2 6l-8.2 10l-2.4 5l-0.1 4l1.8 9l1.3 11l-0.4 16l-1.7 8l-2.2 6.2l-3 4.3l-2 1.7l-2 0.8M303 1007.1l-6 -0.2l-5 -1.1l-5 -2.1l-5 -3.1l-3.9 -3.6l-2.8 -4l-1.8 -4l-1 -5l-0.2 -10l0.9 -10l1.3 -6l2.9 -8l3 -5l4.6 -4.6l5 -2.9l5 -1.3l7 0.2l9 2.2l8 4.2l5.7 5.1l3.8 6l2.7 7l2 14l2.2 10l-0.2 4l-1.1 3l-2.9 3.9l-3.7 3.1l-4.3 2.4l-8 3.1l-7 2l-5 0.6M201 1004l-21 0.9l-25 -1.2l-19 -2.6l-5.9 -2.2l-2 -2l0.2 -1l1 -1l3.7 -1.6l20 -4.1l3.6 -1.3l0.8 -1l-0.2 -1l-3.6 -5l-1.1 -3l0.1 -3l1.3 -3l2.9 -3l4.1 -2.5l5 -1.6l5 -0.2l8 1.6l7 3l4.1 3.6l5.4 7l5 3l5.5 1.5l6 0.5l9 -2.5l2 0.4l2.4 2l4.4 9l-0.3 2l-0.8 1l-3.3 2l-8.5 2.7l-8 1.6l-8 0.7M222 964.2l-3 -0.4l-3 -3.8l-2.3 -7l-2.9 -17l-1.8 -4.2l-3 -2.6l-4 -0.1l-10 3.1l-12 2.8l-5 3l-7 6.1l-4 1.9l-3 0.4l-3 -0.5l-5 -2.8l-3.5 -4l-2 -5l-0.8 -7l0.4 -12l-0.7 -3l-1.1 -2l-4.3 -3.3l-13 -4.4l-8 -3.7l-6.7 -4.6l-3.3 -4l-1.2 -4l0.2 -4l1.6 -5l2.6 -4l4.8 -4.2l7 -3.4l10 -2.9l9 -0.9l23 1.3l36 -1.3l7 0.3l6 1.3l6 2.2l6 3.3l5.5 4.2l3.3 3l2.3 3l1.2 3l0.2 4l-0.8 3l-1.5 3l-8.4 10l-2.5 5l-0.1 4l2.3 9l1.6 11l-0.1 13l-1.1 7l-2.2 7l-2.7 4.2l-3 2M303 1006l-6 -0.3l-5 -1.1l-5 -2.1l-4 -2.5l-3.5 -3.1l-3 -4l-1.8 -4l-1.1 -5l-0.3 -10l0.8 -9l1.5 -7l2.8 -8l3.1 -5l3.5 -3.4l5 -3l5 -1.3l8 0.5l9 2.6l7 4l4.9 4.6l3.7 6l2.6 7l1.8 13l2.2 10l-0.3 4l-1.2 3l-2.2 3l-3.7 3.2l-4 2.3l-8 3.1l-7 1.9l-5 0.6M192 1004.1l-16 0.4l-22 -1.3l-17 -2.5l-4.6 -1.7l-2 -2l0.2 -1l1.1 -1l3.2 -1.4l18.5 -3.6l6 -2l0.6 -1l-0.4 -1l-3.7 -4l-1.6 -3l-0.3 -3l1 -3l2.6 -3l4.4 -2.6l5 -1.4l5 -0l8 1.8l6 3l3.2 3.3l4.8 7.8l3 2.3l9 2.9l15 2.9l3 1.6l2.1 2.5l-0.1 2l-2.1 2l-7.5 3l-8.4 1.8l-16 1.2M223 960.4l-3 0.3l-2 -1.6l-1.3 -2.1l-2 -6l-3.1 -18l-1.7 -4l-2.9 -2.6l-4 0.1l-11 3.9l-12 2.7l-5.5 2.8l-7.5 5.7l-3 1.2l-5 0.1l-5 -2.4l-3 -3.5l-1.5 -4.2l-0.6 -6l0.2 -12l-0.6 -3l-1.7 -3l-4.4 -3l-13.2 -4.3l-7 -3.1l-6.9 -4.6l-3.5 -4l-1.3 -4l0.1 -4l1.2 -4l2.4 -4l5.1 -4.6l6 -3l9 -2.8l9 -1.1l24 1.3l41 -1l5 0.8l6 1.9l5 2.3l5.2 3.4l7.8 7.4l1.8 3.6l0.4 3l-0.5 3l-1.3 3l-9.8 12l-2.4 5l0 3l2.6 8l1.7 8l0.8 11l-0.7 8l-1.5 6.5l-2 4.7l-3 3.2M303 1005l-6 -0.3l-5 -1.1l-5 -2.2l-4 -2.6l-3 -2.8l-2.8 -4l-1.6 -4l-0.9 -5l-0.3 -9l0.8 -9l1.5 -7l2.8 -8l2.6 -4.2l4 -3.9l4 -2.3l5 -1.3l7 0.4l9 2.5l7 4l5 4.6l3.3 5.2l2.5 6l2.2 14l2.3 10l-0.3 4l-1.2 3l-2.3 3l-3.4 2.9l-5 2.7l-6 2.2l-7 1.8l-5 0.5M184 1004l-21 -0.5l-18 -2l-8 -1.7l-3 -1.5l-1.1 -1.4l0.3 -1l1.2 -1l2.6 -1.1l20.1 -3.9l5.8 -2l0.4 -1l-0.8 -1l-3.7 -3l-2.3 -3l-0.8 -3l0.2 -2l1.7 -3l3.5 -2.8l4 -1.7l4 -0.6l4 0.2l5 1.1l4 1.5l3 1.8l3.1 3.5l2.9 8l1.9 2.3l4.8 1.7l19.2 4.7l3.1 1.3l2 2l-0.5 2l-1.2 1l-4.1 2l-5.3 1.6l-7 1.1l-20 1.4M223 956.5l-2 0.5l-1 -0.4l-1.6 -1.6l-1.4 -2.8l-4.6 -24.2l-1.4 -3.6l-2 -1.9l-2 -0.2l-2 0.5l-13 5.7l-13 3.1l-5.1 2.5l-6.9 4.8l-3 1.3l-4 0.2l-4 -1.6l-2.6 -2.7l-1.6 -4l-0.8 -17l-0.6 -3l-1.4 -2.9l-2.2 -2.1l-3.8 -2l-12 -3.6l-7 -2.9l-5 -3l-4 -3.3l-2.4 -3.3l-1 -4l0.6 -5l2.4 -5l4.3 -4.3l6 -3.3l9 -2.9l8 -1.1l25 1.2l41 -0.9l5 0.8l5 1.6l5 2.2l4.3 2.7l4.6 4l3.6 4l1.5 3l0.4 3l-0.5 3l-1.4 3l-10.9 13l-2.7 5l0.2 3l2.9 6l1.9 5.9l1.8 11.1l-0.5 8l-1.1 6l-2 5l-2.2 2.5M304 1004l-6 -0.3l-5 -1l-5 -2l-4 -2.5l-3 -2.7l-2.5 -3.5l-1.6 -4l-0.9 -4l-0.6 -8l0.4 -8l1.4 -8l2.4 -8l2 -4l3.4 -4l4 -2.8l5 -1.7l7 0.2l9 2.5l6.9 3.9l5.1 4.7l3.4 5.3l2.4 6l2 13l2.2 9l0 4l-1 3l-2 3l-3.3 3l-3.7 2.2l-6 2.4l-7 1.9l-5 0.6M191 1003.1l-14 0.5l-20 -1.1l-16.4 -2.5l-2.9 -1l-2.2 -2l1.5 -1.7l3.2 -1.3l20.9 -4l6.7 -2l0.3 -1l-6.1 -3.4l-3 -2.6l-1.5 -3l0.2 -3l1.9 -3l4.4 -2.8l4 -1l5 0.1l8 2.3l4.5 3.5l1.2 2l0.8 3l-0.9 6l0.4 1.1l1.9 0.9l22.1 4.6l5.7 2.4l1.6 2l-1.2 2l-1.6 1l-5.5 1.9l-19 2.2M163 937l-3 -0.2l-2 -0.9l-1.9 -1.9l-1 -2l-0.9 -4l-1.3 -15l-0.9 -3l-1.3 -2l-4.7 -3.1l-14 -4.1l-6 -2.4l-7 -4.3l-4.1 -4.2l-1.6 -4l0.2 -5l2.1 -5l3.4 -3.9l4 -2.7l5 -2.2l6 -1.8l6 -1l7 -0.1l21 1.2l38 -0.9l7 1.1l8 3l5.5 3.4l5.2 5l2.3 3l1.3 3l0.2 3l-1.3 4l-8.1 10l-12 11.6l-12.8 9.4l-6.2 3.8l-5 1.9l-12 3l-12 6.4l-3 0.9M223 951.4l-2 0.5l-2 -1.9l-1.4 -4l-1.2 -7l-0.9 -8l-0.1 -7l0.9 -5l1.6 -1.5l3 1.2l2 2.4l2 4.2l1.9 6.7l0.3 5l-0.9 7l-1.2 4.4l-2 3M304 1003l-6 -0.4l-5 -1.1l-8 -4l-2.9 -2.5l-2.2 -3l-1.7 -4l-0.9 -4l-0.7 -8l0.3 -7l1.5 -9l2.3 -8l2.1 -4l3.2 -3.6l4 -2.6l4 -1.3l6 0.1l10 2.9l6 3.5l5 4.6l2.9 4.4l2.5 6l2.1 13l2.4 9l-0 4l-1 3l-2.1 3l-2.8 2.4l-4 2.3l-5 1.9l-7 1.9l-5 0.5M178 985.2l-4 0.2l-4 -0.5l-7 -2.5l-2.6 -2.4l-0.9 -2l-0.1 -2l0.8 -2l3.9 -3.3l5 -1.4l6 0.5l5.8 2.2l2.4 2l1.3 2l0.3 4l-0.9 2l-1.9 1.7l-4 1.5M185 1003l-16 -0.2l-14 -1.2l-13 -2.4l-2.8 -1.3l-0.6 -1l0.5 -1l1.7 -1l6.1 -1.7l22 -3.8l11 -1.1l13 1l12 2l7 2.3l2.8 2.4l-0.9 2l-5.9 2.5l-23 2.5M167 932l-3 0.9l-2 -0.1l-1.7 -0.8l-1.3 -1.5l-1.5 -4.5l-2.4 -15l-1.4 -3l-1.8 -1.7l-4.4 -2.3l-13.6 -3.6l-6 -2.2l-7 -4.1l-4.4 -4.1l-1.8 -4l-0.1 -4l1.8 -5l3.3 -4l3.2 -2.3l5 -2.4l6 -1.9l6 -1l7 -0.1l21 1.2l37 -0.8l6 0.7l7 2.2l5 2.5l4.8 4l4.5 6l1 3l0 2l-0.8 3l-1.8 3l-6.8 7.8l-5 3.9l-10.3 5.3l-9.7 9.6l-5 3.7l-5 2.1l-11 2.8l-11 4.9M222 943.5l-1 -0.2l-1 -1.6l-1.4 -6.7l0.4 -4.4l1 -1.9l1 -0.4l2.1 1.7l1.4 5l-0.5 5l-1 2.5l-1 1M304 1002l-10 -1.3l-4 -1.5l-4 -2.4l-4.6 -4.8l-1.8 -4l-1 -4l-0.8 -8l0.3 -7l1.3 -8l2.1 -8l1.9 -4l2.6 -3.1l4 -2.8l4 -1.3l6 0.1l9 2.7l6 3.5l5 4.6l2.9 4.5l2.1 5l2.2 13l2.5 9l-0 4l-1.1 3l-2.3 3l-2.4 2l-4 2.2l-6 2.2l-5 1.2l-5 0.4M176 983l-6 -0.1l-5 -1.5l-3 -2.8l-0.4 -1.5l0.4 -2l3 -2.9l4 -1.2l5 0.3l5 1.8l2.9 3l0.2 3l-2.1 2.6l-4 1.4M190 1002l-12 0.5l-18 -1l-14 -2.4l-3 -1.2l-0.8 -1l0.6 -1l2 -1l8.4 -2l15.8 -2.5l13 -0.8l9 0.5l11 1.6l7 2.1l2.5 2l0 1l-0.8 1l-3.7 1.7l-17 2.4M168 927.2l-3.5 -0.2l-2.5 -2.5l-2 -5.5l-1.7 -9l-0.8 -2l-1.7 -2l-6.3 -3l-14.5 -3.4l-5 -1.7l-6 -3.2l-5 -4.2l-2.2 -3.5l-0.5 -5l1.3 -4l3.4 -4.4l3.7 -2.6l4.3 -2l5 -1.6l6 -1.1l7 -0.1l20 1.1l38 -0.6l6 0.8l6 2l5 2.6l4.6 4l3.9 6l0.6 3l-0.2 2l-2.3 5l-5.6 6.6l-5 3.3l-8.2 3.1l-3.7 2l-11.1 10.3l-4 2.8l-4 1.6l-19 5.4M305 1001l-10 -1.2l-7 -3.1l-3 -2.3l-2 -2.4l-1.6 -3l-1.4 -5l-0.8 -7l0.1 -7l1.2 -8l1.9 -8l1.8 -4l2.8 -3.5l3 -2.2l4 -1.4l6 0.2l8 2.5l6 3.5l5 4.6l2.3 3.4l2.2 5l2.3 13l2.7 9l0.1 3l-0.8 3l-1.8 2.8l-2.4 2.2l-3.6 2.2l-5 2l-5 1.3l-5 0.6M176 980.3l-4 0.6l-4 -0.7l-3 -2.1l-0.3 -2l1.6 -2l2.3 -1l3.4 -0.2l3 0.7l2.5 1.5l1.1 2l-0.6 2l-2 1.3M181 1002l-13 -0.4l-10 -1l-7.9 -1.6l-2.6 -1l-0.9 -1l0.6 -1l2.2 -1l9.6 -2.2l10 -1.4l13 -0.7l8 0.4l10 1.6l4.9 1.3l3.1 2l0.1 1l-1 1l-3.1 1.2l-15 2.4l-8 0.5M182 919l-8 0.6l-4 -0.8l-3.3 -2.8l-2.8 -8l-3.2 -3l-6.7 -2.7l-20 -4.2l-5 -2l-3.7 -2.2l-4.7 -4l-2.4 -4l-0.3 -4l2 -5l3.9 -4l5.2 -2.8l7 -2.2l7 -0.8l24 1.2l40 -0.3l9 2.4l4 2l3.4 2.6l3.8 5l1.5 5l-1.1 5l-4.2 6l-5.3 3.9l-13.7 5.1l-5.9 4l-9.4 7.6l-3 1.4l-4 1M312 999l-4 0.8l-5 0.2l-9 -1.6l-4 -1.8l-3.5 -2.5l-2.5 -3l-1.4 -3l-1.4 -6l-0.6 -8l0.5 -7l1.6 -9l1.4 -5l1.9 -3.5l3 -3.1l3 -1.7l3 -0.7l4 0.2l6 1.7l4.8 2.2l4.2 2.8l3.4 3.2l2.2 3l2 4l1.4 5l1.3 9l3 9l-0 4l-2 4l-3.2 2.9l-5 2.6l-5 1.6M187 1001l-10 0.3l-14 -0.9l-7.8 -1.4l-2.7 -1l-1 -1l0.7 -1l2.3 -1l7.6 -1.7l8 -1l12 -0.6l6 0.2l7.1 1.1l5.9 1.5l2.6 1.5l0 1l-1.7 1l-15 3M186 911.4l-2 0.5l-2 -0.4l-5 -6.4l-3.7 -2l-32.3 -4.4l-6 -1.4l-5 -2l-6 -4.1l-3.3 -4.1l-1 -4l0.9 -4l3 -4l5.4 -3.5l7 -2.4l7 -0.8l23 1.1l40 -0.1l9 2.3l4 2l2.9 2.3l3.4 5l1 5l-1.4 5l-3 4l-4.9 3.4l-14 4.6l-17 8.4M311 998.2l-4 0.6l-5 -0l-5 -0.8l-4 -1.3l-3 -1.7l-3 -2.5l-1.9 -2.5l-1.3 -3l-1.2 -6l-0.4 -8l2.2 -16l1.2 -4l1.7 -3l2.7 -2.6l3 -1.5l3 -0.5l4 0.5l9 3.5l3.9 2.7l3.2 3l2.2 3l1.9 4l2.4 13l3.3 9l-0 4l-1.4 3l-3.1 3l-4.3 2.3l-6 1.9M188 1000.1l-8 0.6l-12.6 -0.6l-6.6 -1l-3.1 -1l-1.1 -1l0.7 -1l1.7 -0.7l4.9 -1.3l17.1 -1.4l10 0.8l5.3 1.6l1.5 1l-0.1 1l-1.7 1l-7.9 2.1M195 903.2l-5 0.7l-4 -0.1l-13 -4.3l-28 -1.8l-9.4 -1.8l-6.5 -3l-4.7 -4l-2.3 -4l-0.3 -2l0.5 -3l2.6 -4l4.2 -3l6 -2.3l7 -1.1l24 1.1l38 -0.1l8 1.7l4 1.7l3.1 2.1l3.3 4l1.5 5l-0.5 4l-2.4 4.2l-3 2.5l-3 1.5l-20 6.1M311 997.1l-8 0.7l-8 -1.6l-6 -3.7l-2 -2.5l-1.4 -3l-1.1 -5l-0.4 -8l1.8 -16l1.1 -4l1.6 -3l1.9 -2l2.6 -1.5l3 -0.6l3 0.3l9 3.4l6.6 5.3l3.7 6l1.1 4l1.1 8l3.6 9l0.4 4l-1.1 3l-2.8 3l-4.5 2.5l-5 1.6M187 999.2l-6 0.5l-10 -0.5l-7 -1.2l-1.5 -1l0.7 -1l3 -1l13.9 -1.3l7 0.3l3.9 1l1.5 1l0 1l-1.4 1l-4 1.2M197 900.2l-9 0.5l-14 -3.6l-15 -0.9l-13 0.1l-8 -1.1l-6 -2.4l-4.9 -3.8l-2.6 -4l-0.2 -4l2.2 -4l3.6 -2.8l6 -2.4l6 -0.9l24 1.1l24 -0.5l13 0.5l9 2.1l3.7 1.8l2.3 1.8l2.3 3.2l1.1 4l-0.5 4l-1.9 3.2l-2.2 1.8l-2.8 1.4l-17 4.8M310 996.2l-7 0.4l-7.3 -1.6l-4.9 -3l-1.8 -2l-1.6 -3l-1 -4l-0.3 -6l1.4 -18l1 -4l1.5 -2.9l2 -1.9l2 -1l3 -0.4l3 0.5l8 3.5l5 4.3l3.4 5.8l1.9 11l4 9l0.5 4l-1.2 3l-2.5 2.4l-4 2.2l-5 1.6M184 998.1l-8 -0.1l-4.6 -1.1l1.5 -1l7.1 -0.8l4 0.1l2.6 0.7l0.4 1l-3 1.1M196 898.1l-4 0.3l-5 -0.4l-13 -3.3l-15 -0.8l-14 0.5l-6 -0.8l-5 -1.9l-4.8 -3.7l-2.2 -3.9l-0.1 -3.1l1.5 -3l3.8 -3l4.7 -1.8l6 -0.8l23 1.1l13 0l11 -0.7l10 0.5l5 0.8l5 1.5l3 1.4l3 2.3l1.9 2.7l0.8 3l-0.3 3l-1.8 3l-2.6 1.9l-2.7 1.1l-15.3 4.1M309 995.1l-7 0.2l-6 -1.6l-4.9 -3.6l-2.1 -4l-0.6 -6l1.4 -21l1.9 -5l3.3 -2.4l4 -0l5 1.7l4 2.4l3.4 3.3l2.7 5l2 11l4.5 9l-0.1 4l-2.2 3l-4.3 2.6l-5 1.5M194 896.1l-7 -0.4l-9 -2.8l-4 -0.7l-16 -0.7l-13 1l-5 -0.7l-4.4 -1.8l-3.6 -3l-1.8 -3l-0.1 -3l1 -2l2.9 -2.5l3 -1.3l4 -0.8l36 1.2l14 -1.1l8 0.5l6 1.3l6.1 2.7l3.2 3l0.9 2l0.2 2l-0.6 2l-1.8 2l-6 2.7l-9 2.7l-4 0.7M311 993.1l-6 0.9l-6 -0.9l-4.2 -2.1l-3.2 -4l-0.8 -3l0.1 -3l2.5 -9l-0.7 -11l1.3 -3.9l2 -1.7l4 -0.3l4 1.4l3.4 2.5l2.7 4l2.3 11l5 8l1.2 4l-0.5 2l-1.5 2l-5.5 3.1M197 893.2l-4 0.6l-5 -0.4l-10 -3.7l-4 -0.8l-17 -0.5l-11 1.5l-4 -0.3l-3 -1l-2.3 -1.5l-1.8 -2l-0.8 -3l0.8 -2l2.1 -1.8l5 -1.4l12 1.1l22 0.6l15 -2.1l6 0.4l5 1.2l4.5 2.1l2.6 2l1.4 3l-1.5 3l-5 2.8l-7 2.4M302 966.4l-2 -0.8l-0.9 -1.5l-0.1 -1.3l1 -1.3l2 0.3l1.2 1.4l0.1 2l-1.4 1.4M307 992.1l-4 -0l-4.1 -1.1l-3 -2l-1.8 -3l-0.1 -3l1.4 -3l2.6 -2.5l4 -2.3l3 -0.1l4 2l4 3.5l2.3 3.4l0.1 3l-1.3 2l-3.1 2l-4 1.1M197 890.1l-6 0.7l-5 -1.3l-2.6 -1.5l-2 -2l-0.6 -2l0.4 -1l3.9 -3l4 -1.2l5 -0.1l5.2 1.2l3.2 2l0.8 1l0.5 2l-2.3 3l-4.4 2.1M147 884.2l-3 0.7l-1.7 -0.9l-0.4 -1l1.2 -1.3l2 -0.2l1.6 0.5l0.9 1l-0.5 1.2M308 989.2l-4 0.4l-3 -0.8l-2.1 -1.8l-0.4 -2l0.3 -1l1.2 -1.3l3 -1.3l3 -0.1l3 1.1l1.8 1.7l0.5 2l-1.1 2l-2.2 1.2" fill="none" stroke="#2a2a2a" stroke-width="0.75"/>
<path d="M231 1015h1M203 961h1M112 867h1M268 978h1M244 989h1M296 1021h1M116 994h1M116 903h1M233 975h1M178 854h1M244 891h1M154 860h1M91 887h1M194 935h1M240 895h1M102 876h1M255 880h1M245 890h1M245 869h1M337 952h1M240 994h1M181 951h1M236 945h1M211 959h1M197 947h1M258 902h1M328 948h1M136 1005h1M185 942h1M173 858h1M255 978h1M279 941h1M96 868h1M128 982h1M280 938h1M284 937h1M143 857h1M326 940h1M151 859h1M216 860h1" stroke="#333" stroke-width="1"/>
<path d="M89.0 953.8L89.0 843.2L146.9 843.2" fill="none" stroke="#000" stroke-width="2.6" stroke-linejoin="miter"/>
<path d="M203.5 843.2L241.7 843.2L241.7 953.8" fill="none" stroke="#000" stroke-width="2.6" stroke-linejoin="miter"/>
<path d="M81.4 953.8L251.0 953.8L251.0 1013.2L81.4 1013.2Z" fill="none" stroke="#000" stroke-width="2.6" stroke-linejoin="miter"/>
<path d="M251.4 914.0L357.3 914.0L357.3 1009.3L251.4 1009.3Z" fill="none" stroke="#000" stroke-width="2.6" stroke-linejoin="miter"/>
<text x="174.6" y="830.0" font-size="19" text-anchor="middle" stroke="#fff" stroke-width="3" paint-order="stroke" stroke-opacity="0.85">CD3+</text>
<text x="174.6" y="847.5" font-size="19" text-anchor="middle" stroke="#fff" stroke-width="3" paint-order="stroke" stroke-opacity="0.85">45.0</text>
<text x="315.7" y="889.0" font-size="19" text-anchor="middle" stroke="#fff" stroke-width="3" paint-order="stroke" stroke-opacity="0.85">B220+</text>
<text x="315.7" y="906.5" font-size="19" text-anchor="middle" stroke="#fff" stroke-width="3" paint-order="stroke" stroke-opacity="0.85">45.2</text>
<text x="181.1" y="1033.6" font-size="19" text-anchor="middle" stroke="#fff" stroke-width="3" paint-order="stroke" stroke-opacity="0.85">dbneg</text>
<text x="181.1" y="1051.1" font-size="19" text-anchor="middle" stroke="#fff" stroke-width="3" paint-order="stroke" stroke-opacity="0.85">9.36</text>
<path d="M83.3 814.0h-3.5M83.3 822.0h-3.5M83.3 830.0h-3.5M83.3 840.0h-3.5M83.3 853.0h-3.5M83.3 867.0h-3.5M83.3 886.0h-3.5M83.3 909.0h-3.5M83.3 942.0h-3.5M83.3 948.0h-3.5M83.3 954.5h-3.5M83.3 963.0h-3.5" stroke="#222" stroke-width="1.2"/>
<path d="M83.3 940.0h-7.5" stroke="#000" stroke-width="2.4"/>
<text x="75.0" y="952.6" font-size="21.5" text-anchor="end">10<tspan font-size="15.7" dx="1.5" dy="-12.5">0</tspan></text>
<text transform="translate(37 948) rotate(-90)" font-size="22" text-anchor="middle">CD3</text>
<path d="M213.2 1087.5v3.5M247.8 1087.5v3.5M274.7 1087.5v3.5M315.0 1087.5v3.5M331.1 1087.5v3.5M345.1 1087.5v3.5M356.7 1087.5v3.5" stroke="#222" stroke-width="1.2"/>
<path d="M296.5 1087.5v5.5" stroke="#111" stroke-width="1.8"/>
<path d="M166.3 1087.5v7.5" stroke="#000" stroke-width="2.4"/>
<text x="172.0" y="1117.0" font-size="21.5" text-anchor="middle">10<tspan font-size="15.7" dx="1.5" dy="-12.5">0</tspan></text>
<text x="220.9" y="1142.4" font-size="22" text-anchor="middle">B220</text>
<text x="9.2" y="1162.7" font-size="51">G</text>
<rect x="83.7" y="1163.7" width="274.3" height="274.3" fill="none" stroke="#8a8a8a" stroke-width="1.1"/>
<path d="M278.7 1378.2l-2 0.2l-3 -2.1l-3 -4.5l-1.8 -5.1l-0.3 -9l2.6 -20l-0.6 -4l-1.9 -3l-5 -2.4l-13 -0.3l-5 -1.1l-11 -8.2l-11 -2.7l-8 -3.5l-13 -3.7l-34 -17.2l-9.2 -8.9l-5.4 -12l-0.3 -9l1.5 -4l3.1 -4l12.3 -7.3l7 -2.6l15 -0.7l10 0.7l5 1.7l19 10.3l14 12.9l12 15.6l3 2.6l3 0.5l3 -0.8l15 -8.3l4 -0.5l3 1.5l1.6 4.4l-0.2 7l-6.9 25l6.3 15l0.3 20l1.4 13l-2.4 8.9l-5 5.6M215.7 1287.1l-5 0.1l-5.1 -3.5l-2.4 -5l1.4 -3.4l2 -1l3 0.3l8 5.9l1 3.7l-3 2.8" fill="#333" fill-rule="evenodd" opacity="0.72"/>
<path d="M245.3 1436.7l-1.8 -6l-1.2 -7l-1 -8l-0.2 -7l1.3 -16l5.7 -27l0.2 -8l-1.6 -4.2l-2 -1.5l-2 -0.6l-9 -0.5l-5 -1.2l-10.4 -6.1l-31.6 -12.5l-26 -13.1l-14 -8.7l-8 -6.1l-12.9 -14.6l-3.9 -6l-3.3 -8l-1.4 -6l0.2 -7l1.6 -10l2.9 -6l8.7 -11l4 -4l4.1 -2.5l17 -7.2l13 -3l14 -0.5l24 1.7l5 1.2l11 4l22 10.3l6 3.6l11.3 8.5l13.2 8l3.5 0.8l3 -0l11 -2.1l4 -0.2l4 1l3 2.4l1.9 4l0.6 5l-4 30l3.2 42l-1.4 40l-3.8 43l-1.6 7l-3.4 9M246.8 1436.7l-2.8 -10l-1.4 -10l-0.3 -7l1.2 -16l5.9 -29l0.1 -8l-0.7 -2.8l-1 -1.6l-2 -1.5l-2 -0.6l-10 -0.6l-5 -1.3l-10 -5.9l-31 -12.3l-25 -12.5l-14 -8.6l-8.7 -6.4l-13 -15l-4 -6l-2.9 -7l-1.2 -6l0.5 -10l1.4 -7l3.2 -6l7.7 -9.6l4 -3.9l5 -3.1l16 -6.9l13 -3l14 -0.3l23 1.6l6 1.5l9 3.3l23 11l5.7 3.5l10.3 8l13 8.1l3 0.9l4 0.1l11 -2.1l4 -0.3l4 1l3 2.4l1.8 3.8l0.7 5l-4 30l3.4 42l-1.4 39l-4 43l-1.7 7l-3.7 9M248.4 1436.7l-3.3 -11l-1.3 -9l-0.3 -7l1.4 -18l4.6 -21l1 -7l0 -8l-0.8 -3l-1 -1.5l-2 -1.5l-2 -0.6l-11 -0.7l-4 -1.1l-10 -5.8l-33 -13.3l-23 -11.7l-14 -8.4l-8.7 -6.5l-12.7 -15l-4 -6l-2.4 -6l-1.2 -6l0.4 -10l1.2 -6l3.2 -6l7.9 -10l4.3 -3.8l6 -3.5l14 -6.1l13 -2.9l13 -0.2l24 1.8l5 1.3l10 3.8l22 10.8l5 3.2l9.6 7.7l13.4 8.5l3 0.9l4 0.1l15 -2.4l4 0.9l3 2.4l1.8 3.7l0.7 5l-4 30l0.5 10l1.8 14l1.2 17l-1.4 39l-4.3 43l-1.8 7l-3.9 9M250.2 1436.7l-2.4 -6l-1.5 -6l-1.2 -8l-0.4 -7l1.4 -18l4.5 -21.6l0.9 -7.4l-0.1 -8l-0.8 -3l-1 -1.6l-1.9 -1.4l-2.1 -0.7l-11 -0.8l-4 -1l-12 -6.5l-32 -12.9l-22 -11.4l-15 -9l-8 -6.1l-13 -15.8l-3.7 -6l-1.8 -5l-0.8 -6l0.7 -10l1.7 -6l5.9 -9l5 -5.9l5 -3.9l9 -4.9l12 -4.6l11 -2l12 -0l18 1.1l6 0.9l13 4.6l22 11l5 3.2l9.1 7.5l13.9 9l6 0.9l13 -2.3l4 -0.2l4 1.3l2.3 2.3l1.6 4l0.4 6l-3.5 22l-0.5 7l0.4 8l2.2 15l1.2 17l-1.4 39l-4.5 42l-1.9 7l-4.1 9M252.1 1436.7l-2.6 -6l-1.5 -5l-1.2 -7l-0.6 -8l1.3 -19l4.3 -20.9l1 -8.1l-0.1 -9l-0.9 -3l-1.1 -1.7l-1.7 -1.3l-2.3 -0.8l-11 -0.9l-5 -1.3l-11 -6l-33 -13.5l-20 -10.5l-16 -9.3l-7.7 -5.8l-4.6 -5l-9.2 -12l-2.4 -4l-1.9 -5l-0.8 -6l0.6 -9l1.6 -6l5.7 -9l4.6 -5.5l5 -3.9l9 -5.1l11 -4.3l11 -2.1l13 -0l17 1l6 0.9l13 4.7l22 11.2l4 2.7l9 7.7l14 9.3l6 0.7l13 -2.4l4 -0.2l4 1.2l2.1 2l1.7 4l0.4 6l-3.6 22l-0.5 8l0.5 8l2.5 16l1 14l-1.4 39l-4.9 42l-2 7l-4.3 9M254.1 1436.7l-2.8 -6l-1.9 -6l-1.3 -7l-0.5 -7l1.4 -21l3.9 -19l1 -9l-0.2 -9l-0.9 -3l-1.1 -1.8l-1.5 -1.2l-2.5 -0.9l-12 -1.2l-5 -1.5l-10 -5.4l-10 -3.7l-25 -10.9l-32 -17.6l-7 -4.6l-5 -4.6l-10.4 -13.6l-3 -5l-1.8 -6l-0.3 -6l0.9 -8l2.2 -6l5.1 -8l3.4 -4l6 -4.5l9 -5.1l10 -3.9l11 -1.9l12 0l17 1.1l6 0.9l12 4.4l22 11.3l4.1 2.8l7.9 7l14.2 10l5.8 0.9l13 -2.4l5 -0.4l4 1.2l2.5 2.7l1.4 4l0.2 5l-3.6 22l-0.6 9l0.4 6l2.5 14l1.3 16l0 10l-1.4 29l-5.3 42l-2.2 7l-4.6 9M256.3 1436.7l-3.1 -6l-2.2 -6l-1.3 -6l-0.7 -7l0.1 -9l1.1 -13l3.7 -19l1 -10l-0.3 -9l-0.8 -3l-1.2 -2l-3.9 -2l-12.1 -1.3l-5 -1.5l-9.9 -5.2l-11.1 -4.2l-24 -10.6l-33 -18.1l-6 -4l-5 -4.6l-9.4 -12.5l-3.1 -5l-1.7 -5l-0.4 -6l0.9 -8l2.1 -6l4.8 -8l3.4 -4l6.3 -4.7l8 -4.7l10 -3.9l10 -1.7l12 -0.1l23 2l10 3.6l23 11.9l4 2.9l8 7.2l10.9 8.5l3.1 1.7l3 0.7l3 0l13 -2.6l5 -0.4l4 1.2l2.3 2.3l1.5 4l0.2 5l-3.8 23l-0.5 8l0.5 6l2.7 13l1.3 16l0.1 11l-1.4 28l-5.8 42l-2.7 8l-4.5 8M258.8 1436.7l-3.4 -6l-2.5 -6l-1.5 -6l-0.7 -7l1.1 -23l3.4 -18l0.9 -10l-0.3 -10l-1.9 -5l-3.3 -2l-11 -1.2l-5 -1.2l-11.4 -5.6l-14.6 -5.5l-24 -10.9l-19.7 -11.5l-11.3 -5.6l-6 -4.2l-4.3 -4.2l-5.3 -7l-5.7 -9l-1.9 -6l-0.1 -6l1.3 -8l2.5 -6l3.6 -6l3.5 -4l7.5 -5.5l7 -4l9 -3.5l10 -1.6l11 -0.1l23 2l9 3.3l23 12.1l22 18.6l3 1.9l3 0.9l4 -0l12 -2.6l5 -0.5l4 0.7l3 2.4l1.6 3.9l0.2 6l-3.8 22l-0.6 8l0.6 5.9l2.9 13.1l1.2 15l0.2 12l-1.5 27l-6.6 43l-3.1 8l-4.7 7M261.7 1436.7l-3.5 -5l-3.4 -7l-1.8 -6l-0.8 -6l-0.1 -8l1 -16l3.2 -18l0.8 -10l-0.1 -10l-0.5 -3l-1.3 -3l-1.7 -1.5l-2 -0.8l-11 -1.1l-6 -1.7l-10 -5.1l-17 -6.4l-25 -11.8l-14.1 -8.6l-12.9 -6.3l-6 -3.9l-7 -7.1l-7.6 -11.7l-2 -5l-0.6 -6l1 -8l2.1 -6l3.3 -6l3.8 -4.6l6 -4.7l7 -4.3l10 -4l10 -1.5l10 -0.1l23 2.1l8 2.9l22.8 12.2l21.8 19l3.4 2.2l3 0.8l3 -0l13 -3l5 -0.5l4 0.8l3.2 2.8l1.3 4l0.1 5l-3.7 21l-0.8 9l0.5 5l3 12l1.2 12l0.4 17l-1.5 26l-7.1 43l-3.3 8l-5.8 7M266 1436.7l-4.3 -4l-3.6 -6l-2.8 -7l-1.2 -7l-0.2 -8l0.9 -17l2.9 -16.8l0.7 -11.2l-0.1 -10l-1.4 -6l-1.9 -2l-2.3 -0.8l-10 -0.7l-5 -1.2l-13 -6.3l-11 -3.7l-7 -3l-22 -10.5l-14.1 -8.8l-14.9 -7.1l-4.4 -2.9l-4.4 -4l-5.5 -7l-5.1 -9l-1.5 -6l0.4 -8l2.4 -8l4.8 -8l5.1 -5l8.3 -5.4l10 -4.3l11 -1.9l9 -0.1l23 2.1l7 2.6l22.1 11.9l15.1 13l7.2 7l3.6 2.3l3 0.7l3 -0.2l12 -3.2l6 -0.7l4 0.8l3 2.7l1.2 3.7l0.1 5l-4 23l-0.6 7l0.7 5l3.1 11l1.2 11l0.5 20l-1.7 25l-6.7 38l-1.5 6l-1.8 4l-2.3 3.4l-3 2.9l-4.5 2.8M274.7 1433.7l-3 0.7l-3 -0.2l-4.4 -2.6l-2.6 -3.3l-2.6 -4.7l-2.7 -8l-0.7 -9l0.6 -16l0.7 -8l2.1 -12l0.6 -14l-0.2 -10l-1.5 -5l-1.3 -1.4l-2 -0.9l-10 -0.4l-5 -1l-14 -6.9l-17 -5.9l-25 -12.2l-12.9 -8.4l-15 -7l-6.1 -4.7l-5.4 -6.3l-5.2 -9l-1.8 -6l-0.2 -6l1.3 -7l3.8 -8l4.4 -5.7l6 -4.7l11 -5.5l5 -1.6l6 -1.1l10 -0.5l23 1.9l7 2.5l21.4 11.7l14.6 12.7l8 8.1l4 2.7l5 0.5l13 -3.8l5 -0.8l5 0.9l2.9 2.8l1.1 4l-0.1 5l-3.9 21.2l-0.7 6.8l0.6 5l3.5 12l0.9 8l0.7 22l-1.7 23l-8.8 45l-1.9 4l-2.3 3l-3.3 2.6l-3 1.4M273.7 1430.9l-3 0.3l-2 -0.4l-4 -3l-4.4 -7.1l-2.3 -8l-0.5 -7l0.4 -13l0.6 -9l1.8 -12l0.6 -18l-0.1 -9l-1.2 -4.5l-1.4 -1.5l-2.6 -1.1l-10 -0l-5 -0.9l-14 -7.2l-16 -5.2l-26 -12.7l-11 -7.4l-15 -6.9l-6.5 -4.6l-5.5 -6.1l-4.7 -7.9l-2.1 -6l-0.5 -6l1 -7l3.2 -7l4.4 -6l5.7 -4.7l12 -5.8l10 -2.5l9 -0.4l23 1.9l6 2.2l21 11.6l13.4 11.7l9.6 9.9l4 2.8l2 0.5l3 -0.2l13 -4.3l5 -0.9l4 0.5l2 1.1l1.4 1.6l1.2 4l-0.1 5l-4.2 23l-0.5 5l0.7 5l3.3 10l1.1 7l0.9 25l-1.3 18l-1.5 10l-2.8 11l-5.2 26l-1.8 4l-2.1 2.8l-3 2.2l-3 1.2M274.7 1426.9l-4 0.5l-2 -0.7l-2.4 -1.9l-3.9 -6l-2.2 -8l-0.3 -14l0.8 -13l1.3 -10l0.7 -28l-0.2 -4l-1 -3l-1.9 -2l-2.8 -1l-10 0.3l-5 -0.9l-14 -7.6l-17 -5.3l-25 -12.3l-11 -7.3l-13.1 -6l-6.9 -4.6l-5.1 -5.4l-4.5 -7l-2.5 -6l-0.9 -6l0.5 -6l2.1 -6l4.6 -7l4.7 -4.3l13 -6.3l10 -2.7l8 -0.4l22 1.6l5.8 2.1l20.2 11.2l12.4 10.8l12.6 13.1l3 2l2 0.5l3 -0.3l12 -4.6l5 -1.2l5 0.4l2.7 2.1l1.4 4l-0.1 5l-1.3 9l-3 14l-0.5 5l0.5 4l3.6 10l1.1 6l1 25l-0.6 12l-2.2 15l-3.2 12l-5.1 24l-3 6l-4.3 3.2M274.7 1421.8l-2 0.5l-2 -0.2l-3.4 -2.4l-3 -5l-1.8 -7l-0.4 -11l1.7 -20l-0.4 -15l1 -19l-0.3 -3l-1.3 -3l-2.2 -1.9l-3 -0.9l-10 0.4l-5 -0.8l-3.9 -1.8l-9.6 -6l-16.9 -5l-25.6 -12.4l-10.1 -6.6l-12.7 -6l-6.2 -4.1l-4.9 -4.9l-4.1 -6l-3.2 -7l-1.1 -6l0.4 -6l1.7 -5l3.7 -6l4.4 -4.3l14 -6.7l8 -2.3l8 -0.4l22 1.5l5 1.9l7 4.2l9 4.3l4 2.7l10.4 9.1l14.6 15.6l3 2.1l2 0.4l3 -0.4l12 -5.1l5 -1.4l5 0.5l2.6 2.3l1 4l-0.3 7l-4.2 20l-0.6 5l0.6 4l3.6 9l1.3 6l1 27l-0.4 9l-2.5 14.4l-3.8 12.6l-1.9 10l-3.3 12l-2 4.4l-3 2.6M272.7 1415l-3 -1l-2 -2.6l-1.8 -4.7l-0.8 -5l-0 -7l1.6 -13l-1.8 -19l1.5 -22l-0.4 -3l-1.2 -2.5l-2 -1.9l-3 -1.2l-12 0.2l-5 -1.1l-12 -7.7l-16 -4.6l-25 -11.6l-12 -7.2l-11.6 -5.5l-5.8 -4l-5 -5l-3.3 -5l-3.3 -7l-1.4 -6l0.3 -6l1.8 -5l3.4 -5.2l4 -3.6l14 -6.7l7 -1.9l8 -0.3l20 1.2l5 1.9l7 4.3l8 3.7l4.1 2.7l11.2 10l7.6 8l7.1 8.4l3 2.2l2 0.4l3 -0.6l11 -5.3l5 -1.7l5 -0l2.5 1.7l1.3 4l-0.3 8l-5.1 24l0.6 4l3.8 8.8l1.2 5.2l1 29l-0.3 7l-1.7 9l-2.7 9l-3.1 8l-2.4 11l-3.9 9.7l-1 1.4l-2 1.2M272.7 1401l-1 0l-1 -0.9l-0.8 -2.5l0.1 -3l1.8 -7l-0 -3l-0.8 -4l-3.3 -10.2l-1 -5.8l0.1 -8l1.8 -17l-0.3 -3l-1.3 -3l-2.3 -2.2l-3 -1.2l-4 -0.4l-9 0.2l-5 -1.2l-11 -7.7l-12 -3.2l-18 -6.8l-14 -6.8l-9.8 -5.7l-9.2 -4.3l-5 -3.2l-5.1 -4.5l-3.9 -5l-3.4 -7l-1.8 -6l-0.3 -5l1.2 -5l2.9 -5l3.1 -3l13.4 -7l6.8 -2.2l17 -0.3l10 0.9l4.3 1.6l6.7 4.1l9 4.1l4 2.8l13.1 12.1l6.4 7l6.5 8.6l2 1.6l3 0.7l3 -0.7l10 -5.5l6 -2.3l4 -0.2l2.9 1.8l1.3 4l-0.3 8l-5.2 20l-0.5 4l0.6 3l4 8l1.4 5l0.4 21l0.9 10l-0.2 5l-1.2 5.8l-2 5.2l-3 6.5l-4.8 7.5l-2.2 7.8l-2 2.5M277.7 1377.8l-2 -0.5l-3 -2.8l-2.3 -3.8l-1.5 -5l-0.1 -8l2.7 -20l-0.5 -4l-1.8 -3l-2.5 -1.8l-3 -0.9l-13 -0.2l-4.9 -1.1l-3.1 -1.9l-4.3 -4.1l-3 -2l-10.7 -2.6l-9 -3.9l-13 -3.6l-34 -17.2l-4.5 -3.7l-4.5 -5l-2.8 -5l-2.5 -7l-0.7 -5l0.4 -4l1.5 -4l3.1 -4l4 -2.8l8 -4.3l7 -2.6l15 -0.7l10 0.8l5 1.7l7 4.2l8 3.5l4 2.6l13.7 12.7l6.8 8l5.4 8l3 2.5l3 0.4l3 -0.8l10 -6.1l5 -2.2l4 -0.5l3 1.6l1.4 4l-0.2 7l-2.5 10l-4.1 12l-0.4 3l0.6 3l4.2 7.2l1.4 4.8l0.6 10l-0.3 10l1.5 13l-0.6 4l-1.6 4.4l-3 4.1l-3 1.7M264.7 1324.8l-9 0.8l-6 -0.9l-3.7 -2l-4.3 -5l-3 -2.3l-3 -1l-9 -1.3l-9 -3.7l-14 -3l-32 -15.7l-4 -3.1l-4.4 -4.8l-2.6 -4l-1.7 -4l-1.4 -5l-0.3 -4l0.6 -4l1.8 -3.9l2 -2.4l3.8 -2.8l8.2 -4.4l4 -1.5l5 -0.9l7 -0.4l11 0.6l6 2l6.2 3.6l8.8 4l4 2.9l8 6.9l5.1 5.3l6.3 8l5.6 9.2l3 2.8l3 0.5l3 -0.7l4 -2l10 -6.8l4 -1.2l3 0.5l2 2.6l0.6 5l-1 6l-2.4 8l-8.4 19l-2.6 2l-4.2 1.1M279.7 1370.8l-3 0.7l-2 -1l-2.2 -2.9l-1.2 -5l0.4 -5.9l2.9 -14.1l1.1 -3.1l2 -2.5l1 -0l1 0.9l1 2.7l-0.4 10l2.6 11l-0.5 5l-0.9 2l-1.9 2.1M258.7 1322.8l-5 -0.3l-3.6 -1.8l-1.9 -2l-3.5 -6.2l-3 -2.2l-14 -1.2l-9 -2.8l-13 -2l-7 -2.9l-25.1 -12.7l-3.6 -3l-3.5 -4l-2.6 -4l-1.7 -4l-0.9 -4l-0.2 -4l0.8 -4l1.6 -3l2.3 -2.4l3 -2l7.5 -3.7l4.5 -1.6l10 -1.1l10 1l4 1.3l15.1 7.4l11.9 9.7l6.3 7.3l5.7 8.8l5 9.9l2.7 2.3l2.3 0.3l4 -1.1l6 -3.3l9 -6.8l3 -1.2l3 0.3l2 2.7l0.3 4.1l-1.8 8l-2.7 7l-5.8 9.2l-3 3.8l-4 2.8l-5 1.3M234.7 1303.8l-6 0.3l-21 -2.2l-7 -2.8l-24 -12.1l-5.8 -5.4l-4.2 -7l-1.4 -8l0.3 -3l1.2 -3l3.2 -3l8.7 -4.3l5 -1.7l6 -0.7l6 0.5l6 1.4l16 7.1l11.6 9.6l2.9 3l3 5l5.8 13l1.4 5l-0.3 4l-2.4 2.5l-5 1.6M261.7 1318.9l-5 0.7l-2.4 -0.8l-2.2 -2l-1.5 -3l-0.7 -3l-0.2 -3l0.8 -3l2.9 -3l11.2 -6.9l7.7 -6.1l3.4 -1l1.4 1l0.6 3l-1.1 6.4l-1.9 5.6l-2.3 4l-4.8 6.3l-3 3l-3 1.8M220.7 1298.7l-7 1l-6 -1l-17 -7.8l-11.5 -6.1l-5.1 -5l-3.2 -6l-0.7 -6l0.5 -3l0.9 -2l3.2 -3l4.8 -2.8l5 -1.8l4 -0.4l5 0.6l8 2.2l10 3.5l4.8 2.6l12.3 11l2.2 4l1.1 5l0 7l-1.5 4.1l-3 2.2l-7 1.7M260.7 1315.1l-3 0l-2 -1.5l-1 -2.9l0.9 -4l2.1 -2.5l4 -2.7l6 -3l3 -0.2l0.8 1.4l-0 2l-1.7 4.3l-5 6.4l-4 2.6M214.7 1295.8l-3 0l-3.8 -1.1l-8.2 -4.4l-12 -4.8l-6.3 -3.8l-3.4 -4l-1.8 -5l0.4 -5l2.2 -4.3l4 -2.9l5 -0.8l9 2.9l12 2.3l5 2.4l10.4 8.5l2.5 3l1.1 3l0 4l-1 2.8l-1.5 2.2l-2.5 2l-4 2l-4 1.1M215.7 1290.8l-3 0.3l-3 -0.7l-12 -8l-7 -1.1l-4 -1.6l-2.4 -2.2l-1 -2l-0.3 -2l0.7 -2.4l2 -1.7l2 -0.2l9 2.9l9 -2.2l3 0.3l3 1.4l9.2 6.9l1.6 2l0.6 2l-0.4 2.7l-1.5 2.3l-2.5 1.9l-3 1.2" fill="none" stroke="#2a2a2a" stroke-width="0.75"/>
<path d="M206.7 1338.7h1M171.7 1222.7h1M233.7 1365.7h1M114.7 1300.7h1M229.7 1404.7h1M249.7 1414.7h1M242.7 1218.7h1M115.7 1242.7h1M181.7 1338.7h1M136.7 1320.7h1M219.7 1381.7h1M291.7 1419.7h1M232.7 1212.7h1M153.7 1325.7h1M132.7 1243.7h1M127.7 1314.7h1M191.7 1362.7h1M166.7 1316.7h1M104.7 1249.7h1M119.7 1243.7h1M145.7 1349.7h1M213.7 1224.7h1M123.7 1251.7h1M240.7 1224.7h1M226.7 1356.7h1M303.7 1251.7h1M162.7 1224.7h1M116.7 1304.7h1M183.7 1351.7h1M135.7 1308.7h1M107.7 1257.7h1M210.7 1338.7h1M300.7 1339.7h1M313.7 1309.7h1M250.7 1225.7h1M290.7 1432.7h1M291.7 1430.7h1M168.7 1340.7h1M185.7 1208.7h1M198.7 1349.7h1M170.7 1383.7h1M306.7 1348.7h1M249.7 1235.7h1M213.7 1345.7h1M304.7 1337.7h1M243.7 1416.7h1M220.7 1344.7h1M185.7 1353.7h1M94.7 1285.7h1M242.7 1241.7h1M314.7 1377.7h1M102.7 1206.7h1M139.7 1305.7h1M164.7 1344.7h1M114.7 1313.7h1M319.7 1294.7h1M299.7 1265.7h1M198.7 1376.7h1M110.7 1310.7h1M328.7 1332.7h1M336.7 1298.7h1M129.7 1232.7h1M127.7 1292.7h1M110.7 1288.7h1M296.7 1410.7h1M244.7 1415.7h1M130.7 1214.7h1M107.7 1318.7h1M291.7 1421.7h1M120.7 1264.7h1M308.7 1314.7h1M132.7 1313.7h1M128.7 1299.7h1M315.7 1319.7h1M202.7 1335.7h1M204.7 1337.7h1M302.7 1355.7h1M169.7 1324.7h1M296.7 1262.7h1M102.7 1212.7h1M160.7 1332.7h1M229.7 1373.7h1M249.7 1231.7h1M281.7 1250.7h1M335.7 1298.7h1M109.7 1239.7h1M124.7 1330.7h1M149.7 1322.7h1M214.7 1393.7h1M241.7 1237.7h1M247.7 1229.7h1M259.7 1248.7h1M223.7 1373.7h1M229.7 1345.7h1M123.7 1261.7h1M248.7 1398.7h1M245.7 1419.7h1M121.7 1243.7h1M146.7 1370.7h1M186.7 1344.7h1M117.7 1275.7h1M206.7 1209.7h1M102.7 1342.7h1M248.7 1354.7h1M239.7 1347.7h1M305.7 1356.7h1M138.7 1296.7h1M159.7 1357.7h1M123.7 1259.7h1M164.7 1323.7h1M309.7 1324.7h1M232.7 1408.7h1M327.7 1317.7h1M302.7 1275.7h1M109.7 1281.7h1M309.7 1370.7h1M140.7 1218.7h1M143.7 1231.7h1M190.7 1329.7h1M173.7 1378.7h1M149.7 1226.7h1M129.7 1196.7h1M125.7 1228.7h1M95.7 1342.7h1M312.7 1294.7h1M116.7 1262.7h1M190.7 1367.7h1M159.7 1361.7h1M302.7 1338.7h1M114.7 1269.7h1M125.7 1264.7h1M175.7 1327.7h1M85.7 1221.7h1M165.7 1322.7h1M322.7 1326.7h1M216.7 1221.7h1M128.7 1340.7h1M292.7 1258.7h1M298.7 1392.7h1M125.7 1337.7h1M152.7 1362.7h1M176.7 1224.7h1M304.7 1263.7h1M272.7 1257.7h1M144.7 1352.7h1M305.7 1348.7h1M184.7 1218.7h1M127.7 1219.7h1M106.7 1250.7h1M241.7 1347.7h1M85.7 1283.7h1M158.7 1370.7h1M129.7 1293.7h1M262.7 1254.7h1M220.7 1358.7h1M299.7 1274.7h1M296.7 1260.7h1M318.7 1335.7h1M293.7 1261.7h1M318.7 1343.7h1" stroke="#333" stroke-width="1"/>
<path d="M83.7 1264.6L146.9 1193.8L247.3 1187.1L314.5 1220.5L176.3 1372.0L83.7 1317.0Z" fill="none" stroke="#000" stroke-width="2.6" stroke-linejoin="miter"/>
<path d="M314.5 1220.5L332.0 1244.3L334.9 1257.4L212.5 1394.5L176.3 1372.0Z" fill="none" stroke="#000" stroke-width="2.6" stroke-linejoin="miter"/>
<path d="M334.9 1257.4L332.5 1373.1L318.1 1431.6L244.9 1427.4L212.5 1394.5Z" fill="none" stroke="#000" stroke-width="2.6" stroke-linejoin="miter"/>
<text x="209.2" y="1181.3" font-size="19" text-anchor="middle" stroke="#fff" stroke-width="3" paint-order="stroke" stroke-opacity="0.85">d/d</text>
<text x="209.2" y="1198.8" font-size="19" text-anchor="middle" stroke="#fff" stroke-width="3" paint-order="stroke" stroke-opacity="0.85">61.3</text>
<text x="354.5" y="1181.3" font-size="19" text-anchor="end" stroke="#fff" stroke-width="3" paint-order="stroke" stroke-opacity="0.85">b/d</text>
<text x="354.5" y="1198.8" font-size="19" text-anchor="end" stroke="#fff" stroke-width="3" paint-order="stroke" stroke-opacity="0.85">23.0</text>
<text x="356.0" y="1325.5" font-size="19" text-anchor="end" stroke="#fff" stroke-width="3" paint-order="stroke" stroke-opacity="0.85">b/b</text>
<text x="356.0" y="1343.0" font-size="19" text-anchor="end" stroke="#fff" stroke-width="3" paint-order="stroke" stroke-opacity="0.85">14.3</text>
<path d="M83.7 1190.0h-3.5M83.7 1205.0h-3.5M83.7 1222.0h-3.5M83.7 1244.0h-3.5M83.7 1272.0h-3.5M83.7 1310.0h-3.5M83.7 1328.0h-3.5M83.7 1348.0h-3.5M83.7 1376.0h-3.5M83.7 1400.0h-3.5M83.7 1420.0h-3.5" stroke="#222" stroke-width="1.2"/>
<path d="M83.7 1176.7h-7.5M83.7 1362.2h-7.5" stroke="#000" stroke-width="2.4"/>
<text x="74.0" y="1188.7" font-size="21.5" text-anchor="end">10<tspan font-size="15.7" dx="1.5" dy="-12.5">1</tspan></text>
<text x="74.0" y="1373.7" font-size="21.5" text-anchor="end">10<tspan font-size="15.7" dx="1.5" dy="-12.5">0</tspan></text>
<text transform="translate(37 1299.7) rotate(-90)" font-size="22" text-anchor="middle">I-Ad</text>
<path d="M198.8 1438v3.5M228.6 1438v3.5M252.0 1438v3.5M270.6 1438v3.5" stroke="#222" stroke-width="1.2"/>
<path d="M156.1 1438v7.5" stroke="#000" stroke-width="2.4"/>
<text x="162.0" y="1465.0" font-size="21.5" text-anchor="middle">10<tspan font-size="15.7" dx="1.5" dy="-12.5">0</tspan></text>
<text x="220.9" y="1486.6" font-size="22" text-anchor="middle">I-Ab</text>
<text x="8.6" y="1512.0" font-size="51">H</text>
<rect x="86.3" y="1511.3" width="265.7" height="266.0" fill="none" stroke="#8a8a8a" stroke-width="1.1"/>
<path d="M264.3 1660.5l-9 -0.1l-14 -4.4l-12 -8.3l-22 -9.8l-18.3 -14.6l-4.2 -6l-2.7 -11l0.5 -11l3.1 -6l6.7 -5.8l6 -3.7l7 -2.4l6 -0.5l9 1.1l8 2.4l10 4.8l6.9 5.2l8.1 7.9l4.3 6.1l2.7 6l2.9 11l10.6 21l0.4 4l-1.1 4l-8.9 10.2M277.3 1758.4l-4 0.6l-5 -1l-5 -2.4l-4 -3.3l-3.7 -7l-1.3 -11l5.5 -40l0.6 -11l3.4 -14l3.5 -6.3l12 -3.9l3 1l3 2.9l7 14.3l1.3 5l0.8 10l3 13l-7 40l-5.1 6.9l-8 6.2M234.3 1624.8l-15 -2.3l-6.1 -3.2l-3 -4l-1.7 -7l-4.6 -5l-0.2 -2l1.1 -2l4.5 -2.5l5.3 0.5l3.4 2l6.3 6.3l8 3.9l2.3 4.8l0.9 9l-1.2 1.5" fill="#333" fill-rule="evenodd" opacity="0.72"/>
<path d="M248.8 1776.3l-5.7 -7l-4.5 -8l-1.9 -6l-1.9 -12l-0.3 -6l0.4 -6l5.8 -37l-0.3 -7l-1.6 -5l-2.6 -3.3l-4.3 -2.7l-16.7 -5.6l-20 -8.8l-6 -3.9l-12 -9.8l-4.9 -4.8l-4.4 -6l-8.3 -15l-3.1 -9l-1.3 -8l0.6 -9l2.1 -9l4.1 -9l11.1 -12l4.3 -3.7l10 -6.2l8 -2.9l6 -1l11 -0.6l10 0.7l14 3.4l8 3.1l8 3.9l11 7.2l7.6 7.1l4.3 5l6.2 9.3l7.1 8.7l3.4 6l10.2 25l3 10l4.2 11l3.8 17l2.3 27l-0.2 24l-5.6 29l-1.8 6l-4 9l-3.7 7l-3.5 5M250.7 1776.3l-6.1 -7l-4.7 -8l-2 -6l-2 -12l-0.3 -6l0.4 -6l5.8 -37l-0.3 -8l-1.6 -5l-2.6 -3.3l-4.3 -2.7l-16.7 -5.7l-20 -8.8l-6 -3.9l-11 -9l-5.8 -5.6l-5 -7l-7.3 -13l-3.1 -9l-1.4 -8l0.4 -8l2.5 -10l3.8 -8l3.3 -4l11.6 -11.4l10 -6.3l7 -2.6l6 -1.1l10 -0.7l10 0.5l15 3.6l15 6.6l10 6.5l7.5 6.8l5.1 6l6.4 9.2l6.2 7.8l3.5 6l10.5 25l3.2 10l4.3 11l4.1 17l2.4 27l-0.2 24l-6 30l-2.1 6l-5.3 11l-5.9 9M252.8 1776.3l-5.9 -6l-5.7 -9l-2.4 -7l-1.9 -11l-0.4 -6l0.4 -6l6 -38l-0.3 -8l-1.7 -5l-2.6 -3.2l-4.3 -2.8l-15.7 -5.5l-11 -5.2l-8 -3.1l-5 -2.7l-4 -2.9l-11.6 -9.6l-5.5 -6l-9.4 -15l-1.9 -4l-1.9 -6l-1.5 -8l0.2 -8l2.1 -9l3.6 -8l3.8 -5l11.1 -11l8.1 -5.4l8 -3.3l6 -1.2l8 -0.7l11 0.2l16 3.8l14 6.2l9 5.8l8 7.2l17.4 22.2l3.5 6l10.7 25l7.9 22l4.1 16l2.5 28l-0.2 23l-6.2 30l-2.3 6l-5.9 12l-5.6 8M255.3 1776.3l-6.7 -6l-5.4 -8l-2.8 -7l-2.3 -12l-0.4 -6l0.4 -6l6 -38l-0.2 -8l-1.9 -6l-2.7 -3.2l-4.2 -2.8l-15.8 -5.7l-10.7 -5.3l-9.3 -3.6l-8 -5.1l-11.3 -9.3l-5.7 -6.2l-9.6 -14.8l-3.1 -8l-1.7 -9l0 -7l2 -9l3.7 -8l3.8 -5l10.9 -10.9l9 -5.7l7 -2.6l6 -1.2l10 -0.9l9 0.6l16 4.1l9 3.9l7 3.8l7 5.2l4.9 4.7l16.8 21l3.8 6l7.1 16l11.8 30l4.7 17l2.8 27l0.2 20l-1 9l-6 27l-8.8 18l-5.4 7M258.3 1776.3l-7 -5l-5.6 -7l-3.8 -8l-2.5 -11l-0.7 -7l0.2 -6l2.7 -19l2.5 -12.5l1 -9.4l-0.2 -7.2l-2 -6l-2.8 -3.3l-4.2 -2.7l-16.8 -6.3l-9 -4.8l-11 -4.5l-6 -3.9l-11 -8.8l-6 -6.1l-8.2 -11.5l-4.3 -9l-2 -10l-0.2 -7l1.5 -8l3.4 -8l4.2 -6l10.6 -10.7l7 -4.6l8 -3.2l6 -1.3l9 -1l9 0.5l16 4l9 3.8l7 3.8l6.3 4.8l5.3 5l16.2 20l3.8 6l8.1 18l11.2 28l5 17l3 27l0.2 20l-1.4 11l-6.1 26l-8.8 17l-5.9 7M262 1776.3l-7.7 -4.4l-6.3 -6.6l-4.3 -8l-2.8 -11l-0.9 -7l0.2 -7l2.6 -18l2.6 -13l1.1 -11l-0.2 -7l-2 -6l-2.5 -3l-4.5 -3l-16.9 -6.6l-10 -5.4l-9 -3.6l-5.5 -3.4l-11.5 -9.1l-7 -6.9l-7.5 -10l-4.1 -8l-1.8 -9l-0.5 -9l1.2 -7l3.2 -8l4.1 -6l9.7 -10l6.6 -4.5l7 -2.9l6 -1.5l9 -1.2l9 0.3l18 4.5l7 2.9l7 3.8l10.3 8.6l15.9 19l4.4 7l8.6 19l7 18l4.5 10l4.9 16l3.3 28l0.1 19l-1.4 11l-6.2 26l-9.2 17l-3.3 4.1l-3.4 2.9M266.3 1776.3l-10 -4.9l-6 -5.4l-4.7 -7.7l-3 -10l-1.2 -8l0.1 -8l2.4 -17l2.5 -13l1.4 -13l-0.4 -8l-1.9 -5l-2.5 -3l-4.5 -3l-16.1 -6.5l-10.3 -5.5l-9.7 -4.2l-4.5 -2.8l-12.5 -9.9l-8 -7.7l-6.4 -8.4l-3.6 -7l-1.5 -7l-0.7 -11l1 -6l2.6 -7l4.4 -7l8.6 -9l5.6 -4.1l7 -3.1l7 -1.9l8 -1.2l5 -0.3l5 0.6l14 3.3l6 1.9l9 4.2l6 4.2l7.7 7.4l11.9 14l4.2 6l10.6 23l7.1 18l4.5 9l5.2 16l2 14l1.8 17l-0.1 16l-0.5 6l-5.8 27l-1.8 5l-9.8 16.7l-4 4l-4 2.3M279.3 1775.3l-6 0.3l-5 -0.6l-4 -1.4l-7 -3.6l-4 -3l-3 -3.3l-2.7 -4.4l-2 -5l-2.4 -10l-0.6 -8l0.6 -7l4.3 -26l1.6 -14l-0.4 -9l-2.3 -5.8l-3 -3l-3.6 -2.2l-17.4 -7.3l-22 -11.3l-13 -10.3l-9 -8.1l-4.9 -6l-4 -7l-1.6 -6l-0.9 -12l0.7 -6l1.9 -6l3.2 -6l5.6 -6.5l7 -6.5l6 -3.4l7 -2.3l7 -1.5l7 -0.8l5 0.3l21 5.2l9 4.2l6 4.2l7.4 7.2l11.9 14l3.4 5l5.4 13l8.6 18l3.6 10l5.4 10l5.3 16l3.7 27l0.2 18l-0.7 8l-4 16.8l-1.7 9.2l-2.4 6l-6.5 11l-3.5 4.7l-5 3.9l-5 1.4M279.3 1773.4l-6 0.4l-5 -0.6l-4 -1.5l-7 -3.7l-3.5 -2.7l-2.6 -3l-2.4 -4l-2 -5l-2.2 -9l-0.7 -8l0.7 -8l5.7 -39l-0.2 -9l-1 -4l-1.6 -3l-2.3 -2.4l-4.2 -2.6l-17.8 -7.8l-21 -10.8l-23 -18.8l-4.7 -5.6l-3.5 -6l-1.6 -6l-0.8 -11l0.5 -6l1.7 -6l3 -6l4.1 -5l7.3 -7l6 -3.6l6 -2l9 -2l6 -0.6l5 0.4l21 5.2l8 3.7l6 4.1l7.1 6.8l11.8 14l2.7 4l5.8 15l8.5 17l3.4 10l6.4 11l4.9 15l3.9 27l0.1 16l-0.8 9l-3.8 15.3l-1.7 9.7l-2.2 6l-6.8 11l-3.4 4.4l-4 3.1l-5 1.6M278.3 1771.4l-6 0.3l-4 -0.6l-5 -2l-6 -3.3l-3 -2.4l-2.6 -3.2l-2.2 -4l-1.8 -5l-2 -9l-0.3 -8l5.7 -40l0.7 -9l-0.5 -7.9l-2.1 -5.1l-2.9 -2.9l-3.6 -2.1l-18.4 -8.3l-21 -10.8l-23.3 -18.8l-4.1 -5l-3.3 -6l-1.4 -6l-0.6 -10l0.4 -6l1.6 -6l2.5 -5l3.2 -4.1l8 -7.7l5 -3l6 -2.1l8 -1.8l6 -0.7l5 0.3l22 5.4l8 3.8l6 4.2l6 6l13.2 16.6l2.3 5l4.3 13l8.2 15l3.1 10l7.5 12l2.9 8l1.8 7l3.9 26l-0 14l-0.9 10l-3.7 15l-1.9 11l-2 5l-6.6 10l-3.2 3.8l-4 2.9l-5 1.4M278.3 1769.3l-5 0.5l-4 -0.4l-5 -1.8l-6 -3.2l-3 -2.3l-2.9 -3.7l-3.7 -9l-1.5 -8l-0.1 -8l5.5 -39l0.7 -10l-0.4 -8l-1.8 -5l-1.8 -2.1l-3 -2l-22 -10.4l-20 -10.3l-23 -18.3l-3.3 -3.9l-3.4 -6l-1.6 -6l-0.6 -10l0.4 -6l1.5 -6l2.7 -5l3.3 -3.9l7 -6.5l5 -3l7 -2.3l7 -1.5l5 -0.4l5 0.4l9 1.8l13 3.7l7 3.3l6 4.1l6 6.1l12.1 16l2.1 5l2.4 9l2 5l8 13l3.9 12l5.5 7.2l2.6 4.8l2.8 8l2.3 9l3.4 23l-0.1 12l-1.2 12l-3.5 14l-1.5 10l-1.9 5l-5.8 8.5l-4 4.6l-4 2.7l-4 1.2M277.3 1767.3l-5 0.3l-4 -0.8l-10 -5l-2.9 -2.6l-2.2 -3l-3.5 -9l-1.2 -7l-0 -7l5.5 -40l0.7 -12l-0.5 -7.9l-1.8 -4.1l-3.8 -3l-12.4 -5.6l-31 -15.8l-22.5 -17.6l-3.4 -4l-2.7 -5l-1.7 -6l-0.7 -8l0.2 -7l1.3 -6l1.9 -4l3.6 -4.5l7 -6.3l5 -2.9l7 -2.3l7 -1.4l5 -0.2l7 0.9l9 2.2l10 3.3l7 3.4l6 4.3l6 6.5l10 14l1.7 4l2.5 10l1.8 4.5l8.6 13.5l3.9 12l6.3 8l2.2 4l5.3 17l1.5 13l1.9 9l0.1 9l-1.4 14l-3.5 14l-1.4 10l-1.8 5l-3.7 5.5l-6 6.9l-4 2.5l-4 1.1M275.3 1765.4l-4 -0.1l-3 -0.7l-6 -2.7l-4 -2.6l-2.8 -2.9l-1.9 -3l-2.7 -8l-0.8 -6l0.1 -7l5.3 -39l0.9 -14l-0.2 -7l-1.4 -4l-3.6 -3l-13.1 -5.5l-19.2 -10.5l-13.8 -6.6l-21 -16.5l-3 -3.5l-2.3 -4.4l-1.8 -6l-0.8 -7l0.1 -8l1.2 -6l2.1 -4l3.5 -3.9l6 -5.2l5 -2.9l7 -2.4l6 -1.2l5 -0.1l8 1.1l8 2.1l9 3.3l8 4l5 3.7l6 6.5l8.2 11.9l2.2 5l2.1 9l1.5 4l3 5.4l6.4 9.6l3.9 12l6.6 8l2.2 4l5.6 17l1.2 12l2.3 10l0.1 8l-1.8 15l-3 12l-1.6 11l-2 5l-3.9 5.2l-5 5.3l-4 2.4l-5 1.2M278.3 1762.4l-4 0.7l-4 -0.4l-9 -4.1l-3 -2.4l-2.4 -2.9l-2 -4l-1.2 -4l-0.9 -7l0.2 -7l3.2 -26l2.1 -12l1.4 -18l-0.1 -6l-1.2 -2.8l-4 -2.7l-14 -5.4l-13 -7.9l-20 -9.5l-20.1 -15.7l-2.7 -3l-1.7 -3l-2.1 -6l-1.2 -7l-0 -8l1.1 -6l1.7 -3.5l3 -3.5l7 -5.7l5 -2.7l6 -2.1l6 -1.1l5 0.1l8 1.2l7 2l10 4.2l6 3.3l5 3.9l6.4 7.1l6 9l2.7 6l2.8 11l4 7.6l6.5 10.4l3.1 11l2.1 3l4.9 5l2.4 4l6 17l1 11l2.7 11l-0.1 8l-2 14l-2.6 10.5l-1.4 10.5l-1.2 4l-2.5 4l-5.5 6l-3.5 2.8l-3 1.3M275.3 1760.5l-3 0l-4 -1l-4 -1.8l-4 -2.7l-2.5 -2.7l-1.8 -3l-2.2 -8l-0.4 -6l0.4 -7l3 -23l2 -11l0.5 -10l2.5 -16l-0.5 -3.4l-3 -2.1l-17 -5.6l-13 -8.5l-21 -9.5l-19 -14.9l-2.8 -3l-1.7 -3l-2 -6l-1 -6l-0.1 -7l1 -6l1.6 -3.3l3.4 -3.7l6.3 -5l5.3 -2.9l6 -2l5 -0.7l7 0.4l8 1.6l8 3l8 4.1l4.9 3.5l6.1 5.7l5 5.9l3.8 6.4l2 5l2.5 10l10.4 19l1.1 4l0.8 9l1.4 1.5l5.5 3.5l2.5 2.6l7 15.4l1.4 5l0.7 10l2.5 9l0.4 5l-2.7 18l-2.5 11l-1.3 10l-2.2 5l-6.5 7l-4 2.9l-4 1.2M259.3 1659.3l-7 -0.6l-11 -3.7l-11 -8.1l-18 -7.5l-5 -2.7l-18 -14.6l-2.3 -2.8l-1.8 -4l-1.6 -6l-0.6 -5l0.8 -9l1.2 -3l2.3 -3l7.2 -6l6.8 -3.6l7 -1.7l7 0.2l9 1.8l11 4.7l5.6 3.7l9.4 8.5l4.1 4.5l3 5l2 5l2.6 10l9.1 18l1.3 4l-0.3 4l-2.3 4l-6.5 6.6l-4 1.5M275.3 1757.5l-4 0l-5 -1.6l-4 -2.4l-3 -3l-1.8 -3.2l-1.3 -4l-0.8 -5l-0.1 -6l3.3 -26l2.1 -11l0.5 -11l3.1 -11.3l2 -4.1l2 -2.1l9 -3.7l3 -0.4l2 0.8l2 2.1l7.2 12.7l1.1 4l0.7 10l2.7 9l0.4 4l-7.1 39.5l-2.1 3.5l-5.9 6l-3 2.2l-3 1.1M258.3 1656.3l-6 0l-9.4 -3l-10.6 -8.3l-17 -6.8l-7 -3.6l-17 -14.2l-2 -2.5l-1.7 -3.6l-1.4 -5l-0.6 -5l0.9 -8l1.4 -3l2.4 -3l7.1 -5.8l6 -2.9l6 -1.2l9 0.7l7.8 2.2l8.7 4l4.2 3l11.2 10l2.6 3l2.2 4l3.6 13l5.4 10l4.6 12l0.1 3l-1.7 4l-4.5 4.9l-4 2.1M274.3 1754.5l-3 0.1l-4 -1.1l-3.6 -2.2l-2.4 -2.4l-2 -3.5l-1.3 -4.1l-0.7 -5l-0 -5l3.4 -24l2.1 -11l0.3 -10l1.2 -5l2 -4.2l3 -3.8l4 -2l5 -0.6l3 0.7l2 1.2l3 2.9l2.5 3.8l1.2 4l0.8 10l2.6 8l0.5 4l-4.4 21l-2.5 16l-2.3 4l-4.5 4.7l-3 2.3l-3 1.1M257.3 1653.5l-5 0.3l-6 -1.6l-4 -2.3l-7.3 -6.5l-11.7 -4.4l-12 -5.5l-5 -3.5l-12.9 -11.6l-2.1 -2.6l-1.6 -3.4l-1.1 -4l-0.5 -5l0.4 -4l1 -3l3.6 -5l5.3 -4.4l6 -2.9l6 -0.9l7 0.7l7 2l8 3.6l4 2.7l11 9.2l2.6 2.9l1.7 3l2.7 12l6.9 11.8l3.4 10.2l0.1 4l-1.2 3l-2.6 3l-3.7 2.2M272.3 1751.4l-3 -0.4l-3 -1.5l-3.8 -4.2l-2.5 -7l-0.4 -8l5.5 -32l0.4 -10l0.7 -3.8l2 -3.5l3 -2.6l3 -1.4l4 -0.5l3 0.7l1.8 1.1l3 4l0.7 3l0.5 8l3.2 9l0.4 4l-4.4 18l-1.5 12l-1.3 5l-2.4 4l-3 3.3l-3 2l-3 0.7M255.3 1650.5l-4 0.1l-4 -1.2l-3 -1.9l-7 -6.3l-12 -4.5l-13 -6l-5 -3.5l-10.6 -9.8l-3.9 -5l-2 -7l0 -4l0.7 -3l3.2 -5l4.5 -3.8l5 -2.5l5 -0.8l6 0.6l6 1.7l7 3.4l11 7.1l5.4 4.3l3.4 5l1.1 8l1.3 4l7.4 11l3.1 9l0.3 4l-0.9 2.6l-2 2.2l-3 1.4M273.3 1747.4l-2 0.1l-2 -0.6l-2 -1.4l-1.7 -2.2l-2.5 -6l-0.6 -6l3.2 -14l3.8 -29l0.9 -2l1.9 -2l2 -1.1l3 -0.5l2 0.7l1.5 1.9l1.4 8l4.2 8l1.1 5l-0.9 5l-4.4 13l-0.8 10l-1.1 5l-3.1 5.5l-2 1.8l-2 0.9M252.3 1646.4l-4.1 -1.1l-7.9 -6.6l-10 -3.4l-15 -6.5l-4 -2.3l-3.9 -3.2l-9.8 -10l-2.9 -5l-0.8 -4l0.1 -3l1 -3l2.3 -3.3l4 -3.3l4 -1.8l4 -0.6l5 0.6l7 2.6l8.2 5.7l7.8 4l3 2.2l2.8 3.8l2 9l2.2 5.4l2 3.7l5 7.1l1.9 4.8l0.5 3l-0.6 3l-1.7 1.6l-2 0.5M276.3 1717.7l-2 -0.2l-1 -1.7l-1 -7.5l1 -6.4l1 -1.8l2 -1l2 0.7l3 2.6l1.2 2l0.5 3l-0.5 3l-1.4 3l-1.8 2.3l-3 2.1M272.3 1740.3l-1.9 -1l-1.1 -1.6l-1 -2.4l-0.4 -3l1.4 -4.3l2 -2l1 -0.3l2 1.7l1 2.6l0.4 3.2l-1 5l-1.4 1.7l-1 0.3M241.3 1632.5l-5 -0.1l-4 -1.1l-7 -3.3l-9 -3.1l-5.8 -3.7l-10.1 -12l-1.7 -3l-0.5 -2l0.1 -3l2 -3.7l2.6 -2.3l3.4 -1.6l4 -0.5l4 0.6l5 2.2l7.6 6.2l6.4 3.1l2.8 1.9l2 3l1.9 7l3.4 9l0.3 4l-0.4 1.1l-2 1.1" fill="none" stroke="#2a2a2a" stroke-width="0.75"/>
<path d="M309.3 1719.3h1M151.3 1620.3h1M299.3 1640.3h1M227.3 1559.3h1M320.3 1711.3h1M324.3 1677.3h1M311.3 1653.3h1M164.3 1641.3h1M230.3 1763.3h1M240.3 1758.3h1M209.3 1731.3h1M299.3 1633.3h1M248.3 1766.3h1M199.3 1555.3h1M205.3 1672.3h1M304.3 1662.3h1M201.3 1674.3h1M134.3 1699.3h1M211.3 1687.3h1M304.3 1771.3h1M278.3 1573.3h1M150.3 1602.3h1M189.3 1708.3h1M316.3 1731.3h1M185.3 1754.3h1M190.3 1653.3h1M305.3 1611.3h1M217.3 1715.3h1M282.3 1584.3h1M182.3 1569.3h1M188.3 1684.3h1M311.3 1705.3h1M157.3 1573.3h1M163.3 1601.3h1M145.3 1574.3h1M145.3 1718.3h1M262.3 1578.3h1M322.3 1654.3h1M276.3 1600.3h1M316.3 1645.3h1M164.3 1697.3h1M220.3 1735.3h1M183.3 1569.3h1M160.3 1604.3h1M283.3 1588.3h1M201.3 1667.3h1M172.3 1632.3h1M158.3 1737.3h1M181.3 1692.3h1M240.3 1760.3h1M177.3 1568.3h1M152.3 1612.3h1M292.3 1772.3h1M179.3 1560.3h1M259.3 1569.3h1M330.3 1677.3h1M339.3 1651.3h1M247.3 1766.3h1M322.3 1706.3h1M161.3 1649.3h1M197.3 1759.3h1M240.3 1702.3h1M224.3 1682.3h1M303.3 1634.3h1M292.3 1602.3h1M304.3 1637.3h1M166.3 1657.3h1M201.3 1679.3h1M327.3 1624.3h1M298.3 1601.3h1M192.3 1684.3h1M185.3 1746.3h1M202.3 1558.3h1M149.3 1637.3h1M315.3 1730.3h1M196.3 1727.3h1M150.3 1681.3h1M167.3 1656.3h1M252.3 1554.3h1M195.3 1733.3h1M217.3 1688.3h1M273.3 1578.3h1M220.3 1756.3h1M321.3 1720.3h1M338.3 1684.3h1M161.3 1587.3h1M194.3 1735.3h1M312.3 1715.3h1M303.3 1653.3h1M141.3 1659.3h1M141.3 1592.3h1M307.3 1743.3h1M170.3 1734.3h1M325.3 1745.3h1M275.3 1586.3h1M208.3 1770.3h1M148.3 1657.3h1M220.3 1685.3h1M175.3 1681.3h1M169.3 1622.3h1M202.3 1549.3h1M219.3 1717.3h1M257.3 1772.3h1M287.3 1598.3h1M184.3 1681.3h1M239.3 1695.3h1M233.3 1733.3h1M300.3 1647.3h1M166.3 1674.3h1M223.3 1556.3h1M205.3 1741.3h1M155.3 1724.3h1M345.3 1694.3h1M218.3 1674.3h1M175.3 1703.3h1M315.3 1711.3h1M303.3 1653.3h1M169.3 1567.3h1M318.3 1753.3h1M153.3 1678.3h1M214.3 1679.3h1M151.3 1696.3h1M234.3 1562.3h1M256.3 1772.3h1M235.3 1562.3h1M176.3 1668.3h1M298.3 1640.3h1M152.3 1605.3h1M188.3 1761.3h1M217.3 1758.3h1M277.3 1562.3h1M339.3 1730.3h1M129.3 1671.3h1M188.3 1670.3h1M250.3 1773.3h1M317.3 1734.3h1M323.3 1764.3h1M287.3 1600.3h1M176.3 1665.3h1M223.3 1554.3h1M317.3 1617.3h1M136.3 1636.3h1M181.3 1659.3h1M316.3 1685.3h1M227.3 1771.3h1M308.3 1726.3h1M300.3 1628.3h1M168.3 1548.3h1M174.3 1565.3h1M326.3 1745.3h1" stroke="#333" stroke-width="1"/>
<path d="M86.3 1609.2L147.6 1540.5L245.0 1534.0L310.2 1566.4L176.1 1713.3L86.3 1660.0Z" fill="none" stroke="#000" stroke-width="2.6" stroke-linejoin="miter"/>
<path d="M310.2 1566.4L327.1 1589.5L329.9 1602.2L211.2 1735.2L176.1 1713.3Z" fill="none" stroke="#000" stroke-width="2.6" stroke-linejoin="miter"/>
<path d="M329.9 1602.2L327.6 1714.4L313.7 1771.1L242.7 1767.1L211.2 1735.2Z" fill="none" stroke="#000" stroke-width="2.6" stroke-linejoin="miter"/>
<text x="208.0" y="1530.5" font-size="19" text-anchor="middle" stroke="#fff" stroke-width="3" paint-order="stroke" stroke-opacity="0.85">d/d</text>
<text x="208.0" y="1548.0" font-size="19" text-anchor="middle" stroke="#fff" stroke-width="3" paint-order="stroke" stroke-opacity="0.85">58.0</text>
<text x="348.5" y="1530.5" font-size="19" text-anchor="end" stroke="#fff" stroke-width="3" paint-order="stroke" stroke-opacity="0.85">b/d</text>
<text x="348.5" y="1548.0" font-size="19" text-anchor="end" stroke="#fff" stroke-width="3" paint-order="stroke" stroke-opacity="0.85">10.7</text>
<text x="350.0" y="1673.1" font-size="19" text-anchor="end" stroke="#fff" stroke-width="3" paint-order="stroke" stroke-opacity="0.85">b/b</text>
<text x="350.0" y="1690.6" font-size="19" text-anchor="end" stroke="#fff" stroke-width="3" paint-order="stroke" stroke-opacity="0.85">30.5</text>
<text x="91.7" y="1532.8999999999999" font-size="21" fill="#26246a" textLength="55.5" lengthAdjust="spacingAndGlyphs">Chim1</text>
<path d="M86.3 1649.1h-3.5M86.3 1617.4h-3.5M86.3 1594.9h-3.5M86.3 1577.5h-3.5M86.3 1563.2h-3.5M86.3 1551.2h-3.5M86.3 1540.7h-3.5M86.3 1531.5h-3.5M86.3 1720.7h-3.5M86.3 1711.5h-3.5" stroke="#222" stroke-width="1.2"/>
<path d="M86.3 1523.6h-7.5M86.3 1703.3h-7.5" stroke="#000" stroke-width="2.4"/>
<text x="76.0" y="1535.5" font-size="21.5" text-anchor="end">10<tspan font-size="15.7" dx="1.5" dy="-12.5">1</tspan></text>
<text x="76.0" y="1715.1" font-size="21.5" text-anchor="end">10<tspan font-size="15.7" dx="1.5" dy="-12.5">0</tspan></text>
<text transform="translate(37 1632.6) rotate(-90)" font-size="22" text-anchor="middle">I-Ad</text>
<path d="M208.3 1777.3v3.5M238.9 1777.3v3.5M260.6 1777.3v3.5M277.4 1777.3v3.5M291.1 1777.3v3.5M302.7 1777.3v3.5M312.8 1777.3v3.5M321.7 1777.3v3.5M117.6 1777.3v3.5M129.2 1777.3v3.5M139.3 1777.3v3.5M148.2 1777.3v3.5" stroke="#222" stroke-width="1.2"/>
<path d="M156.1 1777.3v7.5M329.6 1777.3v7.5" stroke="#000" stroke-width="2.4"/>
<text x="162.0" y="1804.6" font-size="21.5" text-anchor="middle">10<tspan font-size="15.7" dx="1.5" dy="-12.5">0</tspan></text>
<text x="334.0" y="1804.6" font-size="21.5" text-anchor="middle">10<tspan font-size="15.7" dx="1.5" dy="-12.5">1</tspan></text>
<text x="220.9" y="1827.7" font-size="22" text-anchor="middle">I-Ab</text>
<text x="10.2" y="1837.0" font-size="51">I</text>
<rect x="86.3" y="1842.3" width="265.7" height="265.8" fill="none" stroke="#8a8a8a" stroke-width="1.1"/>
<path d="M227.3 1994.4l-17 -1.1l-13 -2.3l-15 -0.8l-21 -7l-7 -3.6l-5.7 -6.3l-7.3 -11l-1.5 -4l0.9 -15l2 -6l3.1 -5l4.8 -5l5.7 -3.6l23 -5.3l34 1.3l19 6.3l8 4.3l9.9 10l7.1 10l3.4 11l-0.8 10l-3.3 8l-6.3 6.4l-7 3.5l-16 5.2M214.3 1964.3l-8 0.5l-12.4 -2.6l-5.4 -4l-1.4 -5l1.5 -2l2.7 -0.8l11 1.2l10 -1.6l5 0.7l2.9 3.5l-0 5l-1.9 3.3l-4 1.7" fill="#333" fill-rule="evenodd" opacity="0.72"/>
<path d="M264.6 2106.3l-4.3 -3.8l-4.4 -6.2l-3.2 -6l-2.3 -7l-2.4 -16l0.2 -32l-1 -4.8l-2.1 -3.2l-2.9 -1.6l-3 -0.5l-16 0.7l-26 -2.3l-29 -4.4l-15 -4.1l-19 -8.3l-7 -4.3l-14 -11.3l-10.3 -11.9l-4.3 -7l-3.8 -11l-3.4 -20l-0.4 -8l0.8 -4l1.2 -3l7.6 -13l4.5 -5.8l6 -5.3l8 -5.2l10 -5.2l11 -4.1l14 -3.8l8 -0.8l21 -0.4l26 3l10 2.1l15 4.4l26 10.8l14.1 9.4l15.9 14.7l9.4 13.3l3.2 6l3.7 12l0.8 9l-1.8 12l-4.7 13l-1.1 6l2.9 44l-0.6 27l-1.1 10l-2.1 8l-3.8 8l-4.9 6.5l-5.6 4.5M268.7 2106.3l-4.4 -2.3l-4.7 -4.7l-5 -8l-2.7 -7l-1.6 -7l-1.2 -10l0.1 -34l-1 -4.5l-2.5 -3.5l-2.5 -1.4l-3 -0.6l-17 0.8l-26 -2.1l-28 -4.3l-15 -4.1l-18 -7.9l-7 -4.1l-14.1 -11.5l-9.5 -11l-4.5 -7l-3.6 -10l-3.4 -19l-0.2 -8l2 -7l6.8 -13l4.5 -6l6.7 -6l7.4 -4.8l11 -5.5l15 -5.2l8 -2.1l7 -0.7l20 -0.6l25 2.6l9 1.7l17 5l26 10.9l13 8.6l16.3 15l11.1 17l3.4 10l1.6 9l0 6l-0.7 5l-4.7 14.1l-1.2 7.9l3.6 43l-0.6 28l-1.9 14l-1.5 5l-2.4 5.1l-3.1 4.9l-3.9 4.2l-4 3l-3.9 1.8M279.3 2104.6l-7 0.5l-4 -1l-3 -1.5l-5.2 -5.3l-3.2 -5l-2.4 -5l-2.6 -9l-1.4 -10l-0 -37l-1.4 -5l-2.7 -3.3l-3 -1.2l-3 -0.4l-16 1l-25 -1.8l-28 -4.1l-8 -1.8l-12 -3.9l-18 -8.5l-14 -10.7l-7.7 -8.2l-6.7 -9l-3.9 -9l-1.9 -7l-1.9 -11l-0.6 -8l1.4 -7l6.2 -14l4.1 -6l7.2 -7l6.8 -4.6l12 -6.2l21 -6.6l7 -0.8l20 -0.7l23 2.2l11 2.2l17 5.1l24 10l5 2.8l8 5.7l16.1 14.8l9.3 14l2.1 4l2.7 9l1.5 9l-0.2 8l-4.4 13.6l-1 8.4l0.4 7l2.2 15l1.7 21l-0.6 29l-1.9 14l-1.5 5l-2.3 5l-3.1 4.7l-4 4.2l-4 2.8l-4 1.6M279.3 2102.5l-4 0.7l-4 -0.3l-3 -0.9l-3 -1.7l-5 -5.4l-4.7 -8.6l-2.6 -9l-1.4 -10l0 -37l-1.3 -5.6l-2.5 -3.4l-2.5 -1.2l-4 -0.6l-17 1.1l-25 -1.8l-33 -5.1l-13 -4.1l-18 -8.4l-13 -9.6l-7.1 -7.3l-7.5 -10l-3.4 -7l-2.6 -9l-2.1 -16l1.5 -8l5.3 -14l4.1 -6l7.9 -8l4.9 -3.3l12 -6.4l21 -6.5l26 -1.7l21 1.8l12 2.5l17 5.1l24 10.1l5 2.9l7 5.2l15.6 14.6l11.3 18l1.9 6l1.8 10l0.2 8l-4.2 13l-0.6 7l0.7 9l3.1 19l1.6 25l-1 25l-1.4 9l-1.7 6l-2.9 6l-3.8 5l-4.6 3.8l-5 2.3M278.3 2100.5l-3 0.4l-4 -0.3l-3 -0.9l-3 -1.9l-5.4 -6.6l-3.9 -8l-2.1 -8l-1.1 -9l-0.4 -20l0.4 -18l-1.4 -6l-2.2 -3l-2.9 -1.4l-4 -0.5l-19 1.2l-24 -1.8l-11 -1.2l-21 -3.6l-14 -4.4l-16 -7.6l-12 -8.4l-7.4 -7.3l-7.3 -10l-3.5 -7l-2.6 -9l-1.7 -14l0.4 -4l2.4 -10l2.4 -7l3.8 -6l8.5 -9.1l5 -3.5l11 -6.1l20 -6.1l26 -2.2l20 1.6l10 2l17 4.8l13 4.9l12 5.3l5 2.8l6.2 4.6l15.8 15l11 17.3l1.7 4.7l1.5 8l0.8 10l-4 12.8l-0.5 6.2l1.5 11.2l3.5 17.8l1.2 12l0.6 13l-1.1 25l-1.4 9l-1.7 6l-2.4 5l-3.8 5.1l-5 4l-5 2.1M277.3 2098.4l-6 -0l-5 -2.3l-5.1 -5.8l-4.4 -9l-1.9 -8l-0.9 -8l-0.5 -19l0.8 -14l-0.2 -6l-1.2 -6l-2.6 -3.5l-3 -1.1l-4 -0.4l-18 1.2l-10 -0.4l-26 -2.4l-21 -3.6l-14 -4.2l-15 -7.3l-12 -8.1l-6.6 -6.2l-7.8 -11l-3 -6l-3 -11l-1.2 -11l2.6 -15l2.2 -6l4.9 -7l7.7 -8l14.1 -8.6l19 -5.7l26 -2.7l8 0.2l10 1l8 1.5l19 5l15 5.7l11 4.9l5 2.8l4.9 3.8l15.3 15l10.8 17l2.6 8l1.3 13l-3.5 13l-0.5 6l6.3 30l1.3 12l0.6 13l-1.1 24l-1.5 9l-1.7 6l-2.9 5.7l-3.6 4.3l-4.4 3.3l-5 1.9M274.3 2096.3l-5 -1l-4.1 -3l-4.8 -7l-3.1 -8l-1.7 -10l-0.7 -15l0.6 -29l-1.2 -6l-2 -2.7l-3 -1.3l-4 -0.3l-20 1.3l-10 -0.2l-27 -2.5l-19 -3.5l-15 -4.5l-12 -6.1l-12 -7.6l-7.5 -6.7l-6.8 -10l-3.1 -6l-3.4 -13l-0.9 -9l2.1 -13l2 -6l4.7 -7l7.7 -8.2l13 -8l18 -5.5l27 -3.2l7 0.1l8 0.9l28 6.4l26 10.7l4.8 2.8l4.2 3.3l15.4 15.7l9.8 16l2.4 7l1.1 12l-2.9 13l-0.4 8l7.4 28l1.6 13l0.5 13l-1.2 24l-1.4 8l-1.8 6l-3.3 6l-4.2 4.3l-5 2.8l-5 0.9M277.3 2093.5l-3 0.3l-3 -0.4l-3 -1.4l-2 -1.7l-4.4 -6l-3.3 -8l-1.7 -10l-0.9 -16l1 -30l-0.8 -5l-2 -3.2l-2 -1.1l-4 -0.5l-23 1.7l-10 -0.1l-28 -2.7l-17 -3.3l-13 -3.6l-6 -2.5l-17 -10.1l-6 -4.4l-3.2 -3.2l-6.6 -10l-2.9 -6l-3.4 -14l-0.6 -7l1.6 -11l2 -6l4.7 -7l7.4 -8.1l5 -3.6l7 -3.9l18 -5.7l26 -3.3l11 0.3l31 6.5l25 10.5l5 2.8l4 3.1l14.8 15.4l9 15l2.6 7l0.8 11l-2.3 13.8l-0.3 9.2l8.7 27l1.6 11l0.7 12l-1.1 25l-2.7 13l-2.3 5l-3.5 4.4l-4 3.1l-4 1.6M278.3 2090.5l-5 0.6l-3 -1l-2 -1.3l-5 -6.3l-3 -7.2l-1.8 -10l-1.1 -16l1.4 -33l-0.6 -4l-2 -3.4l-2 -1.1l-4 -0.4l-21 2.2l-12 0.4l-30 -2.8l-9 -1.6l-18 -4.5l-7 -2.6l-19 -11.8l-4.7 -3.5l-2.9 -3l-5.8 -9l-2.7 -6l-3.3 -14l-0.4 -7l1.1 -8l2.1 -6l4.1 -6l9 -10l4.6 -3.2l5 -2.6l18 -5.9l27 -3.4l9 0.3l30 5.9l24 10.3l6 3.4l4 3.1l13.4 14.1l2.8 4l5.5 10l2.7 7l0.7 9l-1.8 13l-0.6 13l0.8 3l4.6 9.9l4.3 11.1l1.9 10l0.9 10l0.1 10l-0.9 17l-2.2 12l-1.8 5l-2.5 4l-3.8 3.9l-4 2.3M278.3 2087.3l-3 0.7l-2 -0.1l-4 -2l-5 -6.4l-2.7 -7.2l-2.1 -14l-0.5 -14l2.2 -32l-0.8 -5l-1.4 -2l-2.6 -1.1l-4 -0.1l-18 2.9l-16 1l-31 -2.9l-7 -1.1l-20 -5.1l-6 -2.2l-6 -3.5l-14 -9.5l-5.8 -5.3l-5.1 -8l-2.9 -7l-2.6 -13l-0.2 -8l1 -6l2.2 -5l9.4 -12l3.9 -3.9l8 -4.6l18 -5.9l26 -3.1l7 0.2l29 5.1l22 9.5l7 3.7l5 3.6l12.9 13.5l5.6 9l3 6l1.7 5l0.6 9l-3 24l0.1 4l1.1 3l6.1 9.6l4.2 8.4l2 8l1.3 11l0.2 12l-0.8 14l-1.7 11l-1.9 6l-2.3 4l-3.1 3.4l-4 2.7M275.3 2084.4l-3 -0.7l-2 -1.3l-2.9 -3.1l-1.9 -3l-2.4 -7l-2 -12l-0.3 -20l3.2 -25l2.2 -9l-0.2 -2l-2.6 -1l-6 -0l-8 1.1l-17 3.6l-9 0.7l-8 -0.1l-35 -3.9l-22 -5.9l-8 -4l-15 -11l-4.6 -4.5l-3.3 -5l-2.5 -5l-2.8 -10l-0.8 -11l0.5 -5l1.1 -4l3.5 -6l7.6 -10l3 -3l3.3 -2.3l5 -2.3l15 -4.9l6 -1.1l24 -2.2l27 3.8l8 2.2l22 10.4l9 6.5l9.6 9.9l4.2 6l4.4 9l1.8 5l0.8 5l-0.2 6l-2.4 15l-4.1 14l-0 2l8.9 6.5l6 7.7l3 7.8l1.9 13l0.1 12l-0.7 13l-0.7 6l-1.4 6l-2.2 5.4l-2.6 3.6l-3.4 2.7l-4 1.3M226.3 2003.3l-12 -0.1l-18 -2.5l-13 -0.8l-22 -5.7l-5 -1.8l-5 -2.7l-15.4 -12.3l-4.6 -5.6l-3.7 -7.4l-2 -7l-0.6 -8l0.9 -7l1.9 -6l4 -7l5.9 -8l3.4 -3l4.3 -2.4l17 -5.4l10 -1.6l21 -1.1l22 2.7l8 2l21 9.6l6.1 4.2l6.9 5.8l5.9 6.2l3.5 5l5 11l1.7 5l0.6 5l-0.3 5l-2.2 11l-2 6l-3.8 6l-5.4 3.4l-25 6.4l-9 1.2M277.3 2079.4l-3 0.1l-2 -0.8l-2.8 -2.4l-2.1 -3l-2.8 -8l-1.9 -11l-0.2 -17l3.3 -20l2.4 -6.6l2 -1.8l2 -0.6l3 0.5l3 1.7l3 2.5l2.6 3.3l2.8 7l1.7 11l-0.3 20l-1.6 12l-3.3 8.2l-3 3.3l-3 1.6M231.3 2000.5l-6 0.7l-8 -0.2l-9 -0.9l-12 -2.1l-15 -1l-23 -6.6l-5 -2.4l-4 -2.8l-10.6 -9.9l-4.3 -5l-3.5 -7l-2 -7l-0.2 -7l2.2 -9l3.3 -8l5 -7.5l3 -3.1l4 -2.7l5 -2.2l8 -2.4l15 -3l19 -0.5l16 1.2l11 2.2l19 7.8l4 2.3l5.1 3.9l10.9 10l3.2 4l2.3 4l5.7 15l0.4 5l-1.1 7l-1.7 6l-2.3 5l-2.7 4l-3.2 3l-6.6 3.2l-22 6M278.3 2073.7l-2 0.5l-2 -0.3l-2 -1.1l-2.4 -2.6l-3 -7l-1.7 -9l-0.6 -15l0.7 -7l4 -14.8l2 -2.7l2 -0.8l2 0.2l3 1.4l4 4l2.7 6.7l1.4 8l-0.4 19l-0.9 9l-2.8 7.6l-2 2.5l-2 1.3M229.3 1998.3l-10 0.2l-11 -1.1l-12 -2.2l-14 -0.7l-23 -6.8l-4 -1.7l-4 -2.6l-4.2 -4l-9.3 -11l-2.8 -5l-1.8 -6l-0.2 -7l1.6 -8l3 -8l3.9 -6.1l6 -5.7l7 -3.5l19 -4.6l7 -0.6l22 0.3l12 1.4l7 2.1l14 5.4l5 2.4l4 2.8l12 11.3l5 6.7l5.6 15l0.4 5l-0.7 5l-1.7 6l-2 4l-3.6 4.9l-3.4 3.1l-5.6 2.8l-21 6.3M278.3 2067.5l-2 0.6l-2.4 -0.7l-2 -2l-1.6 -3l-1.7 -7l-1.2 -16l0.5 -6l2.5 -7.4l2 -3.3l3 -1.5l3 1l3 3.4l1.9 4.8l0.9 5l-1.6 25l-1.4 4l-2.8 3.2M230.3 1995.4l-8 0.6l-13 -1.3l-12 -2.2l-15 -0.8l-22 -7l-7 -3.7l-4.7 -4.8l-8.1 -11l-1.8 -3l-1.4 -4l-0.3 -6l1.2 -9l2.4 -7l3 -5l5.6 -5.6l6 -3.6l19 -4.7l5 -0.6l10 0.6l15 -0.2l9 1l20 6.8l8 4.3l11.2 11.1l6 8l4.2 12l0.5 4l-0.5 5l-1.1 5l-1.7 4l-2.8 4l-4 4l-5.8 3.3l-17 5.9M276.3 2049.3l-1 -0l-1 -1.5l-2 -5.9l-0.9 -4.7l0.4 -3l1.4 -3l1.1 -1.2l2 -0.7l1.9 0.8l1.1 1.4l1 2.6l0.3 3l-1.3 6.8l-3 5.2M229.3 1992.5l-7 0.5l-13 -1.2l-12 -2.2l-14 -0.7l-21 -7.1l-6.9 -3.5l-3.1 -2.8l-2.5 -3.2l-6.6 -11l-1.3 -4l-0.1 -5l0.9 -8l1.5 -5l2.7 -5l5.4 -6l5.1 -3.2l18 -4.7l4 -0.5l10 0.8l13 -0.4l10 0.7l17 5.3l9 4.3l4 3.3l4.3 4.5l8.7 12l1.8 4l1.4 5l-0.1 8l-0.9 5l-1.4 4l-1.9 3l-3.8 4l-6 3.7l-15 5.5M227.3 1989.4l-4 0.3l-12 -0.7l-13 -2.2l-14 -0.9l-16 -5.3l-7 -3.1l-4 -2.5l-3 -2.9l-2.4 -3.7l-3.6 -8l-1.2 -5l0.1 -6l1 -5l2.4 -6l3.1 -5l3 -3l3.7 -2.1l15 -4.3l5 -0.7l9 0.8l12 -0.6l12 0.7l15 4.5l5 2.3l4 2.6l7.4 7.7l8 13l1.8 6l-0.6 8l-2.2 7l-2.2 3l-3.2 3l-6 3.5l-13 4.5M227.3 1985.5l-16 0.3l-11 -1.8l-15 -1.6l-14 -4.1l-9.3 -4.9l-3.3 -3l-2.1 -3l-2 -5l-1.1 -5l0.4 -7l2.8 -11l1.5 -3.2l2 -2.1l3 -1.7l12 -4.2l5 -0.8l9 0.5l11 -0.7l14 0.9l11 3l8 4.3l7 7.1l5.7 9l3.4 8l0.2 7l-2.1 7l-4.2 5.3l-6 3.7l-10 3.2M228.3 1981.3l-12 0.9l-8 -0.4l-15.9 -2.6l-16.1 -3.4l-5 -1.6l-4 -2.1l-2.6 -2l-2.5 -3l-1.5 -3l-1 -4l0.2 -5l2.8 -12l1.2 -3l3 -3l5.6 -3l4.6 -1.8l4 -0.6l17 -0.7l17 1.4l6 1.2l6 2.7l5.6 5l6.7 9l3.5 8l1.1 6l-1 6l-2.9 5.1l-5 3.7l-7 2.3M224.3 1977.4l-12 0.4l-7 -0.7l-9 -1.7l-12 -3.5l-10 -1.6l-3 -1.2l-2.5 -1.8l-1.5 -2l-1.2 -4l0.6 -5l3.6 -11l2.5 -3l4.5 -3.1l5 -1.7l6 -0.8l10 -0.2l10 2l10 0.3l5 1.6l4.6 3.9l6.1 9l2.6 6l0.8 5l-0.6 5l-2.1 4l-4.5 2.8l-6 1.3M221.3 1970.5l-7 0.5l-9 -0.4l-11 -2.6l-7 -2.7l-4.6 -3.1l-3.3 -4l-1.2 -5l1.1 -4l1.4 -2l2.5 -2l3 -1.3l4 -0.7l4 0.3l10 2.2l11 -0.3l5 1.1l2.5 1.8l2.1 3l1.7 5l1 6l-0.4 3l-1 2.1l-2 1.9l-3 1.2" fill="none" stroke="#2a2a2a" stroke-width="0.75"/>
<path d="M268.3 1893.3h1M154.3 1882.3h1M148.3 1887.3h1M296.3 2054.3h1M214.3 1890.3h1M315.3 1982.3h1M253.3 2052.3h1M145.3 2018.3h1M297.3 1982.3h1M134.3 1894.3h1M271.3 2096.3h1M145.3 2052.3h1M299.3 1929.3h1M222.3 1877.3h1M221.3 2059.3h1M93.3 1936.3h1M293.3 1946.3h1M295.3 2005.3h1M250.3 2088.3h1M171.3 2087.3h1M106.3 1981.3h1M307.3 2038.3h1M276.3 1931.3h1M184.3 2068.3h1M192.3 2052.3h1M212.3 1885.3h1M290.3 2088.3h1M209.3 2025.3h1M122.3 1875.3h1M92.3 1897.3h1M184.3 2022.3h1M239.3 2095.3h1M295.3 1962.3h1M295.3 2070.3h1M297.3 1985.3h1M292.3 1992.3h1M315.3 1969.3h1M323.3 1965.3h1M264.3 1913.3h1M253.3 1886.3h1M207.3 2040.3h1M100.3 2043.3h1M249.3 2046.3h1M293.3 1990.3h1M251.3 2048.3h1M101.3 1976.3h1M152.3 1894.3h1M244.3 1907.3h1M127.3 2001.3h1M239.3 2032.3h1M218.3 2058.3h1M328.3 2009.3h1M116.3 1919.3h1M293.3 1996.3h1M265.3 1904.3h1M97.3 1975.3h1M97.3 1921.3h1M289.3 1990.3h1M295.3 1912.3h1M228.3 2088.3h1M152.3 1889.3h1M313.3 1953.3h1M104.3 1979.3h1M154.3 2030.3h1M324.3 1955.3h1M323.3 2019.3h1M119.3 2001.3h1M170.3 1864.3h1M234.3 2082.3h1M134.3 2012.3h1M134.3 1889.3h1M295.3 2083.3h1M300.3 2060.3h1M213.3 1891.3h1M295.3 1992.3h1M114.3 1914.3h1M214.3 2042.3h1M100.3 2017.3h1M324.3 1967.3h1M320.3 2029.3h1M279.3 1923.3h1M123.3 1912.3h1M309.3 1982.3h1M323.3 1995.3h1M176.3 2045.3h1M201.3 1870.3h1M87.3 1921.3h1M296.3 2066.3h1M118.3 1883.3h1M106.3 1874.3h1M126.3 2036.3h1M211.3 2018.3h1M292.3 1932.3h1M151.3 2022.3h1M203.3 2030.3h1M321.3 1984.3h1M127.3 1888.3h1M132.3 1887.3h1M235.3 1896.3h1M277.3 1921.3h1M305.3 2030.3h1M103.3 1989.3h1M252.3 2063.3h1M138.3 1998.3h1M150.3 2048.3h1M152.3 1885.3h1M321.3 2008.3h1M161.3 2037.3h1M244.3 1906.3h1M303.3 1910.3h1M167.3 1894.3h1M188.3 2039.3h1M307.3 2087.3h1M283.3 1939.3h1M307.3 1976.3h1M90.3 1992.3h1M251.3 1901.3h1M196.3 1892.3h1M240.3 2069.3h1M90.3 2023.3h1M134.3 2022.3h1M191.3 2078.3h1M302.3 2024.3h1M268.3 1896.3h1M103.3 1995.3h1M152.3 1884.3h1M96.3 1891.3h1M105.3 1948.3h1M100.3 1901.3h1M120.3 1914.3h1M338.3 2012.3h1M187.3 2057.3h1M229.3 2031.3h1M140.3 2019.3h1M246.3 1899.3h1M202.3 1886.3h1M119.3 2042.3h1M143.3 2054.3h1M131.3 2058.3h1M122.3 2061.3h1M189.3 1875.3h1M99.3 1966.3h1M331.3 2008.3h1M205.3 2036.3h1M90.3 2017.3h1M110.3 1964.3h1M119.3 1984.3h1M184.3 1891.3h1M193.3 2022.3h1M235.3 1884.3h1" stroke="#333" stroke-width="1"/>
<path d="M86.3 1940.2L147.6 1871.5L245.0 1865.0L310.2 1897.4L176.1 2044.3L86.3 1991.0Z" fill="none" stroke="#000" stroke-width="2.6" stroke-linejoin="miter"/>
<path d="M310.2 1897.4L327.1 1920.5L329.9 1933.2L211.2 2066.2L176.1 2044.3Z" fill="none" stroke="#000" stroke-width="2.6" stroke-linejoin="miter"/>
<path d="M329.9 1933.2L327.6 2045.4L313.7 2102.1L242.7 2098.1L211.2 2066.2Z" fill="none" stroke="#000" stroke-width="2.6" stroke-linejoin="miter"/>
<text x="208.0" y="1861.5" font-size="19" text-anchor="middle" stroke="#fff" stroke-width="3" paint-order="stroke" stroke-opacity="0.85">d/d</text>
<text x="208.0" y="1879.0" font-size="19" text-anchor="middle" stroke="#fff" stroke-width="3" paint-order="stroke" stroke-opacity="0.85">83.7</text>
<text x="348.5" y="1861.5" font-size="19" text-anchor="end" stroke="#fff" stroke-width="3" paint-order="stroke" stroke-opacity="0.85">b/d</text>
<text x="348.5" y="1879.0" font-size="19" text-anchor="end" stroke="#fff" stroke-width="3" paint-order="stroke" stroke-opacity="0.85">5.40</text>
<text x="350.0" y="2004.1" font-size="19" text-anchor="end" stroke="#fff" stroke-width="3" paint-order="stroke" stroke-opacity="0.85">b/b</text>
<text x="350.0" y="2021.6" font-size="19" text-anchor="end" stroke="#fff" stroke-width="3" paint-order="stroke" stroke-opacity="0.85">9.03</text>
<text x="91.7" y="1863.8999999999999" font-size="21" fill="#26246a" textLength="55.5" lengthAdjust="spacingAndGlyphs">Chim2</text>
<path d="M86.3 1980.1h-3.5M86.3 1948.4h-3.5M86.3 1925.9h-3.5M86.3 1908.5h-3.5M86.3 1894.2h-3.5M86.3 1882.2h-3.5M86.3 1871.7h-3.5M86.3 1862.5h-3.5M86.3 2051.7h-3.5M86.3 2042.5h-3.5" stroke="#222" stroke-width="1.2"/>
<path d="M86.3 1854.6h-7.5M86.3 2034.3h-7.5" stroke="#000" stroke-width="2.4"/>
<text x="76.0" y="1866.5" font-size="21.5" text-anchor="end">10<tspan font-size="15.7" dx="1.5" dy="-12.5">1</tspan></text>
<text x="76.0" y="2046.1" font-size="21.5" text-anchor="end">10<tspan font-size="15.7" dx="1.5" dy="-12.5">0</tspan></text>
<text transform="translate(37 1963.6) rotate(-90)" font-size="22" text-anchor="middle">I-Ad</text>
<path d="M208.3 2108.1v3.5M238.9 2108.1v3.5M260.6 2108.1v3.5M277.4 2108.1v3.5M291.1 2108.1v3.5M302.7 2108.1v3.5M312.8 2108.1v3.5M321.7 2108.1v3.5M117.6 2108.1v3.5M129.2 2108.1v3.5M139.3 2108.1v3.5M148.2 2108.1v3.5" stroke="#222" stroke-width="1.2"/>
<path d="M156.1 2108.1v7.5M329.6 2108.1v7.5" stroke="#000" stroke-width="2.4"/>
<text x="162.0" y="2135.4" font-size="21.5" text-anchor="middle">10<tspan font-size="15.7" dx="1.5" dy="-12.5">0</tspan></text>
<text x="334.0" y="2135.4" font-size="21.5" text-anchor="middle">10<tspan font-size="15.7" dx="1.5" dy="-12.5">1</tspan></text>
<text x="220.9" y="2158.5" font-size="22" text-anchor="middle">I-Ab</text>
<text x="10.3" y="2189.5" font-size="51">J</text>
<rect x="86.3" y="2183.2" width="265.7" height="265.3" fill="none" stroke="#8a8a8a" stroke-width="1.1"/>
<path d="M199.3 2322.2l-8 -0.6l-6 -3.6l-6.2 -8.7l-2 -9l1.8 -8l5.6 -8l7.7 -6.2l8 -1.5l9 1.6l6.9 4.2l3.8 6l1 7l-1.8 12l-3.9 7l-7.1 5.9l-9 2.1M249.3 2356.3l-12 0.9l-3.6 -0.9l-2.4 -2l-2.7 -5l-1.6 -6l0.5 -5l2 -5l9.3 -13l13.6 -15.8l7 -6.6l9 -7.4l8 -4.7l6 -2.4l5 0.3l2.1 1.5l1.6 3l-0.4 8l-19.4 46l-3.8 5l-5.1 4l-7 3.4l-6 1.6M253.3 2338.4l-4.1 -0.2l-1.4 -2l0 -3l4.4 -7.6l3 -2.3l2 -0.4l1.8 2.3l-0.8 6l-2 4.5l-3 2.7" fill="#333" fill-rule="evenodd" opacity="0.72"/>
<path d="M221.3 2386.3l-9 0.7l-6 -0.6l-11 -4.7l-11 -2.4l-6 -2.2l-6 -2.9l-4 -2.9l-11.3 -13l-2.5 -5l-6.6 -18l-2.3 -9l-1.4 -10l-0.1 -8l1.6 -16l1.5 -6l3.5 -9l4.7 -9l8.3 -10l3.6 -2.9l6 -3.7l10 -4.6l10 -2.2l17 0.3l14 -1.3l5 -1.6l11 -5.6l14 -6.2l8 -2.5l16 -1.1l4 0.2l4 1.1l3.6 2.2l2.8 3l2.4 4l3 7l1.5 2l2.8 1.7l8 3l4 3.3l2.1 4l0.9 6l-0.6 10l-2.7 13l-4 10l-14.8 28l-1.2 5l-1 13l-1.4 5l-2.4 4l-2.8 3l-11.1 7.7l-25 10.3l-18 9.9l-5 1.9l-6 1.3M223.3 2384.4l-8 0.7l-6 -0.5l-4 -1.3l-10 -5.1l-12 -2.4l-6 -2l-4 -1.9l-3.5 -2.5l-10.7 -12l-2.8 -5l-6.1 -16l-2.4 -9l-1.6 -9l-0.4 -9l1 -14l1.1 -6l2.8 -8l5.1 -11l7.9 -10l7.5 -5.6l12 -5.9l10 -2.4l17 0.2l14 -1.6l5.2 -1.8l10.8 -5.6l14 -6.1l8 -2.6l16 -0.8l7 1.2l4 2.5l2.7 3.3l1.9 4l2.1 7l1.3 2l2.9 1.6l8 2.4l4.2 3l2.2 4l1.1 7l-0.7 11l-2.4 11l-3.6 9l-14.8 28l-1.1 4l-1.1 13l-1.3 5l-2.2 4l-2.6 3l-10.6 7.7l-27.2 11.3l-13.8 7.7l-5 2l-6 1.5M225.3 2382.3l-7 0.8l-7 -0.6l-4 -1.5l-7 -4.3l-4 -1.8l-14 -2.9l-5 -1.5l-6 -3.5l-10 -10.8l-3 -5.2l-5.5 -13.7l-2.7 -10l-1.9 -10l-0.4 -9l0.8 -13l1.2 -6l2.8 -8l5.2 -11l6.6 -8.3l7 -5.4l12 -6l5 -1.7l5 -0.9l17 0.2l14 -1.8l5.6 -2.1l10.4 -5.5l14 -6.1l8 -2.6l5 -0.5l10 0.1l7 1.2l4 2.5l2.9 3.8l1.4 4l1.1 7l1.1 2l2.5 1.5l10 2.4l4 3.1l1.9 4l1 7l-0.6 10l-2.5 11l-3.2 8l-14.8 28l-1.3 5l-0.9 11l-1.1 5l-2 4l-2.5 3.1l-5 4.2l-6 3.9l-26.4 10.9l-13.6 7.3l-9 2.8M226.3 2380.3l-7 0.7l-6 -0.7l-4 -1.6l-7 -5l-4 -2.1l-16 -3.1l-5 -1.6l-6 -4.1l-8.2 -8.7l-3.3 -6l-4.9 -12l-4.7 -21l-0.4 -9l0.4 -10l1.4 -7l2.4 -7l5 -11l6.3 -8.1l7 -5.3l12 -5.9l9 -2.4l17 0l13 -1.7l6 -2.2l14 -7.2l18 -7.1l5 -0.6l6 0.1l7 0.5l4 1l4 2.6l2.3 3.2l1.2 4l0.2 7l1 3l2.4 1.6l10 1.7l4 2.1l2.9 4.6l1.4 8l-0.6 10l-2.3 10l-3.8 9l-13.8 26l-1.1 4l-1.2 12l-1.3 5l-2.2 4l-2.6 3l-5.4 4.4l-5 3.2l-25.5 10.4l-12.5 6.4l-9 2.7M227.3 2378.3l-7 0.5l-5 -0.8l-5 -2.4l-6 -5.6l-3 -1.9l-3.4 -0.9l-12.6 -1.5l-6 -1.6l-6 -3.7l-8 -8.1l-3.5 -6.1l-3.9 -9l-5.6 -23l-0.5 -9l0.2 -8l1.1 -6l2.8 -9l5.1 -11l5.7 -7l6.7 -5l12 -5.8l9 -2.2l16 -0l13 -1.8l6 -2.3l14 -7.4l14 -5.8l5 -1.4l5 -0.4l6 0.3l9 1.7l3.3 2.1l2.5 4l0.6 4l-0.3 8l0.9 2.4l3 1.7l8 1l4 1.1l3 2.2l2 3.3l1.4 5.4l0.3 7l-1.3 9l-2.4 8l-3.7 8l-12.4 23.3l-1.4 4.7l-2 15l-1.7 4l-2.9 3.8l-7 5.8l-6 3.5l-25 9.9l-10 5l-8 2.1M228.3 2376.3l-7 0.2l-6 -1.6l-3.9 -2.8l-5.5 -7l-2.6 -1.9l-15 -0.6l-8 -2.1l-7 -4.5l-5.8 -5.8l-3.6 -6l-3.6 -8l-6 -23l-0.7 -9l0.1 -7l1.1 -6l2.8 -9l4.1 -9l5.5 -7.2l7 -5.3l11 -5.2l9 -2.4l16 -0.2l13 -1.8l5 -1.9l14 -7.6l16 -6.6l4 -1.1l9 -0.2l9 1.8l4 2.6l1.8 3.2l0.4 4l-0.9 9l0.7 3.2l2 1.1l10 0.9l4 1.1l3 2l2.4 3.7l1.6 6l0.1 6l-1.4 9l-2.2 7l-8.9 18l-6.7 12.1l-1.5 4.9l-1.9 14l-1.6 4l-2.9 4l-6 5.2l-7 4.2l-24.7 9.6l-9.3 4.5l-7 1.7M230.3 2374.3l-9 -0.2l-3 -0.9l-3 -1.7l-3.8 -4.4l-3.2 -7.5l-2 -2.4l-2 -0.1l-6 1.7l-4 0.5l-8 -0.8l-5 -1.8l-4 -2.2l-4 -3l-3.3 -3.5l-3.8 -6l-3.3 -7l-6 -21l-1 -9l-0.1 -7l0.9 -6l2.2 -8l4.4 -10l5 -6.6l6 -4.8l11 -5.3l5 -1.7l5 -1l16 -0.4l12 -1.7l5 -2l14 -7.8l19 -7.4l7 -0.6l9 1.5l4.8 2.8l1.9 4l-0.2 6l-2.7 11l0.1 1.4l2 0.6l9 -1l6 0.6l4.7 2.3l3.1 4l1.5 5l0.2 5l-1 8l-1.9 7l-8 17l-7.7 14l-1.5 5l-2.2 14l-1.8 4l-2.4 3.3l-6 5.3l-7 4.2l-24.2 9.3l-7.8 3.6l-6 1.6M250.3 2288.2l2.8 -2l2.8 -3l1 -2l-0.6 -1l-4.6 1l-4.1 3l-1 2l0.2 2l1.3 0.6l2 -0.6M232.3 2372.4l-4 0.4l-5 -0.4l-4 -1.3l-2.6 -1.8l-1.8 -2l-1.6 -3l-2.5 -10l-2.5 -2.6l-3 -0.1l-9 4.1l-7 0.1l-4 -1.1l-5 -2.3l-4.7 -3.1l-3.3 -3.2l-4 -5.9l-3.9 -7.9l-2.8 -8l-2.5 -10l-1.1 -8l-0.2 -7l0.8 -6l2 -8l3.9 -9l5 -7l5.9 -4.8l9 -4.4l6 -2.2l5 -1.1l17 -0.6l12 -1.8l4 -1.7l14 -8.2l19 -7.4l7 -0.6l7 1.3l4.4 2.5l1.5 2l0.6 2l0.1 3l-0.7 4l-2.9 7l-5 6.7l-7 7.1l-5 2.7l-11.2 4.4l-4.4 3l-2.4 4.1l-0.4 2.9l0.4 2.2l1 1.3l1 0.3l2 -0.4l3 -1.6l7.1 -5.9l9.9 -10.5l6 -3.8l12 -5.9l4 -1.1l4 -0.4l4 0.6l4 2l2.7 3l1.3 2.9l0.8 4.1l-0.1 5l-2.4 12l-7.8 17l-7.8 14l-1.5 5l-2.5 14l-1.9 4l-2.3 3l-6.5 5.6l-7 3.9l-34 12.7M234.3 2370.3l-4 0.7l-5 -0.3l-4 -1.2l-3 -2.1l-2.6 -4.1l-2.4 -11.3l-1.7 -2.7l-2.3 -1.6l-4 -0.1l-9 4.1l-6 0.4l-4 -1l-5 -2.3l-4 -2.6l-3.1 -2.9l-3.9 -5.3l-3.7 -6.7l-2.8 -7l-1.9 -7l-1.6 -9l-0.6 -7l0.5 -6l1.8 -8l3.1 -8l4.4 -7l5.7 -5.3l7 -3.9l7 -2.7l6 -1.5l17 -0.8l11 -1.4l5 -2l14 -8.7l16 -6.3l7 -1.6l7 0.8l4.8 2.4l1.6 2l0.6 1.8l-0.2 5.2l-2.4 6l-5.2 7l-7.2 6.7l-6 3.6l-11 4.8l-3.9 2.9l-1.9 3l-1.1 4l-0.1 5l1 3l1 0.7l2 -0.1l5 -2.8l6 -4.8l12 -10.9l8 -5.7l9 -4.7l7 -1.9l4 0.2l3 1.1l2.5 1.9l2.1 3l1.2 4l0.2 4l-1.7 12l-1.7 5l-5.1 11l-8.8 16l-1.6 5l-2.5 13l-1.8 4l-2.2 3l-5.5 5.1l-7 4.2l-13 5.2l-19 6.6M235.3 2368.3l-4 0.8l-4 -0.1l-4 -1.1l-3 -2l-2.6 -4.6l-2.4 -11.4l-2 -3.6l-2 -1.7l-2 -0.7l-3 -0l-11 3.7l-6 0.2l-4 -1.2l-4 -2.1l-4 -3l-3 -3.1l-3.7 -5.1l-2.8 -5l-2 -5l-1.5 -6l-1.8 -10l-0.4 -6l0.6 -6l1.5 -7l3 -8l4.2 -6.6l5 -4.8l7 -4l7 -2.6l6 -1.4l20 -0.9l8 -1.2l4 -1.7l10 -7.1l7 -3.6l16 -5.8l5 -0.6l4 0.5l3.8 1.7l2.3 3l0.3 4l-2.1 6l-5 7l-6.5 6l-5.9 3.7l-12.4 5.3l-3.7 3l-1.9 3l-1.4 5l-0.3 7l0.9 5l0.8 1.2l1 0.3l3 -1.1l9.4 -7.4l14.6 -12.7l6 -4.4l9 -5.1l8 -2.5l3 0l3 0.9l2.6 1.8l2.1 3l0.9 3l0.4 5l-0.5 6l-1.1 5l-6.8 16l-8.3 15l-1.4 4.4l-2.7 12.6l-1.7 4l-2.9 4l-4.7 4.3l-7 4.3l-12 4.8l-18 5.8M231.3 2367.2l-6 -1l-3.9 -3l-1.5 -3l-2.7 -12.1l-2 -4.9l-2 -2.5l-2 -0.8l-3 -0.1l-14 2.9l-6 -0.1l-7 -2.9l-4 -3l-3 -3.1l-3.7 -5.4l-2.4 -5l-3.6 -16l-0.2 -9l2.4 -11l3 -7l4.3 -6l5.2 -4.5l6 -3.2l6 -2.1l6 -1.3l20 -0.5l8 -1.1l4 -1.8l9.1 -7.3l6.9 -3.8l16 -5.5l4 -0.5l4 0.6l3.4 2.2l0.9 2l0.1 2l-1.4 5l-3.8 6l-3.8 4l-4.5 3.6l-6 3.3l-12 4.8l-2.8 2.2l-2.1 3l-1.4 4l-0.8 6l-0.2 10l0.6 5l0.7 1l1 0.3l3 -1.3l29 -25.2l10 -6.6l8 -3l4 -0.3l3 0.7l3 2.1l1.6 2.4l1 3l0.5 5l-0.3 5l-1.1 5l-6.3 15l-7.8 14l-1.6 4.5l-3.4 13.5l-1.9 4l-3 4l-6.8 5.5l-8 4l-9 3.3l-16 4.6l-4 0.6M237.3 2364.3l-4 0.8l-4 -0.1l-3 -1.1l-2.9 -2.7l-1.6 -4l-4.6 -19.9l-1.9 -2.1l-3.1 -0.1l-17 3.1l-6 0.1l-3 -0.6l-4 -1.8l-6 -4.7l-3.1 -4l-2.6 -5l-3.2 -13l-0.9 -8l1.4 -9l2.3 -7.1l4 -6.8l5 -5.2l6 -3.9l7 -2.6l6 -1.2l19 0.2l10 -1.3l3.9 -2.1l7.2 -7l6.9 -4.5l15 -4.8l3 -0.4l3 0.4l2 1.1l0.9 1.2l0.3 4l-2 5l-3.9 5l-4.3 3.7l-5 3l-15 5.5l-2.3 1.8l-2 3l-1.4 4l-0.6 4l-1.5 22l0.5 3l1.4 1l1 -0.1l4 -2l12.9 -12.9l15.1 -13l11 -7.7l7 -3.1l4 -0.6l3 0.3l3 1.4l2 2.1l1.3 2.6l0.8 4l0.1 4l-0.7 5l-5.9 15l-8.5 15.8l-5.5 18.2l-3.8 6l-5.7 5l-8 4.3l-9 3.3l-14 3.5M245.3 2269.3l-7 0.3l-1.9 -0.3l-1.2 -1l0.1 -2l1.1 -3l3.4 -5l4.7 -4l5.7 -2.6l8 -1.3l4.2 0.9l1.2 2l-0.3 3l-1.5 3l-2.4 3l-6.3 4.5l-8 2.6M193.3 2334.2l-6 -0.7l-6 -3l-5 -4.8l-3 -5.5l-3.4 -12l-0.7 -7l1.5 -9l3.4 -8l3.7 -5l5.5 -5.2l5 -3.1l6 -2l9 -0.8l11 1.1l12 0.1l5 0.9l0.8 0.9l0.1 1l-2.2 11l-0.9 20l-5.5 20l-3.5 3l-8.8 4.4l-7 1.9l-11 1.8M237.3 2362.4l-5 0.5l-3.2 -0.7l-2.8 -2.1l-2 -3.9l-2.8 -10l-0.6 -5l1.8 -11l2 -6l13.5 -10.2l14 -14.9l18 -15l8 -5.1l5 -2.1l5 -0.4l4 1.4l2.3 2.4l1.6 4l0.4 5l-0.8 5l-5 13l-8.5 16.1l-5.5 16.9l-2.5 5l-5.1 5.5l-8 5l-10 3.8l-14 2.9M249.3 2264.4l-3 0.2l-2 -1l-0.2 -2.4l1.2 -2l2.2 -2l2.9 -1.4l3 -0.3l1.9 0.7l0.9 2l-0.8 2.3l-3 2.7l-3 1.2M199.3 2329.4l-7 0.6l-5 -1.2l-5 -3l-4 -4.4l-3.4 -7.1l-2.6 -9l-0.1 -7l1.8 -7l3.2 -6l4.1 -4.8l5.8 -5.2l5.2 -2.7l5 -1.1l6 -0l18 3.2l2.5 1.6l1.1 2l1.7 11l-0.3 12l-2.3 9l-4.4 8l-5.7 6l-5.6 3.1l-9 2.1M238.3 2360.3l-5 0.2l-4 -1.7l-2.4 -3.6l-2.1 -6l-1.2 -5l0.1 -5l1.5 -5l3.1 -6l4.6 -6l9.5 -9.7l8.9 -10.3l15.1 -13.3l9 -6.1l6 -3.1l5 -0.9l4.3 1.3l2.7 2.9l1.1 3.1l0.3 4l-0.9 5l-4.2 11l-8.7 17l-6 17l-2.6 5l-2.5 3l-3.6 3l-8 4.5l-8 2.7l-12 2M196.3 2325.3l-4 -0.3l-4 -1.3l-3.7 -2.5l-3.3 -3.7l-3.2 -5.3l-2.3 -6l-0.7 -5l0.5 -5l1.7 -5l3.1 -5l4.8 -5.2l5 -4l4 -1.7l4 -0.6l5 0.1l5 0.9l4.8 1.5l4 2l2.3 2l1.8 3l1.4 4l0.7 5l-0.3 6l-1 6l-1.6 4.8l-2 3.6l-3 3.7l-4 3.6l-6 2.9l-9 1.4M240.3 2358.2l-5.1 -0l-3.9 -1.7l-2.4 -3.3l-2.1 -5l-1.1 -5l0.3 -4l1.7 -5l2.8 -5l5.3 -7l16.5 -19l14 -12.3l6 -4.1l9 -4.6l4 -0.6l4 1.3l2.1 2.3l1 3l0.1 4l-0.8 4l-3.8 10l-8.6 17.5l-5.7 15.5l-2.5 5l-4.8 5.2l-8 4.9l-8 2.7l-10 1.3M202.3 2319.3l-9 -0.5l-5 -2.1l-4 -3.8l-2.8 -3.8l-1.4 -3l-1 -4l0.5 -7l1.6 -4l2 -3.1l7 -6.9l3 -1.8l4 -1.1l8 0.4l6.1 2.5l2.5 2l2.5 3l1.6 3l0.9 4l-1 11l-1.1 4l-1.5 3l-2.5 3l-3.5 2.8l-3 1.5l-4 0.9M241.3 2356.2l-5 -0.4l-3 -1.5l-2.5 -3.1l-1.8 -4l-1 -4l0.2 -4l1.3 -4l2.8 -5l6.6 -9l13.3 -15.7l13 -11.7l6 -4.3l8 -3.9l4 -1l4 0.9l1.7 1.7l1.1 3l-0.1 4l-1 4l-2.6 7l-8.4 18l-8.2 20l-5.4 5.7l-7 4.2l-7 2.3l-9 0.9M205.3 2312.3l-6 -0l-7 -2.3l-5.7 -3.8l-2.5 -4l-0.5 -5l0.7 -3l1.5 -3l4.5 -5l6 -3.4l5 -0.5l5 1.4l4.2 3.5l2.6 5l0.4 5l-1.4 9l-2.7 4l-4.1 2.1M251.3 2353.4l-5 0.7l-6 -0.1l-3.1 -0.7l-2.9 -2l-2.5 -4l-1.2 -4l0.1 -4l1.8 -5l3.7 -6l6.7 -9l10.5 -12.2l6 -5.9l8 -6.6l5 -3.2l7 -2.7l3 -0.4l2 0.4l2 1.7l0.7 2l0 3l-0.9 4l-4.4 12l-6.5 14l-6.5 16l-2.9 4l-4.5 3.8l-5 2.8l-5 1.6M200.3 2301.7l-3 0.5l-3.7 -0.9l-2.3 -1.7l-1 -2.3l0.2 -2l1.6 -3l2.2 -2l3 -1.3l2 -0.2l2.2 0.5l1.4 1l1.2 2l0.2 3l-0.8 3l-1.2 2l-1.9 1.5M252.3 2351.2l-4 0.6l-5 -0.1l-4 -1l-2.5 -1.6l-2.3 -3l-1.3 -4l0.2 -4l1.5 -4l4.3 -7l5.9 -8l15.3 -16.4l7 -5.8l5 -3.1l5 -1.5l4 0.4l1.5 1.5l0.5 2l-0.4 4l-1.3 5l-2.8 8l-6.6 14l-4.7 12l-2.5 4l-3.6 3.5l-4 2.6l-5 1.9M251.3 2349.2l-4 0.2l-4 -0.7l-3 -1.4l-2 -1.9l-1.4 -2.3l-0.7 -3l0.3 -3l1.5 -4l8.7 -13l14.6 -15.2l6 -5l4 -2.4l3 -0.9l3 0.5l1 1l0.8 3l-1.3 8l-1.9 5l-5.9 12l-4.7 12.3l-2.4 3.7l-3.6 3.3l-4 2.4l-4 1.3M252.3 2346.2l-3 0.3l-3 -0.5l-3 -1.5l-2 -2l-1.5 -4.3l0.4 -3l1.2 -3l4.9 -8l5.9 -6.7l14.7 -13.3l3.3 -1.7l3 0.1l1.5 2.6l-0.5 5l-5.8 12l-5.5 15l-1.9 3l-2.8 2.8l-3 2l-3 1.2M252.3 2342.4l-4 -0.2l-3 -2.3l-1.2 -3.7l0.9 -4l3.3 -5.8l4 -4.8l5 -3.6l3 -1.3l2 -0.2l1 0.6l0.4 1l0 3l-3.2 13l-3.2 5.1l-2.3 1.9l-2.7 1.2" fill="none" stroke="#2a2a2a" stroke-width="0.75"/>
<path d="M334.3 2286.2h1M176.3 2365.2h1M260.3 2231.2h1M298.3 2237.2h1M302.3 2364.2h1M303.3 2353.2h1M144.3 2291.2h1M202.3 2391.2h1M110.3 2292.2h1M140.3 2302.2h1M151.3 2348.2h1M229.3 2423.2h1M314.3 2258.2h1M220.3 2247.2h1M319.3 2357.2h1M246.3 2382.2h1M141.3 2321.2h1M225.3 2232.2h1M308.3 2334.2h1M173.3 2227.2h1M169.3 2218.2h1M280.3 2365.2h1M309.3 2404.2h1M331.3 2373.2h1M182.3 2382.2h1M87.3 2283.2h1M166.3 2374.2h1M101.3 2345.2h1M214.3 2393.2h1M285.3 2225.2h1M134.3 2297.2h1M230.3 2420.2h1M267.3 2434.2h1M170.3 2258.2h1M206.3 2390.2h1M122.3 2310.2h1M196.3 2221.2h1M283.3 2352.2h1M142.3 2293.2h1M293.3 2240.2h1M155.3 2392.2h1M327.3 2294.2h1M110.3 2292.2h1M144.3 2332.2h1M237.3 2402.2h1M238.3 2240.2h1M303.3 2315.2h1M187.3 2224.2h1M308.3 2309.2h1M226.3 2230.2h1M239.3 2402.2h1M143.3 2339.2h1M185.3 2243.2h1M169.3 2389.2h1M149.3 2325.2h1M120.3 2280.2h1M293.3 2369.2h1M177.3 2432.2h1M172.3 2378.2h1M149.3 2385.2h1M318.3 2326.2h1M133.3 2349.2h1M295.3 2248.2h1M322.3 2319.2h1M271.3 2387.2h1M346.3 2304.2h1M321.3 2290.2h1M158.3 2391.2h1M309.3 2296.2h1M324.3 2269.2h1M179.3 2245.2h1M150.3 2348.2h1M277.3 2362.2h1M224.3 2405.2h1M252.3 2374.2h1M306.3 2298.2h1M313.3 2393.2h1M148.3 2316.2h1M291.3 2253.2h1M271.3 2217.2h1M328.3 2235.2h1M242.3 2416.2h1M164.3 2243.2h1M122.3 2388.2h1M97.3 2259.2h1M267.3 2377.2h1M139.3 2350.2h1M316.3 2373.2h1M141.3 2320.2h1M192.3 2246.2h1M313.3 2293.2h1M319.3 2280.2h1M191.3 2391.2h1M308.3 2344.2h1M153.3 2278.2h1M89.3 2289.2h1M314.3 2276.2h1M325.3 2290.2h1M194.3 2417.2h1M143.3 2374.2h1M331.3 2285.2h1M167.3 2230.2h1M128.3 2303.2h1M301.3 2254.2h1M237.3 2377.2h1M211.3 2428.2h1M280.3 2358.2h1M269.3 2215.2h1M135.3 2354.2h1M288.3 2345.2h1M214.3 2382.2h1M297.3 2347.2h1M311.3 2290.2h1M296.3 2392.2h1M185.3 2245.2h1M253.3 2378.2h1M301.3 2241.2h1M238.3 2399.2h1M294.3 2347.2h1M274.3 2229.2h1M308.3 2393.2h1M136.3 2230.2h1M294.3 2423.2h1M229.3 2229.2h1M138.3 2412.2h1M144.3 2299.2h1M139.3 2371.2h1M201.3 2436.2h1M151.3 2239.2h1M331.3 2397.2h1M183.3 2225.2h1M196.3 2247.2h1M147.3 2342.2h1M178.3 2367.2h1M310.3 2307.2h1M136.3 2241.2h1M314.3 2370.2h1M143.3 2339.2h1M337.3 2359.2h1M251.3 2213.2h1M209.3 2393.2h1M206.3 2402.2h1M121.3 2287.2h1M349.3 2374.2h1M283.3 2386.2h1M273.3 2228.2h1M172.3 2237.2h1M105.3 2320.2h1M127.3 2246.2h1M110.3 2310.2h1" stroke="#333" stroke-width="1"/>
<path d="M86.3 2281.1L147.6 2212.4L245.0 2205.9L310.2 2238.3L176.1 2385.2L86.3 2331.9Z" fill="none" stroke="#000" stroke-width="2.6" stroke-linejoin="miter"/>
<path d="M310.2 2238.3L327.1 2261.4L329.9 2274.1L211.2 2407.1L176.1 2385.2Z" fill="none" stroke="#000" stroke-width="2.6" stroke-linejoin="miter"/>
<path d="M329.9 2274.1L327.6 2386.3L313.7 2443.0L242.7 2439.0L211.2 2407.1Z" fill="none" stroke="#000" stroke-width="2.6" stroke-linejoin="miter"/>
<text x="208.0" y="2202.4" font-size="19" text-anchor="middle" stroke="#fff" stroke-width="3" paint-order="stroke" stroke-opacity="0.85">d/d</text>
<text x="208.0" y="2219.9" font-size="19" text-anchor="middle" stroke="#fff" stroke-width="3" paint-order="stroke" stroke-opacity="0.85">38.9</text>
<text x="348.5" y="2202.4" font-size="19" text-anchor="end" stroke="#fff" stroke-width="3" paint-order="stroke" stroke-opacity="0.85">b/d</text>
<text x="348.5" y="2219.9" font-size="19" text-anchor="end" stroke="#fff" stroke-width="3" paint-order="stroke" stroke-opacity="0.85">56.8</text>
<text x="350.0" y="2345.0" font-size="19" text-anchor="end" stroke="#fff" stroke-width="3" paint-order="stroke" stroke-opacity="0.85">b/b</text>
<text x="350.0" y="2362.5" font-size="19" text-anchor="end" stroke="#fff" stroke-width="3" paint-order="stroke" stroke-opacity="0.85">2.60</text>
<text x="91.7" y="2204.7999999999997" font-size="21" fill="#26246a" textLength="55.5" lengthAdjust="spacingAndGlyphs">Chim3</text>
<path d="M86.3 2321.0h-3.5M86.3 2289.3h-3.5M86.3 2266.8h-3.5M86.3 2249.4h-3.5M86.3 2235.1h-3.5M86.3 2223.1h-3.5M86.3 2212.6h-3.5M86.3 2203.4h-3.5M86.3 2392.6h-3.5M86.3 2383.4h-3.5" stroke="#222" stroke-width="1.2"/>
<path d="M86.3 2195.5h-7.5M86.3 2375.2h-7.5" stroke="#000" stroke-width="2.4"/>
<text x="76.0" y="2207.4" font-size="21.5" text-anchor="end">10<tspan font-size="15.7" dx="1.5" dy="-12.5">1</tspan></text>
<text x="76.0" y="2387.0" font-size="21.5" text-anchor="end">10<tspan font-size="15.7" dx="1.5" dy="-12.5">0</tspan></text>
<text transform="translate(37 2304.5) rotate(-90)" font-size="22" text-anchor="middle">I-Ad</text>
<path d="M208.3 2448.5v3.5M238.9 2448.5v3.5M260.6 2448.5v3.5M277.4 2448.5v3.5M291.1 2448.5v3.5M302.7 2448.5v3.5M312.8 2448.5v3.5M321.7 2448.5v3.5M117.6 2448.5v3.5M129.2 2448.5v3.5M139.3 2448.5v3.5M148.2 2448.5v3.5" stroke="#222" stroke-width="1.2"/>
<path d="M156.1 2448.5v7.5M329.6 2448.5v7.5" stroke="#000" stroke-width="2.4"/>
<text x="162.0" y="2475.8" font-size="21.5" text-anchor="middle">10<tspan font-size="15.7" dx="1.5" dy="-12.5">0</tspan></text>
<text x="334.0" y="2475.8" font-size="21.5" text-anchor="middle">10<tspan font-size="15.7" dx="1.5" dy="-12.5">1</tspan></text>
<text x="220.9" y="2498.9" font-size="22" text-anchor="middle">I-Ab</text>
<text x="389.3" y="856.7" font-size="51">K</text>
<text x="541.8" y="897.9" font-size="22" text-anchor="middle" textLength="109.6" lengthAdjust="spacingAndGlyphs">All B cells</text>
<text x="705.0" y="897.9" font-size="22" text-anchor="middle" textLength="122.7" lengthAdjust="spacingAndGlyphs">Cluster 0-3</text>
<text x="859.5" y="836.5" font-size="22" text-anchor="middle" textLength="206.3" lengthAdjust="spacingAndGlyphs">GC representation</text>
<text x="859.5" y="867.6" font-size="22" text-anchor="middle" textLength="151.6" lengthAdjust="spacingAndGlyphs">normalized to</text>
<text x="859.5" y="897.9" font-size="22" text-anchor="middle" textLength="118" lengthAdjust="spacingAndGlyphs">cluster 0-3</text>
<path d="M546.0 1005.8L546.0 933.2A72.6 72.6 0 0 1 614.4 1030.2Z" fill="#1F2348"/>
<path d="M546.0 1005.8L614.4 1030.2A72.6 72.6 0 0 1 584.8 1067.2Z" fill="#23808F"/>
<path d="M546.0 1005.8L584.8 1067.2A72.6 72.6 0 1 1 542.6 933.3Z" fill="#6580A3"/>
<path d="M546.0 1005.8L542.6 933.3A72.6 72.6 0 0 1 546.0 933.2Z" fill="#D3D3D3"/>
<circle cx="546" cy="1005.8" r="29.6" fill="#fff"/>
<text x="546.0" y="1014.1" font-size="21.8" text-anchor="middle">5421</text>
<path d="M709.0 1005.8L709.0 933.2A72.6 72.6 0 0 1 774.9 1036.3Z" fill="#1F2348"/>
<path d="M709.0 1005.8L774.9 1036.3A72.6 72.6 0 0 1 738.1 1072.3Z" fill="#23808F"/>
<path d="M709.0 1005.8L738.1 1072.3A72.6 72.6 0 1 1 706.7 933.2Z" fill="#6580A3"/>
<path d="M709.0 1005.8L706.7 933.2A72.6 72.6 0 0 1 709.0 933.2Z" fill="#D3D3D3"/>
<circle cx="709" cy="1005.8" r="29.6" fill="#fff"/>
<text x="709.0" y="1014.1" font-size="21.8" text-anchor="middle">4359</text>
<path d="M869.3 1005.8L869.3 933.2A72.6 72.6 0 1 1 814.4 1053.3Z" fill="#1F2348"/>
<path d="M869.3 1005.8L814.4 1053.3A72.6 72.6 0 0 1 864.9 933.3Z" fill="#23808F"/>
<path d="M869.3 1005.8L864.9 933.3A72.6 72.6 0 0 1 869.3 933.2Z" fill="#6580A3"/>
<circle cx="869.3" cy="1005.8" r="29.6" fill="#fff"/>
<text x="869.3" y="1014.1" font-size="21.8" text-anchor="middle">100%</text>
<path d="M546.0 1179.3L546.0 1106.7A72.6 72.6 0 0 1 583.7 1117.3Z" fill="#1F2348"/>
<path d="M546.0 1179.3L583.7 1117.3A72.6 72.6 0 0 1 601.6 1132.6Z" fill="#23808F"/>
<path d="M546.0 1179.3L601.6 1132.6A72.6 72.6 0 1 1 542.2 1106.8Z" fill="#6580A3"/>
<path d="M546.0 1179.3L542.2 1106.8A72.6 72.6 0 0 1 546.0 1106.7Z" fill="#D3D3D3"/>
<circle cx="546" cy="1179.3" r="29.6" fill="#fff"/>
<text x="546.0" y="1187.6" font-size="21.8" text-anchor="middle">5793</text>
<path d="M709.0 1179.3L709.0 1106.7A72.6 72.6 0 0 1 746.9 1117.4Z" fill="#1F2348"/>
<path d="M709.0 1179.3L746.9 1117.4A72.6 72.6 0 0 1 764.2 1132.2Z" fill="#23808F"/>
<path d="M709.0 1179.3L764.2 1132.2A72.6 72.6 0 1 1 706.8 1106.7Z" fill="#6580A3"/>
<path d="M709.0 1179.3L706.8 1106.7A72.6 72.6 0 0 1 709.0 1106.7Z" fill="#D3D3D3"/>
<circle cx="709" cy="1179.3" r="29.6" fill="#fff"/>
<text x="709.0" y="1187.6" font-size="21.8" text-anchor="middle">4893</text>
<path d="M869.3 1179.3L869.3 1106.7A72.6 72.6 0 1 1 840.1 1245.8Z" fill="#1F2348"/>
<path d="M869.3 1179.3L840.1 1245.8A72.6 72.6 0 0 1 854.8 1108.2Z" fill="#23808F"/>
<path d="M869.3 1179.3L854.8 1108.2A72.6 72.6 0 0 1 869.3 1106.7Z" fill="#6580A3"/>
<circle cx="869.3" cy="1179.3" r="29.6" fill="#fff"/>
<text x="869.3" y="1187.6" font-size="21.8" text-anchor="middle">100%</text>
<path d="M546.0 1367.0L546.0 1294.4A72.6 72.6 0 0 1 556.6 1295.2Z" fill="#1F2348"/>
<path d="M546.0 1367.0L556.6 1295.2A72.6 72.6 0 1 1 505.3 1427.1Z" fill="#23808F"/>
<path d="M546.0 1367.0L505.3 1427.1A72.6 72.6 0 0 1 541.9 1294.5Z" fill="#6580A3"/>
<path d="M546.0 1367.0L541.9 1294.5A72.6 72.6 0 0 1 546.0 1294.4Z" fill="#D3D3D3"/>
<circle cx="546" cy="1367" r="29.6" fill="#fff"/>
<text x="546.0" y="1375.3" font-size="21.8" text-anchor="middle">4875</text>
<path d="M709.0 1367.0L709.0 1294.4A72.6 72.6 0 0 1 719.2 1295.1Z" fill="#1F2348"/>
<path d="M709.0 1367.0L719.2 1295.1A72.6 72.6 0 1 1 662.9 1423.1Z" fill="#23808F"/>
<path d="M709.0 1367.0L662.9 1423.1A72.6 72.6 0 0 1 706.8 1294.4Z" fill="#6580A3"/>
<path d="M709.0 1367.0L706.8 1294.4A72.6 72.6 0 0 1 709.0 1294.4Z" fill="#D3D3D3"/>
<circle cx="709" cy="1367" r="29.6" fill="#fff"/>
<text x="709.0" y="1375.3" font-size="21.8" text-anchor="middle">3912</text>
<path d="M869.3 1367.0L869.3 1294.4A72.6 72.6 0 0 1 941.8 1370.7Z" fill="#1F2348"/>
<path d="M869.3 1367.0L941.8 1370.7A72.6 72.6 0 0 1 808.7 1407.0Z" fill="#23808F"/>
<path d="M869.3 1367.0L808.7 1407.0A72.6 72.6 0 0 1 869.3 1294.4Z" fill="#6580A3"/>
<circle cx="869.3" cy="1367" r="29.6" fill="#fff"/>
<text x="869.3" y="1375.3" font-size="21.8" text-anchor="middle">100%</text>
<path d="M464 910.7H949.7V1453.2H464ZM464 1270H949.7" fill="none" stroke="#222" stroke-width="2.9" stroke-dasharray="10 9.5" stroke-dashoffset="5"/>
<text transform="translate(454 1010) rotate(-90)" font-size="22" text-anchor="middle">Chim1</text>
<text transform="translate(454 1181.6) rotate(-90)" font-size="22" text-anchor="middle">Chim2</text>
<text transform="translate(454 1367.9) rotate(-90)" font-size="22" text-anchor="middle">Chim3</text>
<text transform="translate(419.5 1093) rotate(-90)" font-size="22" text-anchor="middle">’No bridge’</text>
<text transform="translate(419.5 1364) rotate(-90)" font-size="22" text-anchor="middle">’Bridge’</text>
<rect x="469.5" y="1466.8" width="20.6" height="11" fill="#1F2348"/>
<text x="495.0" y="1478.3" font-size="21">b/b</text>
<rect x="540.7" y="1466.8" width="20.6" height="11" fill="#23808F"/>
<text x="566.2" y="1478.3" font-size="21">b/d</text>
<rect x="608.2" y="1466.8" width="20.6" height="11" fill="#6580A3"/>
<text x="632.7" y="1478.3" font-size="21">d/d</text>
<rect x="683.1" y="1466.8" width="20.6" height="11" fill="#D3D3D3"/>
<text x="708.7" y="1478.3" font-size="21" textLength="108.4" lengthAdjust="spacingAndGlyphs">unassigned</text>
<text x="388.8" y="1572.2" font-size="51">L</text>
<text x="538.9" y="1563.3" font-size="22" text-anchor="middle" textLength="195" lengthAdjust="spacingAndGlyphs">Average pI of CDR3</text>
<text x="549.8" y="1591.4" font-size="22" text-anchor="middle" textLength="54" lengthAdjust="spacingAndGlyphs">All ns</text>
<path d="M443.9 1588.5V1782.4H637.5" fill="none" stroke="#000" stroke-width="1.7"/>
<path d="M443.9 1782.4h-5M443.9 1743.6h-5M443.9 1704.8h-5M443.9 1666.1h-5M443.9 1627.3h-5M443.9 1588.5h-5M488.8 1782.4v6M591.8 1782.4v6" stroke="#000" stroke-width="1.7"/>
<text x="434.8" y="1790.3" font-size="22" text-anchor="end">4</text>
<text x="434.8" y="1751.5" font-size="22" text-anchor="end">5</text>
<text x="434.8" y="1712.8" font-size="22" text-anchor="end">6</text>
<text x="434.8" y="1674.0" font-size="22" text-anchor="end">7</text>
<text x="434.8" y="1635.2" font-size="22" text-anchor="end">8</text>
<text x="434.8" y="1596.4" font-size="22" text-anchor="end">9</text>
<text x="488.8" y="1808.7" font-size="22" text-anchor="middle" textLength="64" lengthAdjust="spacingAndGlyphs">Heavy</text>
<text x="591.8" y="1808.7" font-size="22" text-anchor="middle" textLength="53" lengthAdjust="spacingAndGlyphs">Light</text>
<text x="544.3" y="1837.2" font-size="22" text-anchor="middle" textLength="59" lengthAdjust="spacingAndGlyphs">Chain</text>
<text transform="translate(407 1684.5) rotate(-90)" font-size="22" text-anchor="middle">pI</text>
<path d="M459.8 1736.2H478.8M469.3 1734.8V1737.6M464.8 1734.8H473.8M464.8 1737.6H473.8" stroke="#000" stroke-width="1.6" fill="none"/>
<circle cx="460.3" cy="1737.5" r="3.2" fill="#F6836F"/>
<circle cx="469.5" cy="1734.5" r="3.2" fill="#F6836F"/>
<circle cx="477.9" cy="1735.6" r="3.2" fill="#F6836F"/>
<circle cx="508.5" cy="1646.2" r="3.2" fill="#7A0C9C"/>
<circle cx="499.4" cy="1716.6" r="3.2" fill="#7A0C9C"/>
<circle cx="517.7" cy="1712.6" r="3.2" fill="#7A0C9C"/>
<path d="M495.2 1691.8H521.6M508.4 1652.4V1731.3M502.4 1652.4H514.4M502.4 1731.3H514.4" stroke="#000" stroke-width="1.6" fill="none"/>
<circle cx="563.7" cy="1674.6" r="3.2" fill="#F6836F"/>
<circle cx="572.5" cy="1671.4" r="3.2" fill="#F6836F"/>
<circle cx="581.6" cy="1672.8" r="3.2" fill="#F6836F"/>
<path d="M563.0 1672.8H582.0M572.5 1671.5V1674.1M568.0 1671.5H577.0M568.0 1674.1H577.0" stroke="#000" stroke-width="1.6" fill="none"/>
<circle cx="602.0" cy="1678.3" r="3.2" fill="#7A0C9C"/>
<circle cx="611.2" cy="1613.3" r="3.2" fill="#7A0C9C"/>
<circle cx="620.3" cy="1672.5" r="3.2" fill="#7A0C9C"/>
<path d="M598.4 1654.6H624.0M611.2 1618.0V1690.7M604.8 1618.0H617.6M604.8 1690.7H617.6" stroke="#000" stroke-width="1.6" fill="none"/>
<text x="661.0" y="1572.2" font-size="51">M</text>
<text x="839.0" y="1563.3" font-size="22" text-anchor="middle" textLength="218" lengthAdjust="spacingAndGlyphs">Average pI of H-CDR3</text>
<text x="839.0" y="1591.4" font-size="22" text-anchor="middle" textLength="54" lengthAdjust="spacingAndGlyphs">All ns</text>
<path d="M729.8 1588.5V1779.5H921.2" fill="none" stroke="#000" stroke-width="1.7"/>
<path d="M729.8 1779.5h-5M729.8 1741.3h-5M729.8 1703.1h-5M729.8 1664.9h-5M729.8 1626.7h-5M729.8 1588.5h-5M774.4 1779.5v6M875.9 1779.5v6" stroke="#000" stroke-width="1.7"/>
<text x="722.5" y="1787.4" font-size="22" text-anchor="end">0</text>
<text x="722.5" y="1749.2" font-size="22" text-anchor="end">2</text>
<text x="722.5" y="1711.0" font-size="22" text-anchor="end">4</text>
<text x="722.5" y="1672.8" font-size="22" text-anchor="end">6</text>
<text x="722.5" y="1634.6" font-size="22" text-anchor="end">8</text>
<text x="722.5" y="1596.4" font-size="22" text-anchor="end" textLength="24" lengthAdjust="spacingAndGlyphs">10</text>
<text x="774.4" y="1808.7" font-size="22" text-anchor="middle" textLength="45" lengthAdjust="spacingAndGlyphs">Incl.</text>
<text x="875.9" y="1808.7" font-size="22" text-anchor="middle" textLength="50" lengthAdjust="spacingAndGlyphs">Excl.</text>
<circle cx="894.9" cy="1590.3" r="4.3" fill="#F6836F"/>
<circle cx="894.9" cy="1608.5" r="4.3" fill="#7A0C9C"/>
<text x="907.0" y="1596.1" font-size="21" textLength="50" lengthAdjust="spacingAndGlyphs">Naive</text>
<text x="907.0" y="1617.0" font-size="21" textLength="42" lengthAdjust="spacingAndGlyphs">GC B</text>
<path d="M744.4 1679.8H766.4M755.4 1679.0V1680.6M750.9 1679.0H759.9M750.9 1680.6H759.9" stroke="#000" stroke-width="1.6" fill="none"/>
<circle cx="746.3" cy="1680.1" r="3.2" fill="#F6836F"/>
<circle cx="755.4" cy="1679.0" r="3.2" fill="#F6836F"/>
<circle cx="764.5" cy="1680.1" r="3.2" fill="#F6836F"/>
<circle cx="793.4" cy="1598.7" r="3.2" fill="#7A0C9C"/>
<circle cx="793.4" cy="1650.9" r="3.2" fill="#7A0C9C"/>
<circle cx="793.4" cy="1669.2" r="3.2" fill="#7A0C9C"/>
<path d="M780.6 1639.6H806.2M793.4 1603.0V1676.5M787.0 1603.0H799.8M787.0 1676.5H799.8" stroke="#000" stroke-width="1.6" fill="none"/>
<path d="M846.0 1679.8H868.0M857.0 1679.0V1680.6M852.5 1679.0H861.5M852.5 1680.6H861.5" stroke="#000" stroke-width="1.6" fill="none"/>
<circle cx="848.2" cy="1680.1" r="3.2" fill="#F6836F"/>
<circle cx="865.7" cy="1679.0" r="3.2" fill="#F6836F"/>
<circle cx="885.8" cy="1693.6" r="3.2" fill="#7A0C9C"/>
<circle cx="894.9" cy="1691.1" r="3.2" fill="#7A0C9C"/>
<circle cx="904.0" cy="1689.3" r="3.2" fill="#7A0C9C"/>
<path d="M884.9 1691.6H904.9M894.9 1690.0V1693.2M890.4 1690.0H899.4M890.4 1693.2H899.4" stroke="#000" stroke-width="1.6" fill="none"/>
<text x="389.2" y="1895.8" font-size="51">N</text>
<text x="546.2" y="1894.7" font-size="22" text-anchor="middle" textLength="124" lengthAdjust="spacingAndGlyphs">Heavy chain</text>
<text x="546.2" y="1925.0" font-size="22" text-anchor="middle" textLength="84" lengthAdjust="spacingAndGlyphs">% RNKH</text>
<text x="556.0" y="1953.1" font-size="22" text-anchor="middle" textLength="106" lengthAdjust="spacingAndGlyphs">p = 0.0093</text>
<path d="M527.9 1958.6H579" stroke="#000" stroke-width="1.5"/>
<rect x="509.6" y="2056.5" width="35.5" height="79.9" fill="#F9BBA8"/>
<rect x="561.9" y="1992.2" width="35.4" height="144.2" fill="#DFCDF5"/>
<path d="M489.6 1951.3V2136.4H614.8" fill="none" stroke="#000" stroke-width="1.7"/>
<path d="M489.6 2136.4h-5M489.6 2090.1h-5M489.6 2043.9h-5M489.6 1997.6h-5M489.6 1951.3h-5M527.2 2136.4v6M579.4 2136.4v6" stroke="#000" stroke-width="1.7"/>
<text x="479.3" y="2144.7" font-size="23" text-anchor="end" textLength="48.2" lengthAdjust="spacingAndGlyphs">12.0</text>
<text x="479.3" y="2098.4" font-size="23" text-anchor="end" textLength="48.2" lengthAdjust="spacingAndGlyphs">12.5</text>
<text x="479.3" y="2052.1" font-size="23" text-anchor="end" textLength="48.2" lengthAdjust="spacingAndGlyphs">13.0</text>
<text x="479.3" y="2005.9" font-size="23" text-anchor="end" textLength="48.2" lengthAdjust="spacingAndGlyphs">13.5</text>
<text x="479.3" y="1959.6" font-size="23" text-anchor="end" textLength="48.2" lengthAdjust="spacingAndGlyphs">14.0</text>
<circle cx="522.4" cy="2053.5" r="3.2" fill="#F6836F"/>
<circle cx="531.6" cy="2053.5" r="3.2" fill="#F6836F"/>
<circle cx="526.8" cy="2062.0" r="3.2" fill="#F6836F"/>
<path d="M526.8 2056.5H526.8M526.8 2051.0V2062.0M518.2 2051.0H535.4M518.2 2062.0H535.4" stroke="#000" stroke-width="1.6" fill="none"/>
<circle cx="579.4" cy="1970.3" r="3.2" fill="#7A0C9C"/>
<circle cx="579.4" cy="1988.9" r="3.2" fill="#7A0C9C"/>
<circle cx="579.4" cy="2017.0" r="3.2" fill="#7A0C9C"/>
<path d="M579.4 1992.2H579.4M579.4 1968.8V2015.9M570.6 1968.8H588.2M570.6 2015.9H588.2" stroke="#000" stroke-width="1.6" fill="none"/>
<text x="521.7" y="2170.4" font-size="22" text-anchor="middle" textLength="58" lengthAdjust="spacingAndGlyphs">Naive</text>
<text x="586.3" y="2170.4" font-size="22" text-anchor="middle" textLength="49" lengthAdjust="spacingAndGlyphs">GC B</text>
<text transform="translate(419.4 2046.2) rotate(-90)" font-size="22" text-anchor="middle" textLength="96" lengthAdjust="spacingAndGlyphs">RNKH (%)</text>
<text x="661.2" y="1895.2" font-size="51">O</text>
<text x="824.8" y="1894.7" font-size="22" text-anchor="middle" textLength="108" lengthAdjust="spacingAndGlyphs">Frequency</text>
<text x="826.3" y="1925.0" font-size="22" text-anchor="middle" textLength="148" lengthAdjust="spacingAndGlyphs">class-switched</text>
<text x="840.9" y="1953.1" font-size="22" text-anchor="middle" textLength="106" lengthAdjust="spacingAndGlyphs">p = 0.0373</text>
<path d="M812 1958.6H863.9" stroke="#000" stroke-width="1.5"/>
<rect x="846.7" y="2040" width="34.7" height="98.6" fill="#DFCDF5"/>
<path d="M776.2 1955V2138.6H899.7" fill="none" stroke="#000" stroke-width="1.7"/>
<path d="M776.2 2138.6h-5M776.2 2101.9h-5M776.2 2065.2h-5M776.2 2028.4h-5M776.2 1991.7h-5M776.2 1955.0h-5M811.0 2138.6v6M863.9 2138.6v6" stroke="#000" stroke-width="1.7"/>
<text x="767.1" y="2146.9" font-size="23" text-anchor="end" textLength="13" lengthAdjust="spacingAndGlyphs">0</text>
<text x="767.1" y="2110.2" font-size="23" text-anchor="end" textLength="26" lengthAdjust="spacingAndGlyphs">10</text>
<text x="767.1" y="2073.4" font-size="23" text-anchor="end" textLength="26" lengthAdjust="spacingAndGlyphs">20</text>
<text x="767.1" y="2036.7" font-size="23" text-anchor="end" textLength="26" lengthAdjust="spacingAndGlyphs">30</text>
<text x="767.1" y="2000.0" font-size="23" text-anchor="end" textLength="26" lengthAdjust="spacingAndGlyphs">40</text>
<text x="767.1" y="1963.3" font-size="23" text-anchor="end" textLength="26" lengthAdjust="spacingAndGlyphs">50</text>
<path d="M802.0 2138.2H820.0M811.0 2138.0V2138.4M811.0 2138.0H811.0M811.0 2138.4H811.0" stroke="#000" stroke-width="1.6" fill="none"/>
<circle cx="797.0" cy="2138.6" r="3.2" fill="#F6836F"/>
<circle cx="810.9" cy="2137.5" r="3.2" fill="#F6836F"/>
<circle cx="824.8" cy="2138.6" r="3.2" fill="#F6836F"/>
<circle cx="863.9" cy="1980.5" r="3.2" fill="#7A0C9C"/>
<circle cx="863.9" cy="2048.8" r="3.2" fill="#7A0C9C"/>
<circle cx="863.9" cy="2090.8" r="3.2" fill="#7A0C9C"/>
<path d="M863.9 2040.0H863.9M863.9 1984.9V2095.5M854.2 1984.9H873.6M854.2 2095.5H873.6" stroke="#000" stroke-width="1.6" fill="none"/>
<text x="806.5" y="2170.4" font-size="22" text-anchor="middle" textLength="58" lengthAdjust="spacingAndGlyphs">Naive</text>
<text x="869.4" y="2170.4" font-size="22" text-anchor="middle" textLength="49" lengthAdjust="spacingAndGlyphs">GC B</text>
<text transform="translate(723.3 2046.2) rotate(-90)" font-size="22" text-anchor="middle" textLength="188" lengthAdjust="spacingAndGlyphs">Class-switched (%)</text>
<text x="388.9" y="2227.5" font-size="51">P</text>
<text x="491.4" y="2226.7" font-size="22" textLength="70.5" lengthAdjust="spacingAndGlyphs">564Igi:</text>
<text x="590" y="2226.7" font-size="22" textLength="177.8" lengthAdjust="spacingAndGlyphs">A<tspan fill="#2299D6">R</tspan>SGGF<tspan fill="#159A48">YY</tspan>GM<tspan fill="#E0202A">D</tspan><tspan fill="#159A48">Y</tspan></text>
<text x="491.4" y="2254.9" font-size="22" textLength="74.9" lengthAdjust="spacingAndGlyphs">Chim1:</text>
<text x="588.2" y="2254.9" font-size="22" textLength="142.4" lengthAdjust="spacingAndGlyphs">A<tspan fill="#2299D6">R</tspan>LL<tspan fill="#159A48">Y</tspan>CAM<tspan fill="#E0202A">D</tspan><tspan fill="#159A48">Y</tspan></text>
<text x="491.4" y="2283.3" font-size="22" textLength="74.1" lengthAdjust="spacingAndGlyphs">Chim2:</text>
<text x="588.2" y="2283.3" font-size="22" textLength="149.7" lengthAdjust="spacingAndGlyphs">A<tspan fill="#2299D6">R</tspan>GLGQVGG<tspan fill="#159A48">Y</tspan></text>
<text x="491.4" y="2311.5" font-size="22" textLength="96" lengthAdjust="spacingAndGlyphs">Chim1/2:</text>
<text x="593.6" y="2311.5" font-size="22" textLength="98.6" lengthAdjust="spacingAndGlyphs">A<tspan fill="#2299D6">R</tspan>GGFA<tspan fill="#159A48">Y</tspan></text>
<text x="491.4" y="2340.7" font-size="22" textLength="85.8" lengthAdjust="spacingAndGlyphs">Chim3a:</text>
<text x="590" y="2340.7" font-size="22" textLength="199.8" lengthAdjust="spacingAndGlyphs">A<tspan fill="#2299D6">K</tspan>I<tspan fill="#159A48">YY</tspan>G<tspan fill="#159A48">N</tspan>SG<tspan fill="#159A48">Y</tspan>AM<tspan fill="#E0202A">D</tspan><tspan fill="#159A48">Y</tspan></text>
<text x="491.4" y="2369.2" font-size="22" textLength="88.7" lengthAdjust="spacingAndGlyphs">Chim3b:</text>
<text x="591" y="2369.2" font-size="22" textLength="112.1" lengthAdjust="spacingAndGlyphs">V<tspan fill="#2299D6">R</tspan>G<tspan fill="#E0202A">D</tspan>SFV<tspan fill="#159A48">Y</tspan></text>
<text x="491.4" y="2398.0" font-size="22" textLength="85" lengthAdjust="spacingAndGlyphs">Chim3c:</text>
<text x="588.9" y="2398" font-size="22" textLength="110.7" lengthAdjust="spacingAndGlyphs">A<tspan fill="#2299D6">R</tspan>GDSFA<tspan fill="#159A48">Y</tspan></text>
<text x="491.4" y="2426.5" font-size="22" textLength="87.6" lengthAdjust="spacingAndGlyphs">Chim3d:</text>
<text x="591" y="2426.5" font-size="22" textLength="285.6" lengthAdjust="spacingAndGlyphs">S<tspan fill="#E0202A">ED</tspan>TA<tspan fill="#E0202A">D</tspan><tspan fill="#159A48">YY</tspan>C<tspan fill="#E0202A">E</tspan><tspan fill="#2299D6">R</tspan>GL<tspan fill="#2299D6">RR</tspan>LLC<tspan fill="#159A48">Y</tspan>GL</text>
<text x="491.4" y="2454.6" font-size="22" textLength="85.8" lengthAdjust="spacingAndGlyphs">Chim3e:</text>
<text x="590.7" y="2454.6" font-size="22" textLength="155.6" lengthAdjust="spacingAndGlyphs">A<tspan fill="#2299D6">R</tspan>SS<tspan fill="#E0202A">D</tspan>L<tspan fill="#159A48">Y</tspan>AM<tspan fill="#E0202A">D</tspan><tspan fill="#159A48">Y</tspan></text>
<text x="491.4" y="2483.1" font-size="22" textLength="81.4" lengthAdjust="spacingAndGlyphs">Chim3f:</text>
<text x="591" y="2483.1" font-size="22" textLength="185.9" lengthAdjust="spacingAndGlyphs">A<tspan fill="#2299D6">R</tspan>S<tspan fill="#159A48">YY</tspan>S<tspan fill="#159A48">NY</tspan><tspan fill="#E0202A">D</tspan>WFA<tspan fill="#159A48">Y</tspan></text>
<text x="1001.5" y="856.5" font-size="51">Q</text>
<text x="1421.0" y="868.3" font-size="24" text-anchor="middle" textLength="36.7" lengthAdjust="spacingAndGlyphs">IgG</text>
<text x="1268.3" y="882.4" font-size="23.5" text-anchor="middle" fill="#7d7d7d" textLength="156.8" lengthAdjust="spacingAndGlyphs">564-associated</text>
<text x="1579.4" y="882.4" font-size="23.5" text-anchor="middle" fill="#7d7d7d" textLength="212.4" lengthAdjust="spacingAndGlyphs">Non-bridge chimera</text>
<path d="M1114.4 890H1726.2" stroke="#7d7d7d" stroke-width="1.6"/>
<path d="M1105.4 890l11 -4.2l-2.5 4.2l2.5 4.2ZM1735.2 890l-11 -4.2l2.5 4.2l-2.5 4.2Z" fill="#7d7d7d"/>
<circle cx="1420" cy="890" r="7.3" fill="#fff" stroke="#7d7d7d" stroke-width="1.4"/>
<path d="M1324.3 903.3V1325.7M1515.7 903.3V1325.7" stroke="#cfcfcf" stroke-width="1.5"/>
<path d="M1036.6 1121.8H1803M1036.6 1192.7H1803" stroke="#7d7d7d" stroke-width="1.5"/>
<path d="M1420.0 903.3V1325.7" stroke="#B0191E" stroke-width="1.6"/>
<rect x="1036.6" y="903.3" width="773.3" height="422.4" fill="none" stroke="#111" stroke-width="1.8"/>
<path d="M1037.2 1325.7v13M1069.1 1325.7v7M1101.0 1325.7v7M1132.9 1325.7v13M1164.8 1325.7v7M1196.7 1325.7v7M1228.6 1325.7v13M1260.5 1325.7v7M1292.4 1325.7v7M1324.3 1325.7v13M1356.2 1325.7v7M1388.1 1325.7v7M1420.0 1325.7v13M1451.9 1325.7v7M1483.8 1325.7v7M1515.7 1325.7v13M1547.6 1325.7v7M1579.5 1325.7v7M1611.4 1325.7v13M1643.3 1325.7v7M1675.2 1325.7v7M1707.1 1325.7v13M1739.0 1325.7v7M1770.9 1325.7v7M1802.8 1325.7v13M1036.6 1324.6h-12.7M1036.6 1290.8h-7M1036.6 1257.0h-7M1036.6 1223.2h-12.7M1036.6 1189.4h-7M1036.6 1155.6h-7M1036.6 1121.8h-12.7M1036.6 1088.0h-7M1036.6 1054.2h-7M1036.6 1020.4h-12.7M1036.6 986.6h-7M1036.6 952.8h-7M1036.6 919.0h-12.7" stroke="#111" stroke-width="1.7"/>
<text x="1036.0" y="1362.3" font-size="21.5" text-anchor="middle" textLength="19.8" lengthAdjust="spacingAndGlyphs">-4</text>
<text x="1131.7" y="1362.3" font-size="21.5" text-anchor="middle" textLength="19.8" lengthAdjust="spacingAndGlyphs">-3</text>
<text x="1227.4" y="1362.3" font-size="21.5" text-anchor="middle" textLength="19.8" lengthAdjust="spacingAndGlyphs">-2</text>
<text x="1323.1" y="1362.3" font-size="21.5" text-anchor="middle" textLength="19.8" lengthAdjust="spacingAndGlyphs">-1</text>
<text x="1420.0" y="1362.3" font-size="21.5" text-anchor="middle">0</text>
<text x="1515.7" y="1362.3" font-size="21.5" text-anchor="middle">1</text>
<text x="1611.4" y="1362.3" font-size="21.5" text-anchor="middle">2</text>
<text x="1707.1" y="1362.3" font-size="21.5" text-anchor="middle">3</text>
<text x="1802.8" y="1362.3" font-size="21.5" text-anchor="middle">4</text>
<text x="1021.1" y="1332.3" font-size="21.5" text-anchor="end">0</text>
<text x="1021.1" y="1230.9" font-size="21.5" text-anchor="end">1</text>
<text x="1021.1" y="1129.5" font-size="21.5" text-anchor="end">2</text>
<text x="1021.1" y="1028.1" font-size="21.5" text-anchor="end">3</text>
<text x="1021.1" y="926.7" font-size="21.5" text-anchor="end">4</text>
<text x="1420.0" y="1392.2" font-size="23" text-anchor="middle" textLength="481.5" lengthAdjust="spacingAndGlyphs">log2(median no-bridge / median 564Igi homo)</text>
<text transform="translate(995.5 1126.2) rotate(-90)" font-size="23" text-anchor="middle" textLength="156.8" lengthAdjust="spacingAndGlyphs">-log10(q value)</text>
<path d="M1454.9 1203.1a3 3 0 1 0 -6 0a3 3 0 1 0 6 0M1470.1 1216.3a3 3 0 1 0 -6 0a3 3 0 1 0 6 0M1319.4 1249.1a3 3 0 1 0 -6 0a3 3 0 1 0 6 0M1353.7 1249.1a3 3 0 1 0 -6 0a3 3 0 1 0 6 0M1394.2 1241.6a3 3 0 1 0 -6 0a3 3 0 1 0 6 0M1411.9 1249.1a3 3 0 1 0 -6 0a3 3 0 1 0 6 0M1416.5 1249.1a3 3 0 1 0 -6 0a3 3 0 1 0 6 0M1472.6 1249.1a3 3 0 1 0 -6 0a3 3 0 1 0 6 0M1203.0 1259.3a3 3 0 1 0 -6 0a3 3 0 1 0 6 0M1392.7 1259.3a3 3 0 1 0 -6 0a3 3 0 1 0 6 0M1413.9 1259.3a3 3 0 1 0 -6 0a3 3 0 1 0 6 0M1419.0 1260.3a3 3 0 1 0 -6 0a3 3 0 1 0 6 0M1426.6 1261.3a3 3 0 1 0 -6 0a3 3 0 1 0 6 0M1497.9 1270.4a3 3 0 1 0 -6 0a3 3 0 1 0 6 0M1338.6 1290.6a3 3 0 1 0 -6 0a3 3 0 1 0 6 0M1363.9 1285.6a3 3 0 1 0 -6 0a3 3 0 1 0 6 0M1386.6 1294.2a3 3 0 1 0 -6 0a3 3 0 1 0 6 0M1446.8 1290.6a3 3 0 1 0 -6 0a3 3 0 1 0 6 0M1270.8 1299.2a3 3 0 1 0 -6 0a3 3 0 1 0 6 0M1425.6 1305.8a3 3 0 1 0 -6 0a3 3 0 1 0 6 0M1440.7 1306.8a3 3 0 1 0 -6 0a3 3 0 1 0 6 0M1753.3 1260.3a3 3 0 1 0 -6 0a3 3 0 1 0 6 0" fill="#fff" stroke="#b3b3b3" stroke-width="1.1"/>
<circle cx="1146.9" cy="948.2" r="3.8" fill="#000"/>
<circle cx="1235.4" cy="1016.5" r="3.8" fill="#000"/>
<circle cx="1502.5" cy="956.3" r="3.8" fill="#000"/>
<circle cx="1479.2" cy="967.9" r="3.8" fill="#000"/>
<circle cx="1577.8" cy="948.2" r="3.8" fill="#000"/>
<circle cx="1576.8" cy="964.4" r="3.8" fill="#000"/>
<circle cx="1481.2" cy="1000.8" r="3.8" fill="#000"/>
<circle cx="1646.6" cy="1000.8" r="3.8" fill="#000"/>
<circle cx="1658.8" cy="1009.4" r="3.8" fill="#000"/>
<circle cx="1735.1" cy="1027.6" r="3.8" fill="#000"/>
<circle cx="1484.3" cy="1024.6" r="3.8" fill="#000"/>
<circle cx="1554.1" cy="1022.0" r="3.8" fill="#000"/>
<circle cx="1576.8" cy="1027.6" r="3.8" fill="#000"/>
<circle cx="1461.0" cy="1067.1" r="3.8" fill="#000"/>
<circle cx="1494.9" cy="1077.2" r="3.8" fill="#000"/>
<circle cx="1525.2" cy="1077.2" r="3.8" fill="#000"/>
<circle cx="1547.5" cy="1072.1" r="3.8" fill="#000"/>
<circle cx="1555.6" cy="1077.2" r="3.8" fill="#000"/>
<circle cx="1594.5" cy="1082.2" r="3.8" fill="#000"/>
<circle cx="1616.3" cy="1082.2" r="3.8" fill="#000"/>
<circle cx="1601.1" cy="1087.3" r="3.8" fill="#000"/>
<circle cx="1485.3" cy="1088.3" r="3.8" fill="#000"/>
<circle cx="1444.8" cy="1104.5" r="3.8" fill="#000"/>
<circle cx="1464.0" cy="1109.0" r="3.8" fill="#000"/>
<circle cx="1517.2" cy="1110.1" r="3.8" fill="#000"/>
<circle cx="1559.6" cy="1110.1" r="3.8" fill="#000"/>
<circle cx="1666.9" cy="1112.1" r="3.8" fill="#000"/>
<circle cx="1649.2" cy="1121.2" r="3.8" fill="#000"/>
<circle cx="1491.9" cy="1136.9" r="3.8" fill="#000"/>
<circle cx="1470.1" cy="1146.5" r="3.8" fill="#000"/>
<circle cx="1355.3" cy="1147.0" r="3.8" fill="#000"/>
<circle cx="1484.3" cy="1157.1" r="3.8" fill="#000"/>
<circle cx="1534.9" cy="1153.0" r="3.8" fill="#000"/>
<circle cx="1402.3" cy="1170.7" r="3.8" fill="#000"/>
<circle cx="1419.0" cy="1172.8" r="3.8" fill="#000"/>
<circle cx="1455.4" cy="1183.4" r="3.8" fill="#000"/>
<circle cx="1487.3" cy="1188.4" r="3.8" fill="#000"/>
<circle cx="1699.2" cy="1183.4" r="3.8" fill="#000"/>
<circle cx="1407.4" cy="1197.0" r="3.8" fill="#000"/>
<text x="1156.0" y="953.3" font-size="17.5" textLength="76.0" lengthAdjust="spacingAndGlyphs">Ro60/SSA</text>
<text x="1244.0" y="1021.0" font-size="17.5" textLength="55.2" lengthAdjust="spacingAndGlyphs">La/SSB</text>
<text x="1498.4" y="951.7" font-size="17.5" text-anchor="end" textLength="38.9" lengthAdjust="spacingAndGlyphs">IFN-ε</text>
<text x="1472.1" y="979.6" font-size="17.5" text-anchor="end" textLength="52.5" lengthAdjust="spacingAndGlyphs">CXCL9</text>
<text x="1583.4" y="951.7" font-size="17.5" textLength="46.5" lengthAdjust="spacingAndGlyphs">TNF-α</text>
<text x="1585.9" y="969.4" font-size="17.5" textLength="45.2" lengthAdjust="spacingAndGlyphs">Scl 70</text>
<text x="1490.8" y="1005.9" font-size="17.5" textLength="66.9" lengthAdjust="spacingAndGlyphs">PDGFBB</text>
<text x="1638.5" y="1016.5" font-size="17.5" text-anchor="end" textLength="52.8" lengthAdjust="spacingAndGlyphs">MIP-1α</text>
<text x="1668.9" y="1019.0" font-size="17.5" textLength="33.5" lengthAdjust="spacingAndGlyphs">TPO</text>
<text x="1743.7" y="1032.7" font-size="17.5" textLength="28.0" lengthAdjust="spacingAndGlyphs">IL-6</text>
<text x="1464.0" y="1028.6" font-size="17.5" text-anchor="end" textLength="69.6" lengthAdjust="spacingAndGlyphs">SARS2 N</text>
<text x="1488.3" y="1041.8" font-size="17.5" textLength="61.5" lengthAdjust="spacingAndGlyphs">CXCL10</text>
<text x="1584.9" y="1038.7" font-size="17.5" textLength="35.3" lengthAdjust="spacingAndGlyphs">hIgG</text>
<text x="1449.4" y="1063.0" font-size="17.5" text-anchor="end" textLength="45.2" lengthAdjust="spacingAndGlyphs">MDA5</text>
<text x="1472.1" y="1068.1" font-size="17.5" textLength="48.0" lengthAdjust="spacingAndGlyphs">IL-17A</text>
<text x="1540.4" y="1062.0" font-size="17.5" textLength="54.9" lengthAdjust="spacingAndGlyphs">CENPA</text>
<text x="1464.5" y="1080.7" font-size="17.5" text-anchor="end" textLength="41.0" lengthAdjust="spacingAndGlyphs">IFN-α</text>
<text x="1592.0" y="1077.2" font-size="17.5" textLength="70.5" lengthAdjust="spacingAndGlyphs">PMScl-75</text>
<text x="1626.4" y="1092.3" font-size="17.5" textLength="41.6" lengthAdjust="spacingAndGlyphs">FGF7</text>
<text x="1606.2" y="1106.0" font-size="17.5" textLength="26.2" lengthAdjust="spacingAndGlyphs">BPI</text>
<text x="1466.6" y="1098.4" font-size="17.5" text-anchor="end" textLength="58.8" lengthAdjust="spacingAndGlyphs">EBV EA</text>
<text x="1435.2" y="1114.6" font-size="17.5" text-anchor="end" textLength="38.9" lengthAdjust="spacingAndGlyphs">IL-1A</text>
<text x="1468.1" y="1127.8" font-size="17.5" textLength="50.7" lengthAdjust="spacingAndGlyphs">IL-1RA</text>
<text x="1494.9" y="1102.0" font-size="17.5" textLength="50.7" lengthAdjust="spacingAndGlyphs">CCL26</text>
<text x="1554.1" y="1118.6" font-size="17.5" text-anchor="end" textLength="19.0" lengthAdjust="spacingAndGlyphs">EJ</text>
<text x="1676.5" y="1116.1" font-size="17.5" textLength="29.8" lengthAdjust="spacingAndGlyphs">FBL</text>
<text x="1651.7" y="1140.4" font-size="17.5" textLength="47.9" lengthAdjust="spacingAndGlyphs">LIGHT</text>
<text x="1500.0" y="1145.5" font-size="17.5" textLength="39.8" lengthAdjust="spacingAndGlyphs">IFN-γ</text>
<text x="1453.9" y="1141.4" font-size="17.5" text-anchor="end" textLength="93.8" lengthAdjust="spacingAndGlyphs">U1-snRNP C</text>
<text x="1344.2" y="1152.5" font-size="17.5" text-anchor="end" textLength="31.7" lengthAdjust="spacingAndGlyphs">IL33</text>
<text x="1470.6" y="1176.8" font-size="17.5" textLength="32.6" lengthAdjust="spacingAndGlyphs">EBV</text>
<text x="1530.3" y="1169.2" font-size="17.5" textLength="41.6" lengthAdjust="spacingAndGlyphs">Smith</text>
<text x="1388.7" y="1174.3" font-size="17.5" text-anchor="end" textLength="44.3" lengthAdjust="spacingAndGlyphs">Leptin</text>
<text x="1427.6" y="1174.3" font-size="17.5" textLength="23.5" lengthAdjust="spacingAndGlyphs">LIF</text>
<text x="1423.6" y="1202.1" font-size="17.5" textLength="44.3" lengthAdjust="spacingAndGlyphs">IFN-ω</text>
<text x="1491.9" y="1207.2" font-size="17.5" textLength="28.0" lengthAdjust="spacingAndGlyphs">IL-4</text>
<text x="1708.3" y="1188.4" font-size="17.5" textLength="22.6" lengthAdjust="spacingAndGlyphs">TG</text>
<text x="1392.2" y="1209.7" font-size="17.5" text-anchor="end" textLength="37.1" lengthAdjust="spacingAndGlyphs">IL-15</text>
<text transform="translate(1560.6 1079.7) rotate(46)" font-size="17.5" textLength="92.0" lengthAdjust="spacingAndGlyphs">U1-snRNP A</text>
<text x="1001.3" y="1441.7" font-size="51">R</text>
<text x="1422.6" y="1440.7" font-size="24" text-anchor="middle" textLength="36.7" lengthAdjust="spacingAndGlyphs">IgG</text>
<text x="1273.4" y="1454.4" font-size="23.5" text-anchor="middle" fill="#7d7d7d" textLength="156.8" lengthAdjust="spacingAndGlyphs">564-associated</text>
<text x="1566.7" y="1454.4" font-size="23.5" text-anchor="middle" fill="#7d7d7d" textLength="159.3" lengthAdjust="spacingAndGlyphs">Bridge chimera</text>
<path d="M1121.5 1461.9H1723.1" stroke="#7d7d7d" stroke-width="1.6"/>
<path d="M1112.5 1461.9l11 -4.2l-2.5 4.2l2.5 4.2ZM1732.1 1461.9l-11 -4.2l2.5 4.2l-2.5 4.2Z" fill="#7d7d7d"/>
<circle cx="1421.6" cy="1461.9" r="7.3" fill="#fff" stroke="#7d7d7d" stroke-width="1.4"/>
<path d="M1327.2 1474.6V1875.7M1516.0 1474.6V1875.7" stroke="#cfcfcf" stroke-width="1.5"/>
<path d="M1044.2 1715.3H1801M1044.2 1771.3H1801" stroke="#7d7d7d" stroke-width="1.5"/>
<path d="M1421.6 1474.6V1875.7" stroke="#B0191E" stroke-width="1.6"/>
<rect x="1044.2" y="1474.6" width="763.3" height="401.1" fill="none" stroke="#111" stroke-width="1.8"/>
<path d="M1044.0 1875.7v13M1075.5 1875.7v7M1106.9 1875.7v7M1138.4 1875.7v13M1169.9 1875.7v7M1201.3 1875.7v7M1232.8 1875.7v13M1264.3 1875.7v7M1295.7 1875.7v7M1327.2 1875.7v13M1358.7 1875.7v7M1390.1 1875.7v7M1421.6 1875.7v13M1453.1 1875.7v7M1484.5 1875.7v7M1516.0 1875.7v13M1547.5 1875.7v7M1578.9 1875.7v7M1610.4 1875.7v13M1641.9 1875.7v7M1673.3 1875.7v7M1704.8 1875.7v13M1736.3 1875.7v7M1767.7 1875.7v7M1799.2 1875.7v13M1044.2 1875.7h-12.7M1044.2 1849.0h-7M1044.2 1822.2h-7M1044.2 1795.5h-12.7M1044.2 1768.7h-7M1044.2 1742.0h-7M1044.2 1715.3h-12.7M1044.2 1688.5h-7M1044.2 1661.8h-7M1044.2 1635.0h-12.7M1044.2 1608.3h-7M1044.2 1581.6h-7M1044.2 1554.8h-12.7M1044.2 1528.1h-7M1044.2 1501.3h-7M1044.2 1474.6h-12.7" stroke="#111" stroke-width="1.7"/>
<text x="1042.8" y="1912.3" font-size="21.5" text-anchor="middle" textLength="19.8" lengthAdjust="spacingAndGlyphs">-4</text>
<text x="1137.2" y="1912.3" font-size="21.5" text-anchor="middle" textLength="19.8" lengthAdjust="spacingAndGlyphs">-3</text>
<text x="1231.6" y="1912.3" font-size="21.5" text-anchor="middle" textLength="19.8" lengthAdjust="spacingAndGlyphs">-2</text>
<text x="1326.0" y="1912.3" font-size="21.5" text-anchor="middle" textLength="19.8" lengthAdjust="spacingAndGlyphs">-1</text>
<text x="1421.6" y="1912.3" font-size="21.5" text-anchor="middle">0</text>
<text x="1516.0" y="1912.3" font-size="21.5" text-anchor="middle">1</text>
<text x="1610.4" y="1912.3" font-size="21.5" text-anchor="middle">2</text>
<text x="1704.8" y="1912.3" font-size="21.5" text-anchor="middle">3</text>
<text x="1799.2" y="1912.3" font-size="21.5" text-anchor="middle">4</text>
<text x="1028.7" y="1883.4" font-size="21.5" text-anchor="end">0</text>
<text x="1028.7" y="1803.2" font-size="21.5" text-anchor="end">1</text>
<text x="1028.7" y="1723.0" font-size="21.5" text-anchor="end">2</text>
<text x="1028.7" y="1642.7" font-size="21.5" text-anchor="end">3</text>
<text x="1028.7" y="1562.5" font-size="21.5" text-anchor="end">4</text>
<text x="1028.7" y="1482.3" font-size="21.5" text-anchor="end">5</text>
<text x="1421.6" y="1938.5" font-size="23" text-anchor="middle" textLength="377.8" lengthAdjust="spacingAndGlyphs">log2(median bridge / median 564Igi)</text>
<text transform="translate(998 1681.0) rotate(-90)" font-size="23" text-anchor="middle" textLength="156.8" lengthAdjust="spacingAndGlyphs">-log10(q value)</text>
<path d="M1455.9 1790.2a3 3 0 1 0 -6 0a3 3 0 1 0 6 0M1515.1 1792.7a3 3 0 1 0 -6 0a3 3 0 1 0 6 0M1580.3 1795.8a3 3 0 1 0 -6 0a3 3 0 1 0 6 0M1607.7 1790.7a3 3 0 1 0 -6 0a3 3 0 1 0 6 0M1619.8 1800.3a3 3 0 1 0 -6 0a3 3 0 1 0 6 0M1712.4 1791.7a3 3 0 1 0 -6 0a3 3 0 1 0 6 0M1737.6 1796.3a3 3 0 1 0 -6 0a3 3 0 1 0 6 0M1429.6 1805.9a3 3 0 1 0 -6 0a3 3 0 1 0 6 0M1510.5 1810.9a3 3 0 1 0 -6 0a3 3 0 1 0 6 0M1591.5 1810.9a3 3 0 1 0 -6 0a3 3 0 1 0 6 0M1739.7 1810.9a3 3 0 1 0 -6 0a3 3 0 1 0 6 0M1451.9 1816.0a3 3 0 1 0 -6 0a3 3 0 1 0 6 0M1541.9 1814.0a3 3 0 1 0 -6 0a3 3 0 1 0 6 0M1419.0 1835.7a3 3 0 1 0 -6 0a3 3 0 1 0 6 0M1433.2 1835.7a3 3 0 1 0 -6 0a3 3 0 1 0 6 0M1472.6 1835.7a3 3 0 1 0 -6 0a3 3 0 1 0 6 0M1539.4 1835.7a3 3 0 1 0 -6 0a3 3 0 1 0 6 0M1626.4 1833.7a3 3 0 1 0 -6 0a3 3 0 1 0 6 0M1477.2 1845.8a3 3 0 1 0 -6 0a3 3 0 1 0 6 0M1535.3 1845.3a3 3 0 1 0 -6 0a3 3 0 1 0 6 0M1574.8 1847.9a3 3 0 1 0 -6 0a3 3 0 1 0 6 0M1583.9 1840.3a3 3 0 1 0 -6 0a3 3 0 1 0 6 0M1737.1 1845.8a3 3 0 1 0 -6 0a3 3 0 1 0 6 0M1505.0 1851.9a3 3 0 1 0 -6 0a3 3 0 1 0 6 0M1424.1 1862.0a3 3 0 1 0 -6 0a3 3 0 1 0 6 0M1452.4 1860.0a3 3 0 1 0 -6 0a3 3 0 1 0 6 0M1463.0 1863.5a3 3 0 1 0 -6 0a3 3 0 1 0 6 0M1496.4 1859.5a3 3 0 1 0 -6 0a3 3 0 1 0 6 0M1579.8 1860.5a3 3 0 1 0 -6 0a3 3 0 1 0 6 0M1444.8 1865.6a3 3 0 1 0 -6 0a3 3 0 1 0 6 0M1456.4 1868.6a3 3 0 1 0 -6 0a3 3 0 1 0 6 0M1471.1 1868.6a3 3 0 1 0 -6 0a3 3 0 1 0 6 0M1491.8 1868.6a3 3 0 1 0 -6 0a3 3 0 1 0 6 0M1506.0 1868.6a3 3 0 1 0 -6 0a3 3 0 1 0 6 0M1523.2 1868.6a3 3 0 1 0 -6 0a3 3 0 1 0 6 0M1526.2 1866.1a3 3 0 1 0 -6 0a3 3 0 1 0 6 0M1529.8 1865.6a3 3 0 1 0 -6 0a3 3 0 1 0 6 0M1538.4 1868.6a3 3 0 1 0 -6 0a3 3 0 1 0 6 0M1635.0 1865.6a3 3 0 1 0 -6 0a3 3 0 1 0 6 0" fill="#fff" stroke="#b3b3b3" stroke-width="1.1"/>
<circle cx="1214.2" cy="1540.8" r="3.8" fill="#000"/>
<circle cx="1579.9" cy="1540.8" r="3.8" fill="#000"/>
<circle cx="1684.1" cy="1602.5" r="3.8" fill="#000"/>
<circle cx="1656.2" cy="1607.6" r="3.8" fill="#000"/>
<circle cx="1598.6" cy="1624.3" r="3.8" fill="#000"/>
<circle cx="1586.9" cy="1635.4" r="3.8" fill="#000"/>
<circle cx="1527.8" cy="1643.0" r="3.8" fill="#000"/>
<circle cx="1542.4" cy="1656.7" r="3.8" fill="#000"/>
<circle cx="1475.7" cy="1701.7" r="3.8" fill="#000"/>
<circle cx="1550.5" cy="1704.2" r="3.8" fill="#000"/>
<circle cx="1593.0" cy="1701.7" r="3.8" fill="#000"/>
<circle cx="1541.4" cy="1713.8" r="3.8" fill="#000"/>
<circle cx="1552.6" cy="1718.9" r="3.8" fill="#000"/>
<circle cx="1531.3" cy="1740.1" r="3.8" fill="#000"/>
<circle cx="1762.0" cy="1742.1" r="3.8" fill="#000"/>
<circle cx="1441.3" cy="1766.4" r="3.8" fill="#000"/>
<circle cx="1513.6" cy="1765.9" r="3.8" fill="#000"/>
<circle cx="1555.6" cy="1771.5" r="3.8" fill="#000"/>
<circle cx="1580.9" cy="1772.0" r="3.8" fill="#000"/>
<circle cx="1678.0" cy="1766.4" r="3.8" fill="#000"/>
<circle cx="1689.1" cy="1772.0" r="3.8" fill="#000"/>
<circle cx="1201.5" cy="1787.2" r="3.8" fill="#000"/>
<text x="1224.3" y="1545.9" font-size="17.5" textLength="76.0" lengthAdjust="spacingAndGlyphs">Ro60/SSA</text>
<text x="1592.0" y="1530.2" font-size="17.5" text-anchor="middle" textLength="46.5" lengthAdjust="spacingAndGlyphs">TNF-α</text>
<text x="1693.2" y="1606.1" font-size="17.5" textLength="45.2" lengthAdjust="spacingAndGlyphs">Scl 70</text>
<text x="1660.3" y="1623.8" font-size="17.5" textLength="33.5" lengthAdjust="spacingAndGlyphs">TPO</text>
<text x="1588.0" y="1619.7" font-size="17.5" text-anchor="end" textLength="52.8" lengthAdjust="spacingAndGlyphs">MIP-1α</text>
<text x="1592.0" y="1648.1" font-size="17.5" textLength="61.5" lengthAdjust="spacingAndGlyphs">CXCL10</text>
<text x="1515.1" y="1647.1" font-size="17.5" text-anchor="end" textLength="32.6" lengthAdjust="spacingAndGlyphs">EBV</text>
<text x="1551.5" y="1660.7" font-size="17.5" textLength="26.2" lengthAdjust="spacingAndGlyphs">BPI</text>
<text x="1477.7" y="1692.1" font-size="17.5" text-anchor="middle" textLength="41.6" lengthAdjust="spacingAndGlyphs">Smith</text>
<text x="1543.5" y="1696.1" font-size="17.5" text-anchor="middle" textLength="54.9" lengthAdjust="spacingAndGlyphs">CENPA</text>
<text x="1594.5" y="1689.5" font-size="17.5" textLength="35.3" lengthAdjust="spacingAndGlyphs">hIgG</text>
<text x="1525.2" y="1728.0" font-size="17.5" text-anchor="end" textLength="52.5" lengthAdjust="spacingAndGlyphs">CXCL9</text>
<text x="1558.1" y="1723.9" font-size="17.5" textLength="48.0" lengthAdjust="spacingAndGlyphs">IL-17A</text>
<text x="1536.4" y="1744.2" font-size="17.5" textLength="50.7" lengthAdjust="spacingAndGlyphs">CCL26</text>
<text x="1770.0" y="1746.7" font-size="17.5" textLength="28.0" lengthAdjust="spacingAndGlyphs">IL-6</text>
<text x="1445.3" y="1756.8" font-size="17.5" text-anchor="middle" textLength="37.1" lengthAdjust="spacingAndGlyphs">IL-22</text>
<text x="1495.4" y="1788.7" font-size="17.5" text-anchor="middle" textLength="69.6" lengthAdjust="spacingAndGlyphs">SARS2 N</text>
<text x="1575.8" y="1763.4" font-size="17.5" text-anchor="middle" textLength="38.9" lengthAdjust="spacingAndGlyphs">IFN-ε</text>
<text x="1585.4" y="1787.2" font-size="17.5" textLength="66.9" lengthAdjust="spacingAndGlyphs">PDGFBB</text>
<text x="1694.2" y="1758.3" font-size="17.5" text-anchor="middle" textLength="92.0" lengthAdjust="spacingAndGlyphs">U1-snRNP A</text>
<text x="1685.1" y="1789.7" font-size="17.5" text-anchor="middle" textLength="22.6" lengthAdjust="spacingAndGlyphs">TG</text>
<text x="1211.1" y="1791.2" font-size="17.5" textLength="55.2" lengthAdjust="spacingAndGlyphs">La/SSB</text>
<text x="1001.5" y="1994.0" font-size="51">S</text>
<text x="1423.6" y="1997.2" font-size="24" text-anchor="middle" textLength="36.7" lengthAdjust="spacingAndGlyphs">IgG</text>
<text x="1253.1" y="2014.4" font-size="23.5" text-anchor="middle" fill="#7d7d7d" textLength="212.4" lengthAdjust="spacingAndGlyphs">Non-bridge chimera</text>
<text x="1566.7" y="2014.4" font-size="23.5" text-anchor="middle" fill="#7d7d7d" textLength="159.3" lengthAdjust="spacingAndGlyphs">Bridge chimera</text>
<path d="M1121.5 2019.9H1723.1" stroke="#7d7d7d" stroke-width="1.6"/>
<path d="M1112.5 2019.9l11 -4.2l-2.5 4.2l2.5 4.2ZM1732.1 2019.9l-11 -4.2l2.5 4.2l-2.5 4.2Z" fill="#7d7d7d"/>
<circle cx="1422.6" cy="2019.9" r="7.3" fill="#fff" stroke="#7d7d7d" stroke-width="1.4"/>
<path d="M1329.3 2029.5V2429.6M1516.9 2029.5V2429.6" stroke="#cfcfcf" stroke-width="1.5"/>
<path d="M1046.8 2229.6H1800.4M1046.8 2299.5H1800.4" stroke="#7d7d7d" stroke-width="1.5"/>
<path d="M1423.1 2029.5V2429.6" stroke="#B0191E" stroke-width="1.6"/>
<rect x="1046.8" y="2029.5" width="753.6" height="400.1" fill="none" stroke="#111" stroke-width="1.8"/>
<path d="M1047.9 2429.6v13M1079.2 2429.6v7M1110.4 2429.6v7M1141.7 2429.6v13M1173.0 2429.6v7M1204.2 2429.6v7M1235.5 2429.6v13M1266.8 2429.6v7M1298.0 2429.6v7M1329.3 2429.6v13M1360.6 2429.6v7M1391.8 2429.6v7M1423.1 2429.6v13M1454.4 2429.6v7M1485.6 2429.6v7M1516.9 2429.6v13M1548.2 2429.6v7M1579.4 2429.6v7M1610.7 2429.6v13M1642.0 2429.6v7M1673.2 2429.6v7M1704.5 2429.6v13M1735.8 2429.6v7M1767.0 2429.6v7M1798.3 2429.6v13M1046.8 2429.6h-12.7M1046.8 2396.3h-7M1046.8 2362.9h-7M1046.8 2329.6h-12.7M1046.8 2296.2h-7M1046.8 2262.9h-7M1046.8 2229.6h-12.7M1046.8 2196.2h-7M1046.8 2162.9h-7M1046.8 2129.5h-12.7M1046.8 2096.2h-7M1046.8 2062.9h-7M1046.8 2029.5h-12.7" stroke="#111" stroke-width="1.7"/>
<text x="1046.7" y="2466.2" font-size="21.5" text-anchor="middle" textLength="19.8" lengthAdjust="spacingAndGlyphs">-4</text>
<text x="1140.5" y="2466.2" font-size="21.5" text-anchor="middle" textLength="19.8" lengthAdjust="spacingAndGlyphs">-3</text>
<text x="1234.3" y="2466.2" font-size="21.5" text-anchor="middle" textLength="19.8" lengthAdjust="spacingAndGlyphs">-2</text>
<text x="1328.1" y="2466.2" font-size="21.5" text-anchor="middle" textLength="19.8" lengthAdjust="spacingAndGlyphs">-1</text>
<text x="1423.1" y="2466.2" font-size="21.5" text-anchor="middle">0</text>
<text x="1516.9" y="2466.2" font-size="21.5" text-anchor="middle">1</text>
<text x="1610.7" y="2466.2" font-size="21.5" text-anchor="middle">2</text>
<text x="1704.5" y="2466.2" font-size="21.5" text-anchor="middle">3</text>
<text x="1798.3" y="2466.2" font-size="21.5" text-anchor="middle">4</text>
<text x="1031.3" y="2437.3" font-size="21.5" text-anchor="end">0</text>
<text x="1031.3" y="2337.3" font-size="21.5" text-anchor="end">1</text>
<text x="1031.3" y="2237.3" font-size="21.5" text-anchor="end">2</text>
<text x="1031.3" y="2137.2" font-size="21.5" text-anchor="end">3</text>
<text x="1031.3" y="2037.2" font-size="21.5" text-anchor="end">4</text>
<text x="1423.1" y="2490.3" font-size="23" text-anchor="middle" textLength="531.6" lengthAdjust="spacingAndGlyphs">log2(median bridge chim / median no-bridge chim)</text>
<text transform="translate(995 2230.9) rotate(-90)" font-size="23" text-anchor="middle" textLength="161.9" lengthAdjust="spacingAndGlyphs">-log10(q value)</text>
<path d="M1282.4 2310.7a3 3 0 1 0 -6 0a3 3 0 1 0 6 0M1299.1 2310.7a3 3 0 1 0 -6 0a3 3 0 1 0 6 0M1306.7 2310.7a3 3 0 1 0 -6 0a3 3 0 1 0 6 0M1323.4 2310.7a3 3 0 1 0 -6 0a3 3 0 1 0 6 0M1358.3 2310.7a3 3 0 1 0 -6 0a3 3 0 1 0 6 0M1363.4 2310.7a3 3 0 1 0 -6 0a3 3 0 1 0 6 0M1369.9 2310.7a3 3 0 1 0 -6 0a3 3 0 1 0 6 0M1380.6 2310.7a3 3 0 1 0 -6 0a3 3 0 1 0 6 0M1367.4 2302.7a3 3 0 1 0 -6 0a3 3 0 1 0 6 0M1246.0 2325.9a3 3 0 1 0 -6 0a3 3 0 1 0 6 0M1628.4 2329.5a3 3 0 1 0 -6 0a3 3 0 1 0 6 0M1366.4 2337.6a3 3 0 1 0 -6 0a3 3 0 1 0 6 0M1363.4 2343.1a3 3 0 1 0 -6 0a3 3 0 1 0 6 0M1306.7 2343.1a3 3 0 1 0 -6 0a3 3 0 1 0 6 0M1287.0 2355.8a3 3 0 1 0 -6 0a3 3 0 1 0 6 0M1309.2 2357.3a3 3 0 1 0 -6 0a3 3 0 1 0 6 0M1324.4 2353.7a3 3 0 1 0 -6 0a3 3 0 1 0 6 0M1335.5 2360.8a3 3 0 1 0 -6 0a3 3 0 1 0 6 0M1364.9 2362.3a3 3 0 1 0 -6 0a3 3 0 1 0 6 0M1373.5 2357.3a3 3 0 1 0 -6 0a3 3 0 1 0 6 0M1378.5 2358.3a3 3 0 1 0 -6 0a3 3 0 1 0 6 0M1385.1 2354.7a3 3 0 1 0 -6 0a3 3 0 1 0 6 0M1374.0 2357.3a3 3 0 1 0 -6 0a3 3 0 1 0 6 0M1318.3 2376.5a3 3 0 1 0 -6 0a3 3 0 1 0 6 0M1326.9 2376.5a3 3 0 1 0 -6 0a3 3 0 1 0 6 0M1353.7 2378.0a3 3 0 1 0 -6 0a3 3 0 1 0 6 0M1358.3 2378.0a3 3 0 1 0 -6 0a3 3 0 1 0 6 0M1369.9 2372.5a3 3 0 1 0 -6 0a3 3 0 1 0 6 0M1392.7 2376.5a3 3 0 1 0 -6 0a3 3 0 1 0 6 0M1340.1 2387.6a3 3 0 1 0 -6 0a3 3 0 1 0 6 0M1386.1 2387.6a3 3 0 1 0 -6 0a3 3 0 1 0 6 0M1342.6 2395.2a3 3 0 1 0 -6 0a3 3 0 1 0 6 0M1354.8 2397.2a3 3 0 1 0 -6 0a3 3 0 1 0 6 0M1361.3 2396.2a3 3 0 1 0 -6 0a3 3 0 1 0 6 0M1364.4 2397.2a3 3 0 1 0 -6 0a3 3 0 1 0 6 0M1381.6 2395.7a3 3 0 1 0 -6 0a3 3 0 1 0 6 0M1396.2 2392.2a3 3 0 1 0 -6 0a3 3 0 1 0 6 0M1409.4 2397.7a3 3 0 1 0 -6 0a3 3 0 1 0 6 0M1396.2 2402.3a3 3 0 1 0 -6 0a3 3 0 1 0 6 0M1400.3 2402.3a3 3 0 1 0 -6 0a3 3 0 1 0 6 0M1411.4 2404.3a3 3 0 1 0 -6 0a3 3 0 1 0 6 0M1385.1 2404.3a3 3 0 1 0 -6 0a3 3 0 1 0 6 0M1396.7 2411.4a3 3 0 1 0 -6 0a3 3 0 1 0 6 0M1383.1 2417.0a3 3 0 1 0 -6 0a3 3 0 1 0 6 0M1431.6 2394.2a3 3 0 1 0 -6 0a3 3 0 1 0 6 0M1434.2 2395.7a3 3 0 1 0 -6 0a3 3 0 1 0 6 0M1448.8 2399.8a3 3 0 1 0 -6 0a3 3 0 1 0 6 0M1463.5 2387.6a3 3 0 1 0 -6 0a3 3 0 1 0 6 0M1471.6 2402.8a3 3 0 1 0 -6 0a3 3 0 1 0 6 0M1481.7 2395.2a3 3 0 1 0 -6 0a3 3 0 1 0 6 0M1484.2 2397.2a3 3 0 1 0 -6 0a3 3 0 1 0 6 0M1428.6 2414.4a3 3 0 1 0 -6 0a3 3 0 1 0 6 0M1471.6 2419.0a3 3 0 1 0 -6 0a3 3 0 1 0 6 0M1256.1 2429.6a3 3 0 1 0 -6 0a3 3 0 1 0 6 0M1422.5 2429.6a3 3 0 1 0 -6 0a3 3 0 1 0 6 0M1428.1 2427.1a3 3 0 1 0 -6 0a3 3 0 1 0 6 0M1434.7 2425.6a3 3 0 1 0 -6 0a3 3 0 1 0 6 0M1439.2 2424.0a3 3 0 1 0 -6 0a3 3 0 1 0 6 0M1465.0 2428.1a3 3 0 1 0 -6 0a3 3 0 1 0 6 0" fill="#fff" stroke="#b3b3b3" stroke-width="1.1"/>
<circle cx="1051.8" cy="2287.5" r="3.8" fill="#000"/>
<circle cx="1162.1" cy="2302.7" r="3.8" fill="#000"/>
<circle cx="1307.2" cy="2287.5" r="3.8" fill="#000"/>
<circle cx="1370.0" cy="2287.5" r="3.8" fill="#000"/>
<text x="1060.9" y="2291.5" font-size="17.5" fill="#222" textLength="37.1" lengthAdjust="spacingAndGlyphs">IL-10</text>
<text x="1160.1" y="2324.4" font-size="17.5" text-anchor="middle" fill="#222" textLength="48.8" lengthAdjust="spacingAndGlyphs">IFN-λ2</text>
<text x="1311.8" y="2278.9" font-size="17.5" text-anchor="middle" fill="#222" textLength="31.7" lengthAdjust="spacingAndGlyphs">IL33</text>
<text x="1371.0" y="2277.9" font-size="17.5" text-anchor="middle" fill="#222" textLength="38.9" lengthAdjust="spacingAndGlyphs">IFN-ε</text>
<text x="1372.0" y="2344.6" font-size="17.5" fill="#222" textLength="76.0" lengthAdjust="spacingAndGlyphs">Ro60/SSA</text>
<text x="1468.1" y="2385.1" font-size="17.5" fill="#222" textLength="55.2" lengthAdjust="spacingAndGlyphs">La/SSB</text>
<text x="1632.5" y="2335.5" font-size="17.5" fill="#222" textLength="59.7" lengthAdjust="spacingAndGlyphs">PDC-E2</text>
</svg></body></html>
